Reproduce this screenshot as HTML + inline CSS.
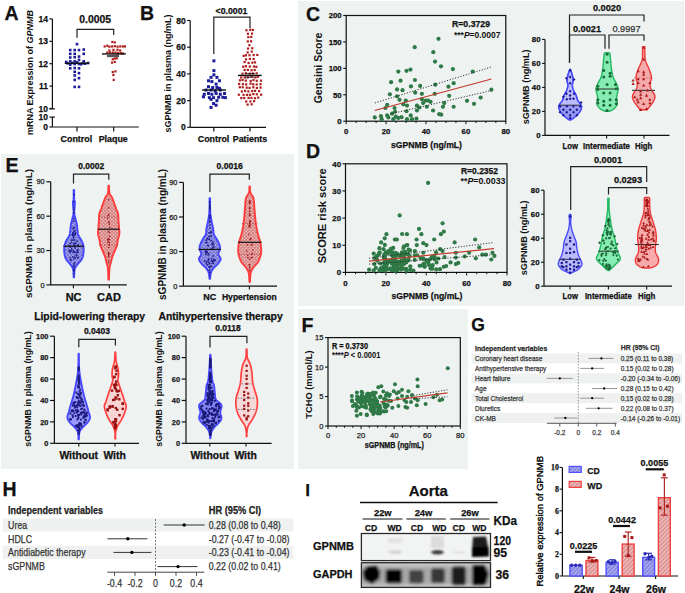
<!DOCTYPE html><html><head><meta charset="utf-8"><style>html,body{margin:0;padding:0;background:#fff;}svg{display:block;}</style></head><body><svg width="685" height="593" viewBox="0 0 685 593" font-family='"Liberation Sans", sans-serif'>
<defs>
<pattern id="hb" patternUnits="userSpaceOnUse" width="2.4" height="2.4" patternTransform="rotate(45)"><rect width="2.4" height="2.4" fill="#a4a4fa"/><rect width="0.7" height="2.4" fill="#6c6cc0"/><rect width="2.4" height="0.7" fill="#6c6cc0"/></pattern>
<pattern id="hr" patternUnits="userSpaceOnUse" width="2.4" height="2.4" patternTransform="rotate(45)"><rect width="2.4" height="2.4" fill="#f6b6b6"/><rect width="0.7" height="2.4" fill="#c87878"/><rect width="2.4" height="0.7" fill="#c87878"/></pattern>
<pattern id="hb2" patternUnits="userSpaceOnUse" width="3" height="3" patternTransform="rotate(45)"><rect width="3" height="3" fill="#b9b9f6"/><rect width="1" height="3" fill="#8a8ae0"/></pattern>
<pattern id="hr2" patternUnits="userSpaceOnUse" width="3" height="3" patternTransform="rotate(45)"><rect width="3" height="3" fill="#f0bcbc"/><rect width="1" height="3" fill="#d88a8a"/></pattern>
</defs>
<rect x="0" y="0" width="685" height="593" fill="#ffffff" stroke="none" stroke-width="0" />
<rect x="298" y="1" width="386" height="305" fill="#eef2f1" stroke="none" stroke-width="0" />
<rect x="1" y="154" width="293" height="315" fill="#eef2f1" stroke="none" stroke-width="0" />
<rect x="298" y="309" width="170" height="160" fill="#eef2f1" stroke="none" stroke-width="0" />
<text x="4.4" y="20.02" font-size="19.5" font-weight="bold" text-anchor="start" fill="#111"  stroke="#111" stroke-width="0.25">A</text>
<text x="0" y="0" font-size="9" font-weight="bold" fill="#111" text-anchor="middle" transform="translate(33.2 72.5) rotate(-90)">mRNA Expression of <tspan font-style="italic">GPNMB</tspan></text>
<line x1="52.4" y1="18.9" x2="52.4" y2="108.5" stroke="#111" stroke-width="1.2" />
<line x1="52.4" y1="117.1" x2="52.4" y2="127" stroke="#111" stroke-width="1.2" />
<line x1="49.4" y1="18.9" x2="52.4" y2="18.9" stroke="#111" stroke-width="1.2" />
<text x="47.9" y="21.96" font-size="8.5" font-weight="bold" text-anchor="end" fill="#111"  stroke="#111" stroke-width="0.25">14</text>
<line x1="49.4" y1="41.3" x2="52.4" y2="41.3" stroke="#111" stroke-width="1.2" />
<text x="47.9" y="44.36" font-size="8.5" font-weight="bold" text-anchor="end" fill="#111"  stroke="#111" stroke-width="0.25">13</text>
<line x1="49.4" y1="63.7" x2="52.4" y2="63.7" stroke="#111" stroke-width="1.2" />
<text x="47.9" y="66.76" font-size="8.5" font-weight="bold" text-anchor="end" fill="#111"  stroke="#111" stroke-width="0.25">12</text>
<line x1="49.4" y1="86.1" x2="52.4" y2="86.1" stroke="#111" stroke-width="1.2" />
<text x="47.9" y="89.16" font-size="8.5" font-weight="bold" text-anchor="end" fill="#111"  stroke="#111" stroke-width="0.25">11</text>
<line x1="49.4" y1="108.5" x2="52.4" y2="108.5" stroke="#111" stroke-width="1.2" />
<text x="47.9" y="111.56" font-size="8.5" font-weight="bold" text-anchor="end" fill="#111"  stroke="#111" stroke-width="0.25">10</text>
<line x1="49.4" y1="108.9" x2="54.9" y2="108.9" stroke="#111" stroke-width="1.2" />
<line x1="49.4" y1="117.1" x2="54.9" y2="117.1" stroke="#111" stroke-width="1.2" />
<line x1="49.4" y1="127" x2="52.4" y2="127" stroke="#111" stroke-width="1.2" />
<text x="47.9" y="120.16" font-size="8.5" font-weight="bold" text-anchor="end" fill="#111"  stroke="#111" stroke-width="0.25">10</text>
<text x="47.9" y="130.06" font-size="8.5" font-weight="bold" text-anchor="end" fill="#111"  stroke="#111" stroke-width="0.25">0</text>
<line x1="52.4" y1="127" x2="138.8" y2="127" stroke="#111" stroke-width="1.2" />
<line x1="77" y1="127" x2="77" y2="131.5" stroke="#111" stroke-width="1.2" />
<line x1="113.7" y1="127" x2="113.7" y2="131.5" stroke="#111" stroke-width="1.2" />
<text x="76.4" y="141.6" font-size="8.9" font-weight="bold" text-anchor="middle" fill="#111"  stroke="#111" stroke-width="0.25">Control</text>
<text x="113.2" y="141.6" font-size="8.9" font-weight="bold" text-anchor="middle" fill="#111"  stroke="#111" stroke-width="0.25">Plaque</text>
<polyline points="77,37.7 77,29.3 113.7,29.3 113.7,35" stroke="#222" stroke-width="1.2" fill="none" />
<text x="95.2" y="23.34" font-size="10.4" font-weight="bold" text-anchor="middle" fill="#111"  stroke="#111" stroke-width="0.25">0.0005</text>
<rect x="75.69" y="42.84" width="2.6" height="2.6" fill="#1d1d9a" stroke="none" stroke-width="0" />
<rect x="68.94" y="48.78" width="2.6" height="2.6" fill="#1d1d9a" stroke="none" stroke-width="0" />
<rect x="73.4" y="48.78" width="2.6" height="2.6" fill="#1d1d9a" stroke="none" stroke-width="0" />
<rect x="77.71" y="48.78" width="2.6" height="2.6" fill="#1d1d9a" stroke="none" stroke-width="0" />
<rect x="82.44" y="48.24" width="2.6" height="2.6" fill="#1d1d9a" stroke="none" stroke-width="0" />
<rect x="68.94" y="52.56" width="2.6" height="2.6" fill="#1d1d9a" stroke="none" stroke-width="0" />
<rect x="73.4" y="52.56" width="2.6" height="2.6" fill="#1d1d9a" stroke="none" stroke-width="0" />
<rect x="82.44" y="52.56" width="2.6" height="2.6" fill="#1d1d9a" stroke="none" stroke-width="0" />
<rect x="68.94" y="56.2" width="2.6" height="2.6" fill="#1d1d9a" stroke="none" stroke-width="0" />
<rect x="73.4" y="55.93" width="2.6" height="2.6" fill="#1d1d9a" stroke="none" stroke-width="0" />
<rect x="77.71" y="55.26" width="2.6" height="2.6" fill="#1d1d9a" stroke="none" stroke-width="0" />
<rect x="64.89" y="60.66" width="2.6" height="2.6" fill="#1d1d9a" stroke="none" stroke-width="0" />
<rect x="68.94" y="59.98" width="2.6" height="2.6" fill="#1d1d9a" stroke="none" stroke-width="0" />
<rect x="73.4" y="59.98" width="2.6" height="2.6" fill="#1d1d9a" stroke="none" stroke-width="0" />
<rect x="77.71" y="58.63" width="2.6" height="2.6" fill="#1d1d9a" stroke="none" stroke-width="0" />
<rect x="81.09" y="62.01" width="2.6" height="2.6" fill="#1d1d9a" stroke="none" stroke-width="0" />
<rect x="86.89" y="61.74" width="2.6" height="2.6" fill="#1d1d9a" stroke="none" stroke-width="0" />
<rect x="68.94" y="63.36" width="2.6" height="2.6" fill="#1d1d9a" stroke="none" stroke-width="0" />
<rect x="73.4" y="62.68" width="2.6" height="2.6" fill="#1d1d9a" stroke="none" stroke-width="0" />
<rect x="77.71" y="62.68" width="2.6" height="2.6" fill="#1d1d9a" stroke="none" stroke-width="0" />
<rect x="68.94" y="67" width="2.6" height="2.6" fill="#1d1d9a" stroke="none" stroke-width="0" />
<rect x="73.4" y="66.73" width="2.6" height="2.6" fill="#1d1d9a" stroke="none" stroke-width="0" />
<rect x="77.71" y="67" width="2.6" height="2.6" fill="#1d1d9a" stroke="none" stroke-width="0" />
<rect x="73.4" y="70.51" width="2.6" height="2.6" fill="#1d1d9a" stroke="none" stroke-width="0" />
<rect x="77.71" y="71.86" width="2.6" height="2.6" fill="#1d1d9a" stroke="none" stroke-width="0" />
<rect x="73.4" y="74.15" width="2.6" height="2.6" fill="#1d1d9a" stroke="none" stroke-width="0" />
<rect x="77.71" y="76.85" width="2.6" height="2.6" fill="#1d1d9a" stroke="none" stroke-width="0" />
<rect x="73.4" y="78.61" width="2.6" height="2.6" fill="#1d1d9a" stroke="none" stroke-width="0" />
<rect x="73.4" y="85.62" width="2.6" height="2.6" fill="#1d1d9a" stroke="none" stroke-width="0" />
<rect x="77.71" y="85.62" width="2.6" height="2.6" fill="#1d1d9a" stroke="none" stroke-width="0" />
<rect x="70.97" y="61.6" width="2.6" height="2.6" fill="#1d1d9a" stroke="none" stroke-width="0" />
<rect x="75.69" y="61.06" width="2.6" height="2.6" fill="#1d1d9a" stroke="none" stroke-width="0" />
<rect x="79.74" y="62.95" width="2.6" height="2.6" fill="#1d1d9a" stroke="none" stroke-width="0" />
<rect x="83.79" y="62.41" width="2.6" height="2.6" fill="#1d1d9a" stroke="none" stroke-width="0" />
<rect x="66.24" y="62.01" width="2.6" height="2.6" fill="#1d1d9a" stroke="none" stroke-width="0" />
<rect x="82.44" y="59.98" width="2.6" height="2.6" fill="#1d1d9a" stroke="none" stroke-width="0" />
<rect x="111.25" y="40.88" width="2.2" height="2.2" fill="#b01c1c" stroke="none" stroke-width="0" />
<rect x="113.68" y="41.29" width="2.2" height="2.2" fill="#b01c1c" stroke="none" stroke-width="0" />
<rect x="103.56" y="45.34" width="2.2" height="2.2" fill="#b01c1c" stroke="none" stroke-width="0" />
<rect x="106.25" y="44.66" width="2.2" height="2.2" fill="#b01c1c" stroke="none" stroke-width="0" />
<rect x="108.28" y="45.61" width="2.2" height="2.2" fill="#b01c1c" stroke="none" stroke-width="0" />
<rect x="110.98" y="45.34" width="2.2" height="2.2" fill="#b01c1c" stroke="none" stroke-width="0" />
<rect x="113.68" y="45.07" width="2.2" height="2.2" fill="#b01c1c" stroke="none" stroke-width="0" />
<rect x="116.38" y="45.61" width="2.2" height="2.2" fill="#b01c1c" stroke="none" stroke-width="0" />
<rect x="119.08" y="45.34" width="2.2" height="2.2" fill="#b01c1c" stroke="none" stroke-width="0" />
<rect x="121.77" y="45.34" width="2.2" height="2.2" fill="#b01c1c" stroke="none" stroke-width="0" />
<rect x="123.8" y="45.34" width="2.2" height="2.2" fill="#b01c1c" stroke="none" stroke-width="0" />
<rect x="106.25" y="51.41" width="2.2" height="2.2" fill="#b01c1c" stroke="none" stroke-width="0" />
<rect x="108.95" y="51.41" width="2.2" height="2.2" fill="#b01c1c" stroke="none" stroke-width="0" />
<rect x="111.65" y="51.41" width="2.2" height="2.2" fill="#b01c1c" stroke="none" stroke-width="0" />
<rect x="114.35" y="51.41" width="2.2" height="2.2" fill="#b01c1c" stroke="none" stroke-width="0" />
<rect x="117.05" y="51.81" width="2.2" height="2.2" fill="#b01c1c" stroke="none" stroke-width="0" />
<rect x="119.75" y="52.08" width="2.2" height="2.2" fill="#b01c1c" stroke="none" stroke-width="0" />
<rect x="121.77" y="52.35" width="2.2" height="2.2" fill="#b01c1c" stroke="none" stroke-width="0" />
<rect x="110.98" y="54.78" width="2.2" height="2.2" fill="#b01c1c" stroke="none" stroke-width="0" />
<rect x="113.68" y="54.78" width="2.2" height="2.2" fill="#b01c1c" stroke="none" stroke-width="0" />
<rect x="116.38" y="54.11" width="2.2" height="2.2" fill="#b01c1c" stroke="none" stroke-width="0" />
<rect x="111.65" y="58.16" width="2.2" height="2.2" fill="#b01c1c" stroke="none" stroke-width="0" />
<rect x="113.68" y="57.48" width="2.2" height="2.2" fill="#b01c1c" stroke="none" stroke-width="0" />
<rect x="115.7" y="57.21" width="2.2" height="2.2" fill="#b01c1c" stroke="none" stroke-width="0" />
<rect x="110.98" y="61.53" width="2.2" height="2.2" fill="#b01c1c" stroke="none" stroke-width="0" />
<rect x="113.68" y="60.86" width="2.2" height="2.2" fill="#b01c1c" stroke="none" stroke-width="0" />
<rect x="111.65" y="70.98" width="2.2" height="2.2" fill="#b01c1c" stroke="none" stroke-width="0" />
<rect x="114.35" y="70.3" width="2.2" height="2.2" fill="#b01c1c" stroke="none" stroke-width="0" />
<rect x="112.33" y="73.95" width="2.2" height="2.2" fill="#b01c1c" stroke="none" stroke-width="0" />
<rect x="112.6" y="78.81" width="2.2" height="2.2" fill="#b01c1c" stroke="none" stroke-width="0" />
<rect x="108.28" y="49.39" width="2.2" height="2.2" fill="#b01c1c" stroke="none" stroke-width="0" />
<rect x="112.33" y="48.71" width="2.2" height="2.2" fill="#b01c1c" stroke="none" stroke-width="0" />
<rect x="116.38" y="48.71" width="2.2" height="2.2" fill="#b01c1c" stroke="none" stroke-width="0" />
<rect x="119.08" y="49.39" width="2.2" height="2.2" fill="#b01c1c" stroke="none" stroke-width="0" />
<line x1="64.8" y1="63.3" x2="89" y2="63.3" stroke="#111" stroke-width="1.4" />
<line x1="102" y1="53.9" x2="125.8" y2="53.9" stroke="#111" stroke-width="1.4" />
<rect x="107" y="55" width="12" height="2.2" fill="#555" stroke="none" stroke-width="0" />
<text x="140.1" y="20.02" font-size="19.5" font-weight="bold" text-anchor="start" fill="#111"  stroke="#111" stroke-width="0.25">B</text>
<text x="0" y="0" font-size="9" font-weight="bold" fill="#111" text-anchor="middle" transform="translate(171 73.5) rotate(-90)">sGPNMB in plasma (ng/mL)</text>
<line x1="190.2" y1="20.5" x2="190.2" y2="127.3" stroke="#111" stroke-width="1.2" />
<line x1="187.2" y1="127.3" x2="190.2" y2="127.3" stroke="#111" stroke-width="1.2" />
<text x="185.7" y="130.36" font-size="8.5" font-weight="bold" text-anchor="end" fill="#111"  stroke="#111" stroke-width="0.25">0</text>
<line x1="187.2" y1="100.6" x2="190.2" y2="100.6" stroke="#111" stroke-width="1.2" />
<text x="185.7" y="103.66" font-size="8.5" font-weight="bold" text-anchor="end" fill="#111"  stroke="#111" stroke-width="0.25">20</text>
<line x1="187.2" y1="73.9" x2="190.2" y2="73.9" stroke="#111" stroke-width="1.2" />
<text x="185.7" y="76.96" font-size="8.5" font-weight="bold" text-anchor="end" fill="#111"  stroke="#111" stroke-width="0.25">40</text>
<line x1="187.2" y1="47.2" x2="190.2" y2="47.2" stroke="#111" stroke-width="1.2" />
<text x="185.7" y="50.26" font-size="8.5" font-weight="bold" text-anchor="end" fill="#111"  stroke="#111" stroke-width="0.25">60</text>
<line x1="187.2" y1="20.5" x2="190.2" y2="20.5" stroke="#111" stroke-width="1.2" />
<text x="185.7" y="23.56" font-size="8.5" font-weight="bold" text-anchor="end" fill="#111"  stroke="#111" stroke-width="0.25">80</text>
<line x1="190.2" y1="127.3" x2="266" y2="127.3" stroke="#111" stroke-width="1.2" />
<line x1="213.8" y1="127.3" x2="213.8" y2="131.5" stroke="#111" stroke-width="1.2" />
<line x1="250" y1="127.3" x2="250" y2="131.5" stroke="#111" stroke-width="1.2" />
<text x="213.5" y="141.7" font-size="8.9" font-weight="bold" text-anchor="middle" fill="#111"  stroke="#111" stroke-width="0.25">Control</text>
<text x="250" y="141.7" font-size="8.9" font-weight="bold" text-anchor="middle" fill="#111"  stroke="#111" stroke-width="0.25">Patients</text>
<polyline points="213.8,54 213.8,17.2 250,17.2 250,28" stroke="#222" stroke-width="1.2" fill="none" />
<text x="231.5" y="13.51" font-size="9.2" font-weight="bold" text-anchor="middle" fill="#111"  textLength="32" lengthAdjust="spacingAndGlyphs" stroke="#111" stroke-width="0.25">&lt;0.0001</text>
<rect x="212.4" y="59.34" width="3" height="3" fill="#1d1d9a" stroke="none" stroke-width="0" />
<rect x="212.4" y="69.13" width="3" height="3" fill="#1d1d9a" stroke="none" stroke-width="0" />
<rect x="212.4" y="73.35" width="3" height="3" fill="#1d1d9a" stroke="none" stroke-width="0" />
<rect x="209.53" y="75.88" width="3" height="3" fill="#1d1d9a" stroke="none" stroke-width="0" />
<rect x="215.44" y="75.88" width="3" height="3" fill="#1d1d9a" stroke="none" stroke-width="0" />
<rect x="207" y="79.26" width="3" height="3" fill="#1d1d9a" stroke="none" stroke-width="0" />
<rect x="217.97" y="79.26" width="3" height="3" fill="#1d1d9a" stroke="none" stroke-width="0" />
<rect x="210.38" y="80.1" width="3" height="3" fill="#1d1d9a" stroke="none" stroke-width="0" />
<rect x="214.6" y="82.64" width="3" height="3" fill="#1d1d9a" stroke="none" stroke-width="0" />
<rect x="207" y="85.17" width="3" height="3" fill="#1d1d9a" stroke="none" stroke-width="0" />
<rect x="211.22" y="86.01" width="3" height="3" fill="#1d1d9a" stroke="none" stroke-width="0" />
<rect x="215.44" y="86.01" width="3" height="3" fill="#1d1d9a" stroke="none" stroke-width="0" />
<rect x="217.97" y="86.85" width="3" height="3" fill="#1d1d9a" stroke="none" stroke-width="0" />
<rect x="204.47" y="88.54" width="3" height="3" fill="#1d1d9a" stroke="none" stroke-width="0" />
<rect x="209.53" y="88.54" width="3" height="3" fill="#1d1d9a" stroke="none" stroke-width="0" />
<rect x="213.75" y="89.39" width="3" height="3" fill="#1d1d9a" stroke="none" stroke-width="0" />
<rect x="218.82" y="88.54" width="3" height="3" fill="#1d1d9a" stroke="none" stroke-width="0" />
<rect x="202.78" y="92.76" width="3" height="3" fill="#1d1d9a" stroke="none" stroke-width="0" />
<rect x="207" y="91.92" width="3" height="3" fill="#1d1d9a" stroke="none" stroke-width="0" />
<rect x="210.38" y="92.76" width="3" height="3" fill="#1d1d9a" stroke="none" stroke-width="0" />
<rect x="214.6" y="91.92" width="3" height="3" fill="#1d1d9a" stroke="none" stroke-width="0" />
<rect x="218.82" y="92.76" width="3" height="3" fill="#1d1d9a" stroke="none" stroke-width="0" />
<rect x="223.04" y="91.92" width="3" height="3" fill="#1d1d9a" stroke="none" stroke-width="0" />
<rect x="201.94" y="95.29" width="3" height="3" fill="#1d1d9a" stroke="none" stroke-width="0" />
<rect x="207.85" y="96.14" width="3" height="3" fill="#1d1d9a" stroke="none" stroke-width="0" />
<rect x="212.07" y="96.14" width="3" height="3" fill="#1d1d9a" stroke="none" stroke-width="0" />
<rect x="217.13" y="95.8" width="3" height="3" fill="#1d1d9a" stroke="none" stroke-width="0" />
<rect x="221.35" y="95.8" width="3" height="3" fill="#1d1d9a" stroke="none" stroke-width="0" />
<rect x="223.88" y="96.14" width="3" height="3" fill="#1d1d9a" stroke="none" stroke-width="0" />
<rect x="209.53" y="97.82" width="3" height="3" fill="#1d1d9a" stroke="none" stroke-width="0" />
<rect x="215.44" y="99.18" width="3" height="3" fill="#1d1d9a" stroke="none" stroke-width="0" />
<rect x="212.07" y="102.04" width="3" height="3" fill="#1d1d9a" stroke="none" stroke-width="0" />
<rect x="214.6" y="103.73" width="3" height="3" fill="#1d1d9a" stroke="none" stroke-width="0" />
<rect x="209.53" y="105.93" width="3" height="3" fill="#1d1d9a" stroke="none" stroke-width="0" />
<rect x="245.36" y="29.16" width="2.2" height="2.2" fill="#b01c1c" stroke="none" stroke-width="0" />
<rect x="249.13" y="28.64" width="2.2" height="2.2" fill="#b01c1c" stroke="none" stroke-width="0" />
<rect x="251.72" y="28.87" width="2.2" height="2.2" fill="#b01c1c" stroke="none" stroke-width="0" />
<rect x="246.83" y="32.71" width="2.2" height="2.2" fill="#b01c1c" stroke="none" stroke-width="0" />
<rect x="250.92" y="32.5" width="2.2" height="2.2" fill="#b01c1c" stroke="none" stroke-width="0" />
<rect x="247.23" y="36.06" width="2.2" height="2.2" fill="#b01c1c" stroke="none" stroke-width="0" />
<rect x="250.15" y="35.84" width="2.2" height="2.2" fill="#b01c1c" stroke="none" stroke-width="0" />
<rect x="246.68" y="40.31" width="2.2" height="2.2" fill="#b01c1c" stroke="none" stroke-width="0" />
<rect x="250.03" y="40.22" width="2.2" height="2.2" fill="#b01c1c" stroke="none" stroke-width="0" />
<rect x="248.3" y="44.09" width="2.2" height="2.2" fill="#b01c1c" stroke="none" stroke-width="0" />
<rect x="246.92" y="47.5" width="2.2" height="2.2" fill="#b01c1c" stroke="none" stroke-width="0" />
<rect x="251.13" y="47.12" width="2.2" height="2.2" fill="#b01c1c" stroke="none" stroke-width="0" />
<rect x="246.54" y="51.32" width="2.2" height="2.2" fill="#b01c1c" stroke="none" stroke-width="0" />
<rect x="250.66" y="50.49" width="2.2" height="2.2" fill="#b01c1c" stroke="none" stroke-width="0" />
<rect x="242.58" y="54.75" width="2.2" height="2.2" fill="#b01c1c" stroke="none" stroke-width="0" />
<rect x="244.86" y="54.22" width="2.2" height="2.2" fill="#b01c1c" stroke="none" stroke-width="0" />
<rect x="248.39" y="54.11" width="2.2" height="2.2" fill="#b01c1c" stroke="none" stroke-width="0" />
<rect x="252.57" y="53.96" width="2.2" height="2.2" fill="#b01c1c" stroke="none" stroke-width="0" />
<rect x="256.18" y="53.85" width="2.2" height="2.2" fill="#b01c1c" stroke="none" stroke-width="0" />
<rect x="244.94" y="58.22" width="2.2" height="2.2" fill="#b01c1c" stroke="none" stroke-width="0" />
<rect x="248.76" y="57.82" width="2.2" height="2.2" fill="#b01c1c" stroke="none" stroke-width="0" />
<rect x="252.53" y="57.88" width="2.2" height="2.2" fill="#b01c1c" stroke="none" stroke-width="0" />
<rect x="243.49" y="60.93" width="2.2" height="2.2" fill="#b01c1c" stroke="none" stroke-width="0" />
<rect x="247.47" y="61.87" width="2.2" height="2.2" fill="#b01c1c" stroke="none" stroke-width="0" />
<rect x="251.32" y="61.56" width="2.2" height="2.2" fill="#b01c1c" stroke="none" stroke-width="0" />
<rect x="253.95" y="61.26" width="2.2" height="2.2" fill="#b01c1c" stroke="none" stroke-width="0" />
<rect x="242.17" y="65.57" width="2.2" height="2.2" fill="#b01c1c" stroke="none" stroke-width="0" />
<rect x="244.86" y="65.13" width="2.2" height="2.2" fill="#b01c1c" stroke="none" stroke-width="0" />
<rect x="248.71" y="65.41" width="2.2" height="2.2" fill="#b01c1c" stroke="none" stroke-width="0" />
<rect x="252.83" y="65.4" width="2.2" height="2.2" fill="#b01c1c" stroke="none" stroke-width="0" />
<rect x="255.24" y="65.72" width="2.2" height="2.2" fill="#b01c1c" stroke="none" stroke-width="0" />
<rect x="243.55" y="68.92" width="2.2" height="2.2" fill="#b01c1c" stroke="none" stroke-width="0" />
<rect x="246.76" y="68.83" width="2.2" height="2.2" fill="#b01c1c" stroke="none" stroke-width="0" />
<rect x="250.49" y="69.17" width="2.2" height="2.2" fill="#b01c1c" stroke="none" stroke-width="0" />
<rect x="253.59" y="68.95" width="2.2" height="2.2" fill="#b01c1c" stroke="none" stroke-width="0" />
<rect x="241.45" y="72.6" width="2.2" height="2.2" fill="#b01c1c" stroke="none" stroke-width="0" />
<rect x="244.75" y="72.18" width="2.2" height="2.2" fill="#b01c1c" stroke="none" stroke-width="0" />
<rect x="248.68" y="72.54" width="2.2" height="2.2" fill="#b01c1c" stroke="none" stroke-width="0" />
<rect x="251.77" y="72.36" width="2.2" height="2.2" fill="#b01c1c" stroke="none" stroke-width="0" />
<rect x="255.49" y="72.18" width="2.2" height="2.2" fill="#b01c1c" stroke="none" stroke-width="0" />
<rect x="240.12" y="76.36" width="2.2" height="2.2" fill="#b01c1c" stroke="none" stroke-width="0" />
<rect x="243.62" y="76.36" width="2.2" height="2.2" fill="#b01c1c" stroke="none" stroke-width="0" />
<rect x="246.68" y="76.32" width="2.2" height="2.2" fill="#b01c1c" stroke="none" stroke-width="0" />
<rect x="250.46" y="75.59" width="2.2" height="2.2" fill="#b01c1c" stroke="none" stroke-width="0" />
<rect x="254.5" y="76.31" width="2.2" height="2.2" fill="#b01c1c" stroke="none" stroke-width="0" />
<rect x="256.96" y="75.67" width="2.2" height="2.2" fill="#b01c1c" stroke="none" stroke-width="0" />
<rect x="238.78" y="79.24" width="2.2" height="2.2" fill="#b01c1c" stroke="none" stroke-width="0" />
<rect x="241.54" y="78.91" width="2.2" height="2.2" fill="#b01c1c" stroke="none" stroke-width="0" />
<rect x="244.76" y="79.52" width="2.2" height="2.2" fill="#b01c1c" stroke="none" stroke-width="0" />
<rect x="249.58" y="79.9" width="2.2" height="2.2" fill="#b01c1c" stroke="none" stroke-width="0" />
<rect x="252.41" y="78.92" width="2.2" height="2.2" fill="#b01c1c" stroke="none" stroke-width="0" />
<rect x="255.65" y="79.69" width="2.2" height="2.2" fill="#b01c1c" stroke="none" stroke-width="0" />
<rect x="259.86" y="79.54" width="2.2" height="2.2" fill="#b01c1c" stroke="none" stroke-width="0" />
<rect x="238.02" y="82.93" width="2.2" height="2.2" fill="#b01c1c" stroke="none" stroke-width="0" />
<rect x="241.87" y="83.03" width="2.2" height="2.2" fill="#b01c1c" stroke="none" stroke-width="0" />
<rect x="245.07" y="83.35" width="2.2" height="2.2" fill="#b01c1c" stroke="none" stroke-width="0" />
<rect x="249.45" y="82.56" width="2.2" height="2.2" fill="#b01c1c" stroke="none" stroke-width="0" />
<rect x="252.11" y="83.27" width="2.2" height="2.2" fill="#b01c1c" stroke="none" stroke-width="0" />
<rect x="255.59" y="83.34" width="2.2" height="2.2" fill="#b01c1c" stroke="none" stroke-width="0" />
<rect x="259.42" y="83.1" width="2.2" height="2.2" fill="#b01c1c" stroke="none" stroke-width="0" />
<rect x="238.69" y="86.11" width="2.2" height="2.2" fill="#b01c1c" stroke="none" stroke-width="0" />
<rect x="241.6" y="86.15" width="2.2" height="2.2" fill="#b01c1c" stroke="none" stroke-width="0" />
<rect x="245.66" y="86.59" width="2.2" height="2.2" fill="#b01c1c" stroke="none" stroke-width="0" />
<rect x="248.38" y="86.79" width="2.2" height="2.2" fill="#b01c1c" stroke="none" stroke-width="0" />
<rect x="252.29" y="86.14" width="2.2" height="2.2" fill="#b01c1c" stroke="none" stroke-width="0" />
<rect x="255.81" y="86.88" width="2.2" height="2.2" fill="#b01c1c" stroke="none" stroke-width="0" />
<rect x="259.48" y="86.52" width="2.2" height="2.2" fill="#b01c1c" stroke="none" stroke-width="0" />
<rect x="240.74" y="90.36" width="2.2" height="2.2" fill="#b01c1c" stroke="none" stroke-width="0" />
<rect x="244.01" y="89.82" width="2.2" height="2.2" fill="#b01c1c" stroke="none" stroke-width="0" />
<rect x="247.27" y="90.3" width="2.2" height="2.2" fill="#b01c1c" stroke="none" stroke-width="0" />
<rect x="251.05" y="89.98" width="2.2" height="2.2" fill="#b01c1c" stroke="none" stroke-width="0" />
<rect x="253.94" y="89.77" width="2.2" height="2.2" fill="#b01c1c" stroke="none" stroke-width="0" />
<rect x="257.98" y="89.96" width="2.2" height="2.2" fill="#b01c1c" stroke="none" stroke-width="0" />
<rect x="237.72" y="93.61" width="2.2" height="2.2" fill="#b01c1c" stroke="none" stroke-width="0" />
<rect x="242.47" y="93.7" width="2.2" height="2.2" fill="#b01c1c" stroke="none" stroke-width="0" />
<rect x="245.96" y="93.81" width="2.2" height="2.2" fill="#b01c1c" stroke="none" stroke-width="0" />
<rect x="248.95" y="93.69" width="2.2" height="2.2" fill="#b01c1c" stroke="none" stroke-width="0" />
<rect x="252.23" y="93" width="2.2" height="2.2" fill="#b01c1c" stroke="none" stroke-width="0" />
<rect x="255.69" y="93.21" width="2.2" height="2.2" fill="#b01c1c" stroke="none" stroke-width="0" />
<rect x="260.01" y="93.59" width="2.2" height="2.2" fill="#b01c1c" stroke="none" stroke-width="0" />
<rect x="240.21" y="97.02" width="2.2" height="2.2" fill="#b01c1c" stroke="none" stroke-width="0" />
<rect x="243.12" y="96.93" width="2.2" height="2.2" fill="#b01c1c" stroke="none" stroke-width="0" />
<rect x="247.43" y="96.79" width="2.2" height="2.2" fill="#b01c1c" stroke="none" stroke-width="0" />
<rect x="250.29" y="96.81" width="2.2" height="2.2" fill="#b01c1c" stroke="none" stroke-width="0" />
<rect x="253.9" y="97.09" width="2.2" height="2.2" fill="#b01c1c" stroke="none" stroke-width="0" />
<rect x="257.15" y="96.49" width="2.2" height="2.2" fill="#b01c1c" stroke="none" stroke-width="0" />
<rect x="245.14" y="100.4" width="2.2" height="2.2" fill="#b01c1c" stroke="none" stroke-width="0" />
<rect x="249.26" y="100.36" width="2.2" height="2.2" fill="#b01c1c" stroke="none" stroke-width="0" />
<rect x="253.01" y="100.07" width="2.2" height="2.2" fill="#b01c1c" stroke="none" stroke-width="0" />
<rect x="246.49" y="103.49" width="2.2" height="2.2" fill="#b01c1c" stroke="none" stroke-width="0" />
<rect x="250.57" y="103.18" width="2.2" height="2.2" fill="#b01c1c" stroke="none" stroke-width="0" />
<line x1="202" y1="90" x2="226" y2="90" stroke="#111" stroke-width="1.4" />
<line x1="238" y1="75.4" x2="261.7" y2="75.4" stroke="#111" stroke-width="1.4" />
<line x1="245" y1="73.6" x2="255" y2="73.6" stroke="#111" stroke-width="0.8" />
<line x1="245" y1="77.2" x2="255" y2="77.2" stroke="#111" stroke-width="0.8" />
<text x="306.1" y="20.92" font-size="19.5" font-weight="bold" text-anchor="start" fill="#111"  stroke="#111" stroke-width="0.25">C</text>
<rect x="346.2" y="15.5" width="159.6" height="105.7" fill="none" stroke="#111" stroke-width="1.2" />
<line x1="343.2" y1="121.2" x2="346.2" y2="121.2" stroke="#111" stroke-width="1.1" />
<text x="341.7" y="124.01" font-size="7.8" font-weight="bold" text-anchor="end" fill="#111"  stroke="#111" stroke-width="0.25">0</text>
<line x1="343.2" y1="94.78" x2="346.2" y2="94.78" stroke="#111" stroke-width="1.1" />
<text x="341.7" y="97.58" font-size="7.8" font-weight="bold" text-anchor="end" fill="#111"  stroke="#111" stroke-width="0.25">50</text>
<line x1="343.2" y1="68.35" x2="346.2" y2="68.35" stroke="#111" stroke-width="1.1" />
<text x="341.7" y="71.16" font-size="7.8" font-weight="bold" text-anchor="end" fill="#111"  stroke="#111" stroke-width="0.25">100</text>
<line x1="343.2" y1="41.92" x2="346.2" y2="41.92" stroke="#111" stroke-width="1.1" />
<text x="341.7" y="44.73" font-size="7.8" font-weight="bold" text-anchor="end" fill="#111"  stroke="#111" stroke-width="0.25">150</text>
<line x1="343.2" y1="15.5" x2="346.2" y2="15.5" stroke="#111" stroke-width="1.1" />
<text x="341.7" y="18.31" font-size="7.8" font-weight="bold" text-anchor="end" fill="#111"  stroke="#111" stroke-width="0.25">200</text>
<line x1="346.2" y1="121.2" x2="346.2" y2="124.2" stroke="#111" stroke-width="1" />
<line x1="356.18" y1="121.2" x2="356.18" y2="123" stroke="#111" stroke-width="1" />
<line x1="366.15" y1="121.2" x2="366.15" y2="123" stroke="#111" stroke-width="1" />
<line x1="376.12" y1="121.2" x2="376.12" y2="123" stroke="#111" stroke-width="1" />
<line x1="386.1" y1="121.2" x2="386.1" y2="124.2" stroke="#111" stroke-width="1" />
<line x1="396.07" y1="121.2" x2="396.07" y2="123" stroke="#111" stroke-width="1" />
<line x1="406.05" y1="121.2" x2="406.05" y2="123" stroke="#111" stroke-width="1" />
<line x1="416.02" y1="121.2" x2="416.02" y2="123" stroke="#111" stroke-width="1" />
<line x1="426" y1="121.2" x2="426" y2="124.2" stroke="#111" stroke-width="1" />
<line x1="435.98" y1="121.2" x2="435.98" y2="123" stroke="#111" stroke-width="1" />
<line x1="445.95" y1="121.2" x2="445.95" y2="123" stroke="#111" stroke-width="1" />
<line x1="455.93" y1="121.2" x2="455.93" y2="123" stroke="#111" stroke-width="1" />
<line x1="465.9" y1="121.2" x2="465.9" y2="124.2" stroke="#111" stroke-width="1" />
<line x1="475.88" y1="121.2" x2="475.88" y2="123" stroke="#111" stroke-width="1" />
<line x1="485.85" y1="121.2" x2="485.85" y2="123" stroke="#111" stroke-width="1" />
<line x1="495.83" y1="121.2" x2="495.83" y2="123" stroke="#111" stroke-width="1" />
<line x1="505.8" y1="121.2" x2="505.8" y2="124.2" stroke="#111" stroke-width="1" />
<text x="346.2" y="134.01" font-size="7.8" font-weight="bold" text-anchor="middle" fill="#111"  stroke="#111" stroke-width="0.25">0</text>
<text x="386.1" y="134.01" font-size="7.8" font-weight="bold" text-anchor="middle" fill="#111"  stroke="#111" stroke-width="0.25">20</text>
<text x="426" y="134.01" font-size="7.8" font-weight="bold" text-anchor="middle" fill="#111"  stroke="#111" stroke-width="0.25">40</text>
<text x="465.9" y="134.01" font-size="7.8" font-weight="bold" text-anchor="middle" fill="#111"  stroke="#111" stroke-width="0.25">60</text>
<text x="505.8" y="134.01" font-size="7.8" font-weight="bold" text-anchor="middle" fill="#111"  stroke="#111" stroke-width="0.25">80</text>
<text x="426.5" y="147.91" font-size="9.2" font-weight="bold" text-anchor="middle" fill="#111"  textLength="71" lengthAdjust="spacingAndGlyphs" stroke="#111" stroke-width="0.25">sGPNMB (ng/mL)</text>
<text x="0" y="0" font-size="10.5" font-weight="bold" fill="#111" text-anchor="middle" transform="translate(321.8 68) rotate(-90)">Gensini Score</text>
<text x="452" y="27.24" font-size="9" font-weight="bold" text-anchor="start" fill="#111"  textLength="38" lengthAdjust="spacingAndGlyphs" stroke="#111" stroke-width="0.25">R=0.3729</text>
<text x="454" y="37.64" font-size="9.0" font-weight="bold" fill="#111" textLength="46.5" lengthAdjust="spacingAndGlyphs">***<tspan font-style="italic">P</tspan>=0.0007</text>
<circle cx="438.51" cy="38.78" r="2.1" fill="#2f7a47"/>
<circle cx="414.69" cy="47.22" r="2.1" fill="#2f7a47"/>
<circle cx="433.3" cy="52.18" r="2.1" fill="#2f7a47"/>
<circle cx="435.04" cy="61.61" r="2.1" fill="#2f7a47"/>
<circle cx="440.99" cy="66.33" r="2.1" fill="#2f7a47"/>
<circle cx="452.9" cy="69.06" r="2.1" fill="#2f7a47"/>
<circle cx="472.75" cy="71.54" r="2.1" fill="#2f7a47"/>
<circle cx="398.31" cy="71.54" r="2.1" fill="#2f7a47"/>
<circle cx="406.5" cy="70.79" r="2.1" fill="#2f7a47"/>
<circle cx="410.47" cy="69.55" r="2.1" fill="#2f7a47"/>
<circle cx="400.55" cy="80.72" r="2.1" fill="#2f7a47"/>
<circle cx="414.94" cy="79.98" r="2.1" fill="#2f7a47"/>
<circle cx="391.12" cy="82.21" r="2.1" fill="#2f7a47"/>
<circle cx="453.65" cy="83.2" r="2.1" fill="#2f7a47"/>
<circle cx="435.29" cy="84.69" r="2.1" fill="#2f7a47"/>
<circle cx="410.97" cy="86.43" r="2.1" fill="#2f7a47"/>
<circle cx="420.15" cy="85.93" r="2.1" fill="#2f7a47"/>
<circle cx="448.44" cy="86.67" r="2.1" fill="#2f7a47"/>
<circle cx="402.53" cy="90.15" r="2.1" fill="#2f7a47"/>
<circle cx="415.19" cy="92.63" r="2.1" fill="#2f7a47"/>
<circle cx="421.89" cy="93.87" r="2.1" fill="#2f7a47"/>
<circle cx="434.79" cy="93.87" r="2.1" fill="#2f7a47"/>
<circle cx="389.88" cy="94.37" r="2.1" fill="#2f7a47"/>
<circle cx="449.18" cy="95.86" r="2.1" fill="#2f7a47"/>
<circle cx="491.36" cy="89.65" r="2.1" fill="#2f7a47"/>
<circle cx="397.07" cy="96.35" r="2.1" fill="#2f7a47"/>
<circle cx="399.55" cy="99.83" r="2.1" fill="#2f7a47"/>
<circle cx="405.76" cy="100.57" r="2.1" fill="#2f7a47"/>
<circle cx="421.89" cy="99.33" r="2.1" fill="#2f7a47"/>
<circle cx="425.61" cy="100.57" r="2.1" fill="#2f7a47"/>
<circle cx="430.57" cy="101.81" r="2.1" fill="#2f7a47"/>
<circle cx="467.05" cy="100.82" r="2.1" fill="#2f7a47"/>
<circle cx="480.69" cy="97.59" r="2.1" fill="#2f7a47"/>
<circle cx="474" cy="103.8" r="2.1" fill="#2f7a47"/>
<circle cx="387.15" cy="104.79" r="2.1" fill="#2f7a47"/>
<circle cx="385.41" cy="108.01" r="2.1" fill="#2f7a47"/>
<circle cx="394.59" cy="108.01" r="2.1" fill="#2f7a47"/>
<circle cx="403.28" cy="104.29" r="2.1" fill="#2f7a47"/>
<circle cx="407" cy="105.53" r="2.1" fill="#2f7a47"/>
<circle cx="416.92" cy="105.53" r="2.1" fill="#2f7a47"/>
<circle cx="419.4" cy="107.52" r="2.1" fill="#2f7a47"/>
<circle cx="426.85" cy="106.77" r="2.1" fill="#2f7a47"/>
<circle cx="416.92" cy="110.5" r="2.1" fill="#2f7a47"/>
<circle cx="442.98" cy="106.77" r="2.1" fill="#2f7a47"/>
<circle cx="444.22" cy="103.05" r="2.1" fill="#2f7a47"/>
<circle cx="453.65" cy="106.77" r="2.1" fill="#2f7a47"/>
<circle cx="433.05" cy="110.5" r="2.1" fill="#2f7a47"/>
<circle cx="406.5" cy="111.24" r="2.1" fill="#2f7a47"/>
<circle cx="439.26" cy="114.22" r="2.1" fill="#2f7a47"/>
<circle cx="441.24" cy="114.71" r="2.1" fill="#2f7a47"/>
<circle cx="374.74" cy="117.44" r="2.1" fill="#2f7a47"/>
<circle cx="380.94" cy="116.2" r="2.1" fill="#2f7a47"/>
<circle cx="381.69" cy="119.18" r="2.1" fill="#2f7a47"/>
<circle cx="387.15" cy="115.46" r="2.1" fill="#2f7a47"/>
<circle cx="388.39" cy="117.44" r="2.1" fill="#2f7a47"/>
<circle cx="392.11" cy="113.72" r="2.1" fill="#2f7a47"/>
<circle cx="395.09" cy="111.74" r="2.1" fill="#2f7a47"/>
<circle cx="395.83" cy="116.7" r="2.1" fill="#2f7a47"/>
<circle cx="398.31" cy="117.94" r="2.1" fill="#2f7a47"/>
<circle cx="401.54" cy="117.2" r="2.1" fill="#2f7a47"/>
<circle cx="393.35" cy="119.18" r="2.1" fill="#2f7a47"/>
<circle cx="407" cy="119.18" r="2.1" fill="#2f7a47"/>
<circle cx="410.72" cy="115.46" r="2.1" fill="#2f7a47"/>
<circle cx="411.96" cy="119.18" r="2.1" fill="#2f7a47"/>
<circle cx="416.43" cy="118.68" r="2.1" fill="#2f7a47"/>
<circle cx="397.07" cy="89.4" r="2.1" fill="#2f7a47"/>
<circle cx="423.13" cy="103.05" r="2.1" fill="#2f7a47"/>
<circle cx="428.09" cy="100.57" r="2.1" fill="#2f7a47"/>
<line x1="374.7" y1="110.5" x2="491.4" y2="79" stroke="#c0392b" stroke-width="1.2" />
<line x1="374.7" y1="103" x2="491.4" y2="67" stroke="#222" stroke-width="0.9" stroke-dasharray="1.2,1.6" />
<line x1="390" y1="114" x2="491.4" y2="90.6" stroke="#222" stroke-width="0.9" stroke-dasharray="1.2,1.6" />
<line x1="545" y1="39.4" x2="545" y2="135.4" stroke="#111" stroke-width="1.2" />
<line x1="542" y1="135.4" x2="545" y2="135.4" stroke="#111" stroke-width="1.1" />
<text x="540.5" y="138.21" font-size="7.8" font-weight="bold" text-anchor="end" fill="#111"  stroke="#111" stroke-width="0.25">0</text>
<line x1="542" y1="111.4" x2="545" y2="111.4" stroke="#111" stroke-width="1.1" />
<text x="540.5" y="114.21" font-size="7.8" font-weight="bold" text-anchor="end" fill="#111"  stroke="#111" stroke-width="0.25">20</text>
<line x1="542" y1="87.4" x2="545" y2="87.4" stroke="#111" stroke-width="1.1" />
<text x="540.5" y="90.21" font-size="7.8" font-weight="bold" text-anchor="end" fill="#111"  stroke="#111" stroke-width="0.25">40</text>
<line x1="542" y1="63.4" x2="545" y2="63.4" stroke="#111" stroke-width="1.1" />
<text x="540.5" y="66.21" font-size="7.8" font-weight="bold" text-anchor="end" fill="#111"  stroke="#111" stroke-width="0.25">60</text>
<line x1="542" y1="39.4" x2="545" y2="39.4" stroke="#111" stroke-width="1.1" />
<text x="540.5" y="42.21" font-size="7.8" font-weight="bold" text-anchor="end" fill="#111"  stroke="#111" stroke-width="0.25">80</text>
<line x1="545" y1="135.4" x2="669.5" y2="135.4" stroke="#111" stroke-width="1.2" />
<line x1="570" y1="135.4" x2="570" y2="138.5" stroke="#111" stroke-width="1.1" />
<line x1="606.6" y1="135.4" x2="606.6" y2="138.5" stroke="#111" stroke-width="1.1" />
<line x1="644" y1="135.4" x2="644" y2="138.5" stroke="#111" stroke-width="1.1" />
<text x="570.2" y="148.52" font-size="8.4" font-weight="bold" text-anchor="middle" fill="#111"  textLength="15.3" lengthAdjust="spacingAndGlyphs" stroke="#111" stroke-width="0.25">Low</text>
<text x="606.5" y="148.52" font-size="8.4" font-weight="bold" text-anchor="middle" fill="#111"  textLength="47" lengthAdjust="spacingAndGlyphs" stroke="#111" stroke-width="0.25">Intermediate</text>
<text x="643.7" y="148.52" font-size="8.4" font-weight="bold" text-anchor="middle" fill="#111"  textLength="17.4" lengthAdjust="spacingAndGlyphs" stroke="#111" stroke-width="0.25">High</text>
<text x="0" y="0" font-size="9.1" font-weight="bold" fill="#111" text-anchor="middle" transform="translate(529.3 86.9) rotate(-90)">sGPNMB (ng/mL)</text>
<polyline points="569.5,63 569.5,15 644,15 644,21.6" stroke="#222" stroke-width="1.2" fill="none" />
<text x="607" y="11.21" font-size="9.2" font-weight="bold" text-anchor="middle" fill="#111"  stroke="#111" stroke-width="0.25">0.0020</text>
<polyline points="569.5,63 569.5,35 605,35 605,48.7" stroke="#222" stroke-width="1.2" fill="none" />
<text x="587" y="31.71" font-size="9.2" font-weight="bold" text-anchor="middle" fill="#111"  stroke="#111" stroke-width="0.25">0.0021</text>
<polyline points="609,48.7 609,35 644,35 644,40.8" stroke="#222" stroke-width="1.2" fill="none" />
<text x="626.5" y="31.71" font-size="9.2" font-weight="normal" text-anchor="middle" fill="#333"  stroke="#333" stroke-width="0.25">0.9997</text>
<path d="M570.41,69.41 L570.56,69.87 L570.78,70.49 L571.04,71.22 L571.32,72.04 L571.61,72.89 L571.89,73.74 L572.14,74.55 L572.34,75.29 L572.51,75.96 L572.66,76.61 L572.81,77.24 L572.93,77.86 L573.03,78.47 L573.11,79.09 L573.16,79.7 L573.18,80.32 L573.14,80.95 L573.04,81.58 L572.89,82.21 L572.73,82.84 L572.57,83.47 L572.44,84.1 L572.35,84.73 L572.34,85.36 L572.39,85.99 L572.48,86.62 L572.6,87.25 L572.76,87.88 L572.94,88.51 L573.14,89.14 L573.36,89.77 L573.6,90.4 L573.86,91.03 L574.16,91.66 L574.49,92.29 L574.83,92.92 L575.18,93.54 L575.51,94.17 L575.83,94.8 L576.11,95.43 L576.36,96.07 L576.57,96.73 L576.77,97.4 L576.95,98.06 L577.14,98.7 L577.33,99.33 L577.55,99.92 L577.79,100.47 L578.08,100.97 L578.39,101.43 L578.73,101.85 L579.08,102.25 L579.42,102.64 L579.75,103.03 L580.05,103.42 L580.31,103.83 L580.55,104.23 L580.79,104.63 L581.02,105.01 L581.23,105.4 L581.4,105.8 L581.52,106.23 L581.58,106.68 L581.57,107.18 L581.49,107.73 L581.35,108.32 L581.16,108.95 L580.91,109.6 L580.62,110.26 L580.28,110.92 L579.9,111.58 L579.47,112.22 L578.97,112.87 L578.38,113.54 L577.73,114.22 L577.03,114.9 L576.33,115.55 L575.65,116.17 L575.01,116.75 L574.44,117.26 L573.91,117.71 L573.4,118.12 L572.91,118.5 L572.44,118.83 L572.02,119.13 L571.64,119.38 L571.33,119.6 L571.08,119.77 L569.12,119.77 L568.87,119.6 L568.56,119.38 L568.18,119.13 L567.76,118.83 L567.29,118.5 L566.8,118.12 L566.29,117.71 L565.76,117.26 L565.19,116.75 L564.55,116.17 L563.87,115.55 L563.17,114.9 L562.47,114.22 L561.82,113.54 L561.23,112.87 L560.73,112.22 L560.3,111.58 L559.92,110.92 L559.58,110.26 L559.29,109.6 L559.04,108.95 L558.85,108.32 L558.71,107.73 L558.63,107.18 L558.62,106.68 L558.68,106.23 L558.8,105.8 L558.97,105.4 L559.18,105.01 L559.41,104.63 L559.65,104.23 L559.89,103.83 L560.15,103.42 L560.45,103.03 L560.78,102.64 L561.12,102.25 L561.47,101.85 L561.81,101.43 L562.12,100.97 L562.41,100.47 L562.65,99.92 L562.87,99.33 L563.06,98.7 L563.25,98.06 L563.43,97.4 L563.63,96.73 L563.84,96.07 L564.09,95.43 L564.37,94.8 L564.69,94.17 L565.02,93.54 L565.37,92.92 L565.71,92.29 L566.04,91.66 L566.34,91.03 L566.6,90.4 L566.84,89.77 L567.06,89.14 L567.26,88.51 L567.44,87.88 L567.6,87.25 L567.72,86.62 L567.81,85.99 L567.86,85.36 L567.85,84.73 L567.76,84.1 L567.63,83.47 L567.47,82.84 L567.31,82.21 L567.16,81.58 L567.06,80.95 L567.02,80.32 L567.04,79.7 L567.09,79.09 L567.17,78.47 L567.27,77.86 L567.39,77.24 L567.54,76.61 L567.69,75.96 L567.86,75.29 L568.06,74.55 L568.31,73.74 L568.59,72.89 L568.88,72.04 L569.16,71.22 L569.42,70.49 L569.64,69.87 L569.79,69.41 Z" fill="#bcbcfc" stroke="#4a4aff" stroke-width="1.4" stroke-linejoin="round" />
<clipPath id="cpl"><rect x="550" y="105" width="40" height="20"/></clipPath>
<path d="M570.41,69.41 L570.56,69.87 L570.78,70.49 L571.04,71.22 L571.32,72.04 L571.61,72.89 L571.89,73.74 L572.14,74.55 L572.34,75.29 L572.51,75.96 L572.66,76.61 L572.81,77.24 L572.93,77.86 L573.03,78.47 L573.11,79.09 L573.16,79.7 L573.18,80.32 L573.14,80.95 L573.04,81.58 L572.89,82.21 L572.73,82.84 L572.57,83.47 L572.44,84.1 L572.35,84.73 L572.34,85.36 L572.39,85.99 L572.48,86.62 L572.6,87.25 L572.76,87.88 L572.94,88.51 L573.14,89.14 L573.36,89.77 L573.6,90.4 L573.86,91.03 L574.16,91.66 L574.49,92.29 L574.83,92.92 L575.18,93.54 L575.51,94.17 L575.83,94.8 L576.11,95.43 L576.36,96.07 L576.57,96.73 L576.77,97.4 L576.95,98.06 L577.14,98.7 L577.33,99.33 L577.55,99.92 L577.79,100.47 L578.08,100.97 L578.39,101.43 L578.73,101.85 L579.08,102.25 L579.42,102.64 L579.75,103.03 L580.05,103.42 L580.31,103.83 L580.55,104.23 L580.79,104.63 L581.02,105.01 L581.23,105.4 L581.4,105.8 L581.52,106.23 L581.58,106.68 L581.57,107.18 L581.49,107.73 L581.35,108.32 L581.16,108.95 L580.91,109.6 L580.62,110.26 L580.28,110.92 L579.9,111.58 L579.47,112.22 L578.97,112.87 L578.38,113.54 L577.73,114.22 L577.03,114.9 L576.33,115.55 L575.65,116.17 L575.01,116.75 L574.44,117.26 L573.91,117.71 L573.4,118.12 L572.91,118.5 L572.44,118.83 L572.02,119.13 L571.64,119.38 L571.33,119.6 L571.08,119.77 L569.12,119.77 L568.87,119.6 L568.56,119.38 L568.18,119.13 L567.76,118.83 L567.29,118.5 L566.8,118.12 L566.29,117.71 L565.76,117.26 L565.19,116.75 L564.55,116.17 L563.87,115.55 L563.17,114.9 L562.47,114.22 L561.82,113.54 L561.23,112.87 L560.73,112.22 L560.3,111.58 L559.92,110.92 L559.58,110.26 L559.29,109.6 L559.04,108.95 L558.85,108.32 L558.71,107.73 L558.63,107.18 L558.62,106.68 L558.68,106.23 L558.8,105.8 L558.97,105.4 L559.18,105.01 L559.41,104.63 L559.65,104.23 L559.89,103.83 L560.15,103.42 L560.45,103.03 L560.78,102.64 L561.12,102.25 L561.47,101.85 L561.81,101.43 L562.12,100.97 L562.41,100.47 L562.65,99.92 L562.87,99.33 L563.06,98.7 L563.25,98.06 L563.43,97.4 L563.63,96.73 L563.84,96.07 L564.09,95.43 L564.37,94.8 L564.69,94.17 L565.02,93.54 L565.37,92.92 L565.71,92.29 L566.04,91.66 L566.34,91.03 L566.6,90.4 L566.84,89.77 L567.06,89.14 L567.26,88.51 L567.44,87.88 L567.6,87.25 L567.72,86.62 L567.81,85.99 L567.86,85.36 L567.85,84.73 L567.76,84.1 L567.63,83.47 L567.47,82.84 L567.31,82.21 L567.16,81.58 L567.06,80.95 L567.02,80.32 L567.04,79.7 L567.09,79.09 L567.17,78.47 L567.27,77.86 L567.39,77.24 L567.54,76.61 L567.69,75.96 L567.86,75.29 L568.06,74.55 L568.31,73.74 L568.59,72.89 L568.88,72.04 L569.16,71.22 L569.42,70.49 L569.64,69.87 L569.79,69.41 Z" fill="#9a9af6" stroke="none" stroke-width="0" stroke-linejoin="round" clip-path="url(#cpl)"/>
<path d="M570.41,69.41 L570.56,69.87 L570.78,70.49 L571.04,71.22 L571.32,72.04 L571.61,72.89 L571.89,73.74 L572.14,74.55 L572.34,75.29 L572.51,75.96 L572.66,76.61 L572.81,77.24 L572.93,77.86 L573.03,78.47 L573.11,79.09 L573.16,79.7 L573.18,80.32 L573.14,80.95 L573.04,81.58 L572.89,82.21 L572.73,82.84 L572.57,83.47 L572.44,84.1 L572.35,84.73 L572.34,85.36 L572.39,85.99 L572.48,86.62 L572.6,87.25 L572.76,87.88 L572.94,88.51 L573.14,89.14 L573.36,89.77 L573.6,90.4 L573.86,91.03 L574.16,91.66 L574.49,92.29 L574.83,92.92 L575.18,93.54 L575.51,94.17 L575.83,94.8 L576.11,95.43 L576.36,96.07 L576.57,96.73 L576.77,97.4 L576.95,98.06 L577.14,98.7 L577.33,99.33 L577.55,99.92 L577.79,100.47 L578.08,100.97 L578.39,101.43 L578.73,101.85 L579.08,102.25 L579.42,102.64 L579.75,103.03 L580.05,103.42 L580.31,103.83 L580.55,104.23 L580.79,104.63 L581.02,105.01 L581.23,105.4 L581.4,105.8 L581.52,106.23 L581.58,106.68 L581.57,107.18 L581.49,107.73 L581.35,108.32 L581.16,108.95 L580.91,109.6 L580.62,110.26 L580.28,110.92 L579.9,111.58 L579.47,112.22 L578.97,112.87 L578.38,113.54 L577.73,114.22 L577.03,114.9 L576.33,115.55 L575.65,116.17 L575.01,116.75 L574.44,117.26 L573.91,117.71 L573.4,118.12 L572.91,118.5 L572.44,118.83 L572.02,119.13 L571.64,119.38 L571.33,119.6 L571.08,119.77 L569.12,119.77 L568.87,119.6 L568.56,119.38 L568.18,119.13 L567.76,118.83 L567.29,118.5 L566.8,118.12 L566.29,117.71 L565.76,117.26 L565.19,116.75 L564.55,116.17 L563.87,115.55 L563.17,114.9 L562.47,114.22 L561.82,113.54 L561.23,112.87 L560.73,112.22 L560.3,111.58 L559.92,110.92 L559.58,110.26 L559.29,109.6 L559.04,108.95 L558.85,108.32 L558.71,107.73 L558.63,107.18 L558.62,106.68 L558.68,106.23 L558.8,105.8 L558.97,105.4 L559.18,105.01 L559.41,104.63 L559.65,104.23 L559.89,103.83 L560.15,103.42 L560.45,103.03 L560.78,102.64 L561.12,102.25 L561.47,101.85 L561.81,101.43 L562.12,100.97 L562.41,100.47 L562.65,99.92 L562.87,99.33 L563.06,98.7 L563.25,98.06 L563.43,97.4 L563.63,96.73 L563.84,96.07 L564.09,95.43 L564.37,94.8 L564.69,94.17 L565.02,93.54 L565.37,92.92 L565.71,92.29 L566.04,91.66 L566.34,91.03 L566.6,90.4 L566.84,89.77 L567.06,89.14 L567.26,88.51 L567.44,87.88 L567.6,87.25 L567.72,86.62 L567.81,85.99 L567.86,85.36 L567.85,84.73 L567.76,84.1 L567.63,83.47 L567.47,82.84 L567.31,82.21 L567.16,81.58 L567.06,80.95 L567.02,80.32 L567.04,79.7 L567.09,79.09 L567.17,78.47 L567.27,77.86 L567.39,77.24 L567.54,76.61 L567.69,75.96 L567.86,75.29 L568.06,74.55 L568.31,73.74 L568.59,72.89 L568.88,72.04 L569.16,71.22 L569.42,70.49 L569.64,69.87 L569.79,69.41 Z" fill="none" stroke="#4a4aff" stroke-width="1.4" stroke-linejoin="round" />
<line x1="559" y1="105.2" x2="581" y2="105.2" stroke="#333" stroke-width="1" />
<path d="M570.14,68.75 l1.5,1.5 l-1.5,1.5 l-1.5,-1.5 Z" fill="#1a1a90"/>
<path d="M566.45,76.81 l1.5,1.5 l-1.5,1.5 l-1.5,-1.5 Z" fill="#1a1a90"/>
<path d="M570.14,75.47 l1.5,1.5 l-1.5,1.5 l-1.5,-1.5 Z" fill="#1a1a90"/>
<path d="M574.01,77.99 l1.5,1.5 l-1.5,1.5 l-1.5,-1.5 Z" fill="#1a1a90"/>
<path d="M570.14,81.85 l1.5,1.5 l-1.5,1.5 l-1.5,-1.5 Z" fill="#1a1a90"/>
<path d="M570.14,89.74 l1.5,1.5 l-1.5,1.5 l-1.5,-1.5 Z" fill="#1a1a90"/>
<path d="M566.45,92.25 l1.5,1.5 l-1.5,1.5 l-1.5,-1.5 Z" fill="#1a1a90"/>
<path d="M574.01,92.25 l1.5,1.5 l-1.5,1.5 l-1.5,-1.5 Z" fill="#1a1a90"/>
<path d="M563.43,95.28 l1.5,1.5 l-1.5,1.5 l-1.5,-1.5 Z" fill="#1a1a90"/>
<path d="M570.14,93.93 l1.5,1.5 l-1.5,1.5 l-1.5,-1.5 Z" fill="#1a1a90"/>
<path d="M566.79,97.63 l1.5,1.5 l-1.5,1.5 l-1.5,-1.5 Z" fill="#1a1a90"/>
<path d="M573.5,97.29 l1.5,1.5 l-1.5,1.5 l-1.5,-1.5 Z" fill="#1a1a90"/>
<path d="M570.14,97.29 l1.5,1.5 l-1.5,1.5 l-1.5,-1.5 Z" fill="#1a1a90"/>
<path d="M581.06,100.98 l1.5,1.5 l-1.5,1.5 l-1.5,-1.5 Z" fill="#1a1a90"/>
<path d="M560.07,104.84 l1.5,1.5 l-1.5,1.5 l-1.5,-1.5 Z" fill="#1a1a90"/>
<path d="M566.79,104.84 l1.5,1.5 l-1.5,1.5 l-1.5,-1.5 Z" fill="#1a1a90"/>
<path d="M573.5,104.84 l1.5,1.5 l-1.5,1.5 l-1.5,-1.5 Z" fill="#1a1a90"/>
<path d="M580.22,104.84 l1.5,1.5 l-1.5,1.5 l-1.5,-1.5 Z" fill="#1a1a90"/>
<path d="M563.43,108.2 l1.5,1.5 l-1.5,1.5 l-1.5,-1.5 Z" fill="#1a1a90"/>
<path d="M570.14,108.2 l1.5,1.5 l-1.5,1.5 l-1.5,-1.5 Z" fill="#1a1a90"/>
<path d="M576.86,108.2 l1.5,1.5 l-1.5,1.5 l-1.5,-1.5 Z" fill="#1a1a90"/>
<path d="M560.07,110.72 l1.5,1.5 l-1.5,1.5 l-1.5,-1.5 Z" fill="#1a1a90"/>
<path d="M566.79,110.72 l1.5,1.5 l-1.5,1.5 l-1.5,-1.5 Z" fill="#1a1a90"/>
<path d="M573.5,110.72 l1.5,1.5 l-1.5,1.5 l-1.5,-1.5 Z" fill="#1a1a90"/>
<path d="M563.43,113.74 l1.5,1.5 l-1.5,1.5 l-1.5,-1.5 Z" fill="#1a1a90"/>
<path d="M570.14,113.74 l1.5,1.5 l-1.5,1.5 l-1.5,-1.5 Z" fill="#1a1a90"/>
<path d="M576.86,113.74 l1.5,1.5 l-1.5,1.5 l-1.5,-1.5 Z" fill="#1a1a90"/>
<path d="M570.14,116.6 l1.5,1.5 l-1.5,1.5 l-1.5,-1.5 Z" fill="#1a1a90"/>
<path d="M607.4,52.63 L607.59,52.65 L607.86,52.64 L608.18,52.62 L608.53,52.63 L608.88,52.68 L609.22,52.82 L609.52,53.07 L609.76,53.47 L609.93,54.01 L610.07,54.69 L610.18,55.48 L610.27,56.35 L610.35,57.28 L610.42,58.25 L610.5,59.22 L610.6,60.18 L610.7,61.15 L610.79,62.16 L610.87,63.21 L610.96,64.27 L611.06,65.35 L611.17,66.44 L611.29,67.51 L611.44,68.57 L611.59,69.63 L611.76,70.71 L611.93,71.8 L612.12,72.88 L612.33,73.94 L612.56,74.99 L612.82,76 L613.11,76.97 L613.47,77.9 L613.88,78.8 L614.32,79.68 L614.79,80.53 L615.26,81.36 L615.71,82.16 L616.12,82.93 L616.47,83.68 L616.78,84.39 L617.07,85.06 L617.34,85.69 L617.57,86.31 L617.78,86.9 L617.95,87.5 L618.07,88.1 L618.15,88.72 L618.17,89.35 L618.12,89.98 L618.02,90.61 L617.89,91.24 L617.74,91.87 L617.58,92.5 L617.43,93.12 L617.31,93.75 L617.2,94.38 L617.06,95.01 L616.92,95.64 L616.79,96.27 L616.66,96.9 L616.56,97.53 L616.5,98.16 L616.47,98.79 L616.53,99.42 L616.66,100.05 L616.85,100.68 L617.05,101.31 L617.23,101.94 L617.36,102.57 L617.4,103.2 L617.31,103.83 L617.1,104.47 L616.81,105.14 L616.43,105.83 L616,106.5 L615.52,107.16 L615.01,107.78 L614.48,108.35 L613.95,108.86 L613.37,109.32 L612.7,109.73 L611.97,110.1 L611.23,110.44 L610.51,110.73 L609.86,110.99 L609.32,111.2 L608.92,111.38 L605.28,111.38 L604.88,111.2 L604.34,110.99 L603.69,110.73 L602.97,110.44 L602.23,110.1 L601.5,109.73 L600.83,109.32 L600.25,108.86 L599.72,108.35 L599.19,107.78 L598.68,107.16 L598.2,106.5 L597.77,105.83 L597.39,105.14 L597.1,104.47 L596.89,103.83 L596.8,103.2 L596.84,102.57 L596.97,101.94 L597.15,101.31 L597.35,100.68 L597.54,100.05 L597.67,99.42 L597.73,98.79 L597.7,98.16 L597.64,97.53 L597.54,96.9 L597.41,96.27 L597.28,95.64 L597.14,95.01 L597,94.38 L596.89,93.75 L596.77,93.12 L596.62,92.5 L596.46,91.87 L596.31,91.24 L596.18,90.61 L596.08,89.98 L596.03,89.35 L596.05,88.72 L596.13,88.1 L596.25,87.5 L596.42,86.9 L596.63,86.31 L596.86,85.69 L597.13,85.06 L597.42,84.39 L597.73,83.68 L598.08,82.93 L598.49,82.16 L598.94,81.36 L599.41,80.53 L599.88,79.68 L600.32,78.8 L600.73,77.9 L601.09,76.97 L601.38,76 L601.64,74.99 L601.87,73.94 L602.08,72.88 L602.27,71.8 L602.44,70.71 L602.61,69.63 L602.76,68.57 L602.91,67.51 L603.03,66.44 L603.14,65.35 L603.24,64.27 L603.33,63.21 L603.41,62.16 L603.5,61.15 L603.6,60.18 L603.7,59.22 L603.78,58.25 L603.85,57.28 L603.93,56.35 L604.02,55.48 L604.13,54.69 L604.27,54.01 L604.44,53.47 L604.68,53.07 L604.98,52.82 L605.32,52.68 L605.67,52.63 L606.02,52.62 L606.34,52.64 L606.61,52.65 L606.8,52.63 Z" fill="#86ecb2" stroke="#22b860" stroke-width="1.4" stroke-linejoin="round" />
<line x1="595.5" y1="89" x2="618.5" y2="89" stroke="#333" stroke-width="1" />
<circle cx="607.08" cy="54.31" r="1.5" fill="#1b6a3a"/>
<circle cx="607.08" cy="62.19" r="1.5" fill="#1b6a3a"/>
<circle cx="603.72" cy="70.59" r="1.5" fill="#1b6a3a"/>
<circle cx="610.1" cy="73.27" r="1.5" fill="#1b6a3a"/>
<circle cx="610.1" cy="76.13" r="1.5" fill="#1b6a3a"/>
<circle cx="603.72" cy="76.97" r="1.5" fill="#1b6a3a"/>
<circle cx="607.08" cy="84.52" r="1.5" fill="#1b6a3a"/>
<circle cx="597.84" cy="86.2" r="1.5" fill="#1b6a3a"/>
<circle cx="615.47" cy="84.52" r="1.5" fill="#1b6a3a"/>
<circle cx="597.84" cy="89.56" r="1.5" fill="#1b6a3a"/>
<circle cx="616.31" cy="88.72" r="1.5" fill="#1b6a3a"/>
<circle cx="603.72" cy="92.92" r="1.5" fill="#1b6a3a"/>
<circle cx="610.1" cy="92.92" r="1.5" fill="#1b6a3a"/>
<circle cx="597.84" cy="99.63" r="1.5" fill="#1b6a3a"/>
<circle cx="616.31" cy="99.63" r="1.5" fill="#1b6a3a"/>
<circle cx="603.72" cy="101.31" r="1.5" fill="#1b6a3a"/>
<circle cx="610.1" cy="99.63" r="1.5" fill="#1b6a3a"/>
<circle cx="597.84" cy="102.99" r="1.5" fill="#1b6a3a"/>
<circle cx="603.72" cy="105.17" r="1.5" fill="#1b6a3a"/>
<circle cx="610.1" cy="105.17" r="1.5" fill="#1b6a3a"/>
<circle cx="616.31" cy="103.83" r="1.5" fill="#1b6a3a"/>
<circle cx="607.08" cy="110.54" r="1.5" fill="#1b6a3a"/>
<path d="M644.85,46.75 L644.84,47.12 L644.83,47.58 L644.82,48.12 L644.82,48.74 L644.81,49.43 L644.81,50.17 L644.82,50.96 L644.85,51.79 L644.86,52.68 L644.87,53.65 L644.87,54.69 L644.88,55.77 L644.92,56.89 L645,58 L645.14,59.11 L645.35,60.18 L645.65,61.23 L646.04,62.28 L646.5,63.33 L646.99,64.38 L647.49,65.43 L647.99,66.48 L648.46,67.52 L648.88,68.57 L649.26,69.63 L649.66,70.71 L650.06,71.8 L650.43,72.88 L650.77,73.94 L651.05,74.99 L651.27,76 L651.39,76.97 L651.4,77.9 L651.3,78.8 L651.11,79.68 L650.87,80.53 L650.62,81.36 L650.39,82.16 L650.22,82.93 L650.13,83.68 L650.12,84.38 L650.13,85.02 L650.17,85.62 L650.24,86.2 L650.35,86.78 L650.51,87.38 L650.71,88.02 L650.97,88.72 L651.34,89.49 L651.82,90.32 L652.38,91.19 L652.97,92.08 L653.54,92.96 L654.06,93.83 L654.48,94.66 L654.75,95.43 L654.88,96.14 L654.92,96.81 L654.88,97.44 L654.78,98.06 L654.61,98.65 L654.41,99.25 L654.17,99.85 L653.91,100.47 L653.61,101.1 L653.25,101.75 L652.84,102.39 L652.39,103.04 L651.92,103.68 L651.45,104.31 L650.99,104.92 L650.55,105.51 L650.11,106.1 L649.64,106.71 L649.15,107.32 L648.67,107.92 L648.21,108.47 L647.8,108.97 L647.46,109.38 L647.2,109.7 L640.2,109.7 L639.94,109.38 L639.6,108.97 L639.19,108.47 L638.73,107.92 L638.25,107.32 L637.76,106.71 L637.29,106.1 L636.85,105.51 L636.41,104.92 L635.95,104.31 L635.48,103.68 L635.01,103.04 L634.56,102.39 L634.15,101.75 L633.79,101.1 L633.49,100.47 L633.23,99.85 L632.99,99.25 L632.79,98.65 L632.62,98.06 L632.52,97.44 L632.48,96.81 L632.52,96.14 L632.65,95.43 L632.92,94.66 L633.34,93.83 L633.86,92.96 L634.43,92.08 L635.02,91.19 L635.58,90.32 L636.06,89.49 L636.43,88.72 L636.69,88.02 L636.89,87.38 L637.05,86.78 L637.16,86.2 L637.23,85.62 L637.27,85.02 L637.28,84.38 L637.27,83.68 L637.18,82.93 L637.01,82.16 L636.78,81.36 L636.53,80.53 L636.29,79.68 L636.1,78.8 L636,77.9 L636.01,76.97 L636.13,76 L636.35,74.99 L636.63,73.94 L636.97,72.88 L637.34,71.8 L637.74,70.71 L638.14,69.63 L638.52,68.57 L638.94,67.52 L639.41,66.48 L639.91,65.43 L640.41,64.38 L640.9,63.33 L641.36,62.28 L641.75,61.23 L642.05,60.18 L642.26,59.11 L642.4,58 L642.48,56.89 L642.52,55.77 L642.53,54.69 L642.53,53.65 L642.54,52.68 L642.55,51.79 L642.58,50.96 L642.59,50.17 L642.59,49.43 L642.58,48.74 L642.58,48.12 L642.57,47.58 L642.56,47.12 L642.55,46.75 Z" fill="#f6aaaa" stroke="#ee3838" stroke-width="1.4" stroke-linejoin="round" />
<line x1="632" y1="90.4" x2="655" y2="90.4" stroke="#444" stroke-width="1.2" />
<line x1="634" y1="78" x2="654" y2="78" stroke="#a03030" stroke-width="0.7" stroke-dasharray="1,1.5" />
<path d="M643.67,45.99 l1.6,2.8 l-3.2,0 Z" fill="#a81818"/>
<path d="M643.67,57.74 l1.6,2.8 l-3.2,0 Z" fill="#a81818"/>
<path d="M638.13,69.49 l1.6,2.8 l-3.2,0 Z" fill="#a81818"/>
<path d="M643.67,70.33 l1.6,2.8 l-3.2,0 Z" fill="#a81818"/>
<path d="M643.67,72.85 l1.6,2.8 l-3.2,0 Z" fill="#a81818"/>
<path d="M633.1,78.72 l1.6,2.8 l-3.2,0 Z" fill="#a81818"/>
<path d="M638.13,77.38 l1.6,2.8 l-3.2,0 Z" fill="#a81818"/>
<path d="M643.67,77.38 l1.6,2.8 l-3.2,0 Z" fill="#a81818"/>
<path d="M633.1,82.08 l1.6,2.8 l-3.2,0 Z" fill="#a81818"/>
<path d="M638.13,81.24 l1.6,2.8 l-3.2,0 Z" fill="#a81818"/>
<path d="M649.88,81.24 l1.6,2.8 l-3.2,0 Z" fill="#a81818"/>
<path d="M643.67,83.76 l1.6,2.8 l-3.2,0 Z" fill="#a81818"/>
<path d="M640.65,89.64 l1.6,2.8 l-3.2,0 Z" fill="#a81818"/>
<path d="M647.36,88.8 l1.6,2.8 l-3.2,0 Z" fill="#a81818"/>
<path d="M634.77,95.51 l1.6,2.8 l-3.2,0 Z" fill="#a81818"/>
<path d="M640.65,92.99 l1.6,2.8 l-3.2,0 Z" fill="#a81818"/>
<path d="M646.53,93.83 l1.6,2.8 l-3.2,0 Z" fill="#a81818"/>
<path d="M640.65,96.35 l1.6,2.8 l-3.2,0 Z" fill="#a81818"/>
<path d="M649.88,98.03 l1.6,2.8 l-3.2,0 Z" fill="#a81818"/>
<path d="M638.13,100.55 l1.6,2.8 l-3.2,0 Z" fill="#a81818"/>
<path d="M643.67,102.23 l1.6,2.8 l-3.2,0 Z" fill="#a81818"/>
<path d="M649.88,101.39 l1.6,2.8 l-3.2,0 Z" fill="#a81818"/>
<path d="M640.65,108.1 l1.6,2.8 l-3.2,0 Z" fill="#a81818"/>
<path d="M646.53,107.26 l1.6,2.8 l-3.2,0 Z" fill="#a81818"/>
<path d="M637.29,98.03 l1.6,2.8 l-3.2,0 Z" fill="#a81818"/>
<text x="306.1" y="158.02" font-size="19.5" font-weight="bold" text-anchor="start" fill="#111"  stroke="#111" stroke-width="0.25">D</text>
<rect x="345.5" y="163.8" width="161.5" height="108.6" fill="none" stroke="#111" stroke-width="1.2" />
<line x1="342.5" y1="272.4" x2="345.5" y2="272.4" stroke="#111" stroke-width="1.1" />
<text x="341" y="275.21" font-size="7.8" font-weight="bold" text-anchor="end" fill="#111"  stroke="#111" stroke-width="0.25">0</text>
<line x1="342.5" y1="245.25" x2="345.5" y2="245.25" stroke="#111" stroke-width="1.1" />
<text x="341" y="248.06" font-size="7.8" font-weight="bold" text-anchor="end" fill="#111"  stroke="#111" stroke-width="0.25">10</text>
<line x1="342.5" y1="218.1" x2="345.5" y2="218.1" stroke="#111" stroke-width="1.1" />
<text x="341" y="220.91" font-size="7.8" font-weight="bold" text-anchor="end" fill="#111"  stroke="#111" stroke-width="0.25">20</text>
<line x1="342.5" y1="190.95" x2="345.5" y2="190.95" stroke="#111" stroke-width="1.1" />
<text x="341" y="193.76" font-size="7.8" font-weight="bold" text-anchor="end" fill="#111"  stroke="#111" stroke-width="0.25">30</text>
<line x1="342.5" y1="163.8" x2="345.5" y2="163.8" stroke="#111" stroke-width="1.1" />
<text x="341" y="166.61" font-size="7.8" font-weight="bold" text-anchor="end" fill="#111"  stroke="#111" stroke-width="0.25">40</text>
<line x1="345.5" y1="272.4" x2="345.5" y2="275.4" stroke="#111" stroke-width="1" />
<line x1="355.59" y1="272.4" x2="355.59" y2="274.2" stroke="#111" stroke-width="1" />
<line x1="365.69" y1="272.4" x2="365.69" y2="274.2" stroke="#111" stroke-width="1" />
<line x1="375.78" y1="272.4" x2="375.78" y2="274.2" stroke="#111" stroke-width="1" />
<line x1="385.88" y1="272.4" x2="385.88" y2="275.4" stroke="#111" stroke-width="1" />
<line x1="395.97" y1="272.4" x2="395.97" y2="274.2" stroke="#111" stroke-width="1" />
<line x1="406.06" y1="272.4" x2="406.06" y2="274.2" stroke="#111" stroke-width="1" />
<line x1="416.16" y1="272.4" x2="416.16" y2="274.2" stroke="#111" stroke-width="1" />
<line x1="426.25" y1="272.4" x2="426.25" y2="275.4" stroke="#111" stroke-width="1" />
<line x1="436.34" y1="272.4" x2="436.34" y2="274.2" stroke="#111" stroke-width="1" />
<line x1="446.44" y1="272.4" x2="446.44" y2="274.2" stroke="#111" stroke-width="1" />
<line x1="456.53" y1="272.4" x2="456.53" y2="274.2" stroke="#111" stroke-width="1" />
<line x1="466.62" y1="272.4" x2="466.62" y2="275.4" stroke="#111" stroke-width="1" />
<line x1="476.72" y1="272.4" x2="476.72" y2="274.2" stroke="#111" stroke-width="1" />
<line x1="486.81" y1="272.4" x2="486.81" y2="274.2" stroke="#111" stroke-width="1" />
<line x1="496.91" y1="272.4" x2="496.91" y2="274.2" stroke="#111" stroke-width="1" />
<line x1="507" y1="272.4" x2="507" y2="275.4" stroke="#111" stroke-width="1" />
<text x="345.5" y="285.81" font-size="7.8" font-weight="bold" text-anchor="middle" fill="#111"  stroke="#111" stroke-width="0.25">0</text>
<text x="385.88" y="285.81" font-size="7.8" font-weight="bold" text-anchor="middle" fill="#111"  stroke="#111" stroke-width="0.25">20</text>
<text x="426.25" y="285.81" font-size="7.8" font-weight="bold" text-anchor="middle" fill="#111"  stroke="#111" stroke-width="0.25">40</text>
<text x="466.62" y="285.81" font-size="7.8" font-weight="bold" text-anchor="middle" fill="#111"  stroke="#111" stroke-width="0.25">60</text>
<text x="507" y="285.81" font-size="7.8" font-weight="bold" text-anchor="middle" fill="#111"  stroke="#111" stroke-width="0.25">80</text>
<text x="427" y="299.11" font-size="9.2" font-weight="bold" text-anchor="middle" fill="#111"  textLength="71" lengthAdjust="spacingAndGlyphs" stroke="#111" stroke-width="0.25">sGPNMB (ng/mL)</text>
<text x="0" y="0" font-size="11.1" font-weight="bold" fill="#111" text-anchor="middle" transform="translate(325.6 215.8) rotate(-90)">SCORE risk score</text>
<text x="461" y="174.24" font-size="9" font-weight="bold" text-anchor="start" fill="#111"  textLength="37" lengthAdjust="spacingAndGlyphs" stroke="#111" stroke-width="0.25">R=0.2352</text>
<text x="460.5" y="184.44" font-size="9.0" font-weight="bold" fill="#111" textLength="45" lengthAdjust="spacingAndGlyphs">**<tspan font-style="italic">P</tspan>=0.0033</text>
<circle cx="428.13" cy="182.89" r="2.1" fill="#2f7a47"/>
<circle cx="399.7" cy="215.42" r="2.1" fill="#2f7a47"/>
<circle cx="442.59" cy="223.37" r="2.1" fill="#2f7a47"/>
<circle cx="418.98" cy="228.92" r="2.1" fill="#2f7a47"/>
<circle cx="443.8" cy="231.57" r="2.1" fill="#2f7a47"/>
<circle cx="440.9" cy="234.22" r="2.1" fill="#2f7a47"/>
<circle cx="386.45" cy="234.22" r="2.1" fill="#2f7a47"/>
<circle cx="402.11" cy="233.98" r="2.1" fill="#2f7a47"/>
<circle cx="406.93" cy="234.22" r="2.1" fill="#2f7a47"/>
<circle cx="421.39" cy="234.22" r="2.1" fill="#2f7a47"/>
<circle cx="384.76" cy="238.31" r="2.1" fill="#2f7a47"/>
<circle cx="394.88" cy="239.52" r="2.1" fill="#2f7a47"/>
<circle cx="396.81" cy="239.52" r="2.1" fill="#2f7a47"/>
<circle cx="416.57" cy="239.52" r="2.1" fill="#2f7a47"/>
<circle cx="434.16" cy="239.52" r="2.1" fill="#2f7a47"/>
<circle cx="475.12" cy="239.52" r="2.1" fill="#2f7a47"/>
<circle cx="381.14" cy="242.41" r="2.1" fill="#2f7a47"/>
<circle cx="423.31" cy="243.13" r="2.1" fill="#2f7a47"/>
<circle cx="454.64" cy="242.41" r="2.1" fill="#2f7a47"/>
<circle cx="407.17" cy="245.06" r="2.1" fill="#2f7a47"/>
<circle cx="416.81" cy="245.06" r="2.1" fill="#2f7a47"/>
<circle cx="426.45" cy="245.06" r="2.1" fill="#2f7a47"/>
<circle cx="479.22" cy="247.47" r="2.1" fill="#2f7a47"/>
<circle cx="383.55" cy="249.16" r="2.1" fill="#2f7a47"/>
<circle cx="393.19" cy="247.95" r="2.1" fill="#2f7a47"/>
<circle cx="388.37" cy="251.08" r="2.1" fill="#2f7a47"/>
<circle cx="410.06" cy="250.36" r="2.1" fill="#2f7a47"/>
<circle cx="414.88" cy="251.08" r="2.1" fill="#2f7a47"/>
<circle cx="440.18" cy="249.16" r="2.1" fill="#2f7a47"/>
<circle cx="442.59" cy="251.08" r="2.1" fill="#2f7a47"/>
<circle cx="423.31" cy="252.77" r="2.1" fill="#2f7a47"/>
<circle cx="436.08" cy="252.29" r="2.1" fill="#2f7a47"/>
<circle cx="455.84" cy="252.77" r="2.1" fill="#2f7a47"/>
<circle cx="469.1" cy="252.77" r="2.1" fill="#2f7a47"/>
<circle cx="482.35" cy="254.7" r="2.1" fill="#2f7a47"/>
<circle cx="485.96" cy="254.7" r="2.1" fill="#2f7a47"/>
<circle cx="492.47" cy="252.77" r="2.1" fill="#2f7a47"/>
<circle cx="494.4" cy="255.9" r="2.1" fill="#2f7a47"/>
<circle cx="378.73" cy="254.7" r="2.1" fill="#2f7a47"/>
<circle cx="401.14" cy="254.7" r="2.1" fill="#2f7a47"/>
<circle cx="464.76" cy="256.39" r="2.1" fill="#2f7a47"/>
<circle cx="455.84" cy="257.59" r="2.1" fill="#2f7a47"/>
<circle cx="475.84" cy="258.31" r="2.1" fill="#2f7a47"/>
<circle cx="491.27" cy="259.52" r="2.1" fill="#2f7a47"/>
<circle cx="431.75" cy="257.59" r="2.1" fill="#2f7a47"/>
<circle cx="444.52" cy="257.11" r="2.1" fill="#2f7a47"/>
<circle cx="450.54" cy="262.41" r="2.1" fill="#2f7a47"/>
<circle cx="458.25" cy="262.89" r="2.1" fill="#2f7a47"/>
<circle cx="455.84" cy="264.1" r="2.1" fill="#2f7a47"/>
<circle cx="446.2" cy="266.02" r="2.1" fill="#2f7a47"/>
<circle cx="443.8" cy="266.75" r="2.1" fill="#2f7a47"/>
<circle cx="436.57" cy="262.41" r="2.1" fill="#2f7a47"/>
<circle cx="429.34" cy="265.3" r="2.1" fill="#2f7a47"/>
<circle cx="422.11" cy="265.3" r="2.1" fill="#2f7a47"/>
<circle cx="369.1" cy="269.64" r="2.1" fill="#2f7a47"/>
<circle cx="374.4" cy="264.1" r="2.1" fill="#2f7a47"/>
<circle cx="380.31" cy="269.56" r="2.1" fill="#2f7a47"/>
<circle cx="399.53" cy="261.65" r="2.1" fill="#2f7a47"/>
<circle cx="400.74" cy="263.97" r="2.1" fill="#2f7a47"/>
<circle cx="408.18" cy="253.79" r="2.1" fill="#2f7a47"/>
<circle cx="413.41" cy="270.52" r="2.1" fill="#2f7a47"/>
<circle cx="406.79" cy="270.33" r="2.1" fill="#2f7a47"/>
<circle cx="389.75" cy="252.29" r="2.1" fill="#2f7a47"/>
<circle cx="390.34" cy="250.53" r="2.1" fill="#2f7a47"/>
<circle cx="408.16" cy="260.37" r="2.1" fill="#2f7a47"/>
<circle cx="397.52" cy="261.86" r="2.1" fill="#2f7a47"/>
<circle cx="377.31" cy="260.69" r="2.1" fill="#2f7a47"/>
<circle cx="395.03" cy="270.96" r="2.1" fill="#2f7a47"/>
<circle cx="405.11" cy="251.8" r="2.1" fill="#2f7a47"/>
<circle cx="379.12" cy="253.33" r="2.1" fill="#2f7a47"/>
<circle cx="376.17" cy="259.34" r="2.1" fill="#2f7a47"/>
<circle cx="408.61" cy="249.66" r="2.1" fill="#2f7a47"/>
<circle cx="406.43" cy="270.63" r="2.1" fill="#2f7a47"/>
<circle cx="387.77" cy="253.39" r="2.1" fill="#2f7a47"/>
<circle cx="396.7" cy="253.66" r="2.1" fill="#2f7a47"/>
<circle cx="385.64" cy="270.32" r="2.1" fill="#2f7a47"/>
<circle cx="401.66" cy="265.52" r="2.1" fill="#2f7a47"/>
<circle cx="401.1" cy="255.38" r="2.1" fill="#2f7a47"/>
<circle cx="387.62" cy="261.38" r="2.1" fill="#2f7a47"/>
<circle cx="397.53" cy="254.21" r="2.1" fill="#2f7a47"/>
<circle cx="397.2" cy="270.45" r="2.1" fill="#2f7a47"/>
<circle cx="404.26" cy="257.78" r="2.1" fill="#2f7a47"/>
<circle cx="397.94" cy="268.23" r="2.1" fill="#2f7a47"/>
<circle cx="406.65" cy="253.91" r="2.1" fill="#2f7a47"/>
<circle cx="397.12" cy="266.68" r="2.1" fill="#2f7a47"/>
<circle cx="404.03" cy="246.43" r="2.1" fill="#2f7a47"/>
<circle cx="387.23" cy="263.42" r="2.1" fill="#2f7a47"/>
<circle cx="390.55" cy="260.61" r="2.1" fill="#2f7a47"/>
<circle cx="379.39" cy="248.16" r="2.1" fill="#2f7a47"/>
<circle cx="396.6" cy="269.26" r="2.1" fill="#2f7a47"/>
<circle cx="395.02" cy="266.05" r="2.1" fill="#2f7a47"/>
<circle cx="402.79" cy="255.74" r="2.1" fill="#2f7a47"/>
<circle cx="407.05" cy="245.04" r="2.1" fill="#2f7a47"/>
<circle cx="383.99" cy="263.02" r="2.1" fill="#2f7a47"/>
<circle cx="394.02" cy="263.33" r="2.1" fill="#2f7a47"/>
<circle cx="417.34" cy="255.33" r="2.1" fill="#2f7a47"/>
<circle cx="402.85" cy="262.63" r="2.1" fill="#2f7a47"/>
<circle cx="398.62" cy="263.67" r="2.1" fill="#2f7a47"/>
<circle cx="402.04" cy="252.31" r="2.1" fill="#2f7a47"/>
<circle cx="390.98" cy="248.76" r="2.1" fill="#2f7a47"/>
<circle cx="384.38" cy="254.5" r="2.1" fill="#2f7a47"/>
<circle cx="406.48" cy="268.93" r="2.1" fill="#2f7a47"/>
<circle cx="384.84" cy="244.95" r="2.1" fill="#2f7a47"/>
<circle cx="379.66" cy="252.34" r="2.1" fill="#2f7a47"/>
<circle cx="385.67" cy="252.4" r="2.1" fill="#2f7a47"/>
<circle cx="393.71" cy="258.74" r="2.1" fill="#2f7a47"/>
<circle cx="384.56" cy="266" r="2.1" fill="#2f7a47"/>
<circle cx="393.48" cy="267.07" r="2.1" fill="#2f7a47"/>
<circle cx="376.35" cy="258.68" r="2.1" fill="#2f7a47"/>
<circle cx="414.73" cy="259.93" r="2.1" fill="#2f7a47"/>
<circle cx="380.83" cy="268.41" r="2.1" fill="#2f7a47"/>
<circle cx="386.67" cy="263.07" r="2.1" fill="#2f7a47"/>
<circle cx="386.67" cy="253.52" r="2.1" fill="#2f7a47"/>
<circle cx="419.68" cy="265.84" r="2.1" fill="#2f7a47"/>
<circle cx="393.96" cy="265.97" r="2.1" fill="#2f7a47"/>
<circle cx="373.67" cy="253.59" r="2.1" fill="#2f7a47"/>
<circle cx="403.36" cy="252.57" r="2.1" fill="#2f7a47"/>
<circle cx="386.38" cy="265.27" r="2.1" fill="#2f7a47"/>
<circle cx="396.04" cy="263.68" r="2.1" fill="#2f7a47"/>
<circle cx="394.93" cy="257.72" r="2.1" fill="#2f7a47"/>
<circle cx="396.81" cy="268.45" r="2.1" fill="#2f7a47"/>
<circle cx="388.05" cy="268.94" r="2.1" fill="#2f7a47"/>
<circle cx="384.06" cy="255.63" r="2.1" fill="#2f7a47"/>
<circle cx="404.16" cy="268.73" r="2.1" fill="#2f7a47"/>
<circle cx="392.37" cy="261.43" r="2.1" fill="#2f7a47"/>
<circle cx="400.93" cy="268.13" r="2.1" fill="#2f7a47"/>
<circle cx="404.19" cy="255.21" r="2.1" fill="#2f7a47"/>
<circle cx="392.01" cy="255.18" r="2.1" fill="#2f7a47"/>
<circle cx="385.14" cy="257.99" r="2.1" fill="#2f7a47"/>
<circle cx="385.05" cy="270.66" r="2.1" fill="#2f7a47"/>
<circle cx="397.71" cy="263.13" r="2.1" fill="#2f7a47"/>
<circle cx="396.37" cy="262.84" r="2.1" fill="#2f7a47"/>
<circle cx="395.61" cy="254.58" r="2.1" fill="#2f7a47"/>
<circle cx="392.72" cy="252.47" r="2.1" fill="#2f7a47"/>
<circle cx="395.52" cy="252.89" r="2.1" fill="#2f7a47"/>
<circle cx="401.59" cy="260.48" r="2.1" fill="#2f7a47"/>
<circle cx="382.76" cy="270.21" r="2.1" fill="#2f7a47"/>
<circle cx="376.98" cy="255.79" r="2.1" fill="#2f7a47"/>
<circle cx="395.76" cy="260.97" r="2.1" fill="#2f7a47"/>
<circle cx="396.59" cy="255.4" r="2.1" fill="#2f7a47"/>
<circle cx="384.5" cy="261.89" r="2.1" fill="#2f7a47"/>
<circle cx="410.3" cy="266.37" r="2.1" fill="#2f7a47"/>
<circle cx="401.8" cy="253.66" r="2.1" fill="#2f7a47"/>
<circle cx="404.04" cy="263.89" r="2.1" fill="#2f7a47"/>
<circle cx="404.61" cy="259.16" r="2.1" fill="#2f7a47"/>
<circle cx="410.55" cy="269.94" r="2.1" fill="#2f7a47"/>
<circle cx="380.27" cy="263.49" r="2.1" fill="#2f7a47"/>
<circle cx="402.16" cy="268.3" r="2.1" fill="#2f7a47"/>
<circle cx="379.37" cy="270.63" r="2.1" fill="#2f7a47"/>
<circle cx="374.34" cy="258.09" r="2.1" fill="#2f7a47"/>
<circle cx="390.12" cy="268.26" r="2.1" fill="#2f7a47"/>
<circle cx="406.23" cy="262.46" r="2.1" fill="#2f7a47"/>
<circle cx="401.43" cy="265.85" r="2.1" fill="#2f7a47"/>
<circle cx="414.8" cy="255.29" r="2.1" fill="#2f7a47"/>
<circle cx="403.43" cy="248.01" r="2.1" fill="#2f7a47"/>
<circle cx="375.86" cy="267.96" r="2.1" fill="#2f7a47"/>
<circle cx="393.01" cy="269.97" r="2.1" fill="#2f7a47"/>
<circle cx="399.83" cy="256.21" r="2.1" fill="#2f7a47"/>
<circle cx="393.4" cy="257.51" r="2.1" fill="#2f7a47"/>
<circle cx="385.62" cy="268.03" r="2.1" fill="#2f7a47"/>
<circle cx="383.82" cy="257.92" r="2.1" fill="#2f7a47"/>
<circle cx="409.53" cy="255.96" r="2.1" fill="#2f7a47"/>
<circle cx="373.7" cy="270.4" r="2.1" fill="#2f7a47"/>
<circle cx="387.79" cy="262.18" r="2.1" fill="#2f7a47"/>
<circle cx="391.44" cy="270.17" r="2.1" fill="#2f7a47"/>
<circle cx="382.92" cy="267.22" r="2.1" fill="#2f7a47"/>
<circle cx="393.78" cy="261.33" r="2.1" fill="#2f7a47"/>
<circle cx="408.67" cy="259.86" r="2.1" fill="#2f7a47"/>
<circle cx="401.01" cy="269.54" r="2.1" fill="#2f7a47"/>
<circle cx="388.84" cy="260.24" r="2.1" fill="#2f7a47"/>
<circle cx="396.05" cy="269.11" r="2.1" fill="#2f7a47"/>
<circle cx="391.79" cy="263.74" r="2.1" fill="#2f7a47"/>
<circle cx="402.14" cy="254.46" r="2.1" fill="#2f7a47"/>
<circle cx="420.46" cy="258.11" r="2.1" fill="#2f7a47"/>
<circle cx="424.55" cy="265.99" r="2.1" fill="#2f7a47"/>
<circle cx="426.44" cy="260.69" r="2.1" fill="#2f7a47"/>
<circle cx="432.4" cy="256.68" r="2.1" fill="#2f7a47"/>
<circle cx="434.62" cy="256.96" r="2.1" fill="#2f7a47"/>
<circle cx="430.21" cy="259.01" r="2.1" fill="#2f7a47"/>
<circle cx="423.95" cy="263.49" r="2.1" fill="#2f7a47"/>
<circle cx="428.74" cy="261.01" r="2.1" fill="#2f7a47"/>
<circle cx="428.27" cy="263.47" r="2.1" fill="#2f7a47"/>
<circle cx="423.19" cy="258.27" r="2.1" fill="#2f7a47"/>
<circle cx="432.63" cy="265.22" r="2.1" fill="#2f7a47"/>
<circle cx="430.59" cy="268.62" r="2.1" fill="#2f7a47"/>
<circle cx="432.23" cy="268.71" r="2.1" fill="#2f7a47"/>
<circle cx="424.65" cy="266.85" r="2.1" fill="#2f7a47"/>
<circle cx="436.21" cy="269.44" r="2.1" fill="#2f7a47"/>
<circle cx="426.32" cy="260.04" r="2.1" fill="#2f7a47"/>
<circle cx="438.46" cy="258.49" r="2.1" fill="#2f7a47"/>
<circle cx="439.97" cy="269.2" r="2.1" fill="#2f7a47"/>
<circle cx="422.68" cy="258.83" r="2.1" fill="#2f7a47"/>
<circle cx="434.53" cy="259.15" r="2.1" fill="#2f7a47"/>
<line x1="369.1" y1="261.2" x2="494" y2="248.7" stroke="#c0392b" stroke-width="1.2" />
<line x1="369.1" y1="258.3" x2="492.5" y2="242.7" stroke="#222" stroke-width="0.9" stroke-dasharray="1.2,1.6" />
<line x1="369.1" y1="264.1" x2="492.5" y2="254.7" stroke="#222" stroke-width="0.9" stroke-dasharray="1.2,1.6" />
<line x1="544" y1="190.2" x2="544" y2="286.2" stroke="#111" stroke-width="1.2" />
<line x1="541" y1="286.2" x2="544" y2="286.2" stroke="#111" stroke-width="1.1" />
<text x="539.5" y="289.01" font-size="7.8" font-weight="bold" text-anchor="end" fill="#111"  stroke="#111" stroke-width="0.25">0</text>
<line x1="541" y1="262.2" x2="544" y2="262.2" stroke="#111" stroke-width="1.1" />
<text x="539.5" y="265.01" font-size="7.8" font-weight="bold" text-anchor="end" fill="#111"  stroke="#111" stroke-width="0.25">20</text>
<line x1="541" y1="238.2" x2="544" y2="238.2" stroke="#111" stroke-width="1.1" />
<text x="539.5" y="241.01" font-size="7.8" font-weight="bold" text-anchor="end" fill="#111"  stroke="#111" stroke-width="0.25">40</text>
<line x1="541" y1="214.2" x2="544" y2="214.2" stroke="#111" stroke-width="1.1" />
<text x="539.5" y="217.01" font-size="7.8" font-weight="bold" text-anchor="end" fill="#111"  stroke="#111" stroke-width="0.25">60</text>
<line x1="541" y1="190.2" x2="544" y2="190.2" stroke="#111" stroke-width="1.1" />
<text x="539.5" y="193.01" font-size="7.8" font-weight="bold" text-anchor="end" fill="#111"  stroke="#111" stroke-width="0.25">80</text>
<line x1="544" y1="286.2" x2="672" y2="286.2" stroke="#111" stroke-width="1.2" />
<line x1="570" y1="286.2" x2="570" y2="289.5" stroke="#111" stroke-width="1.1" />
<line x1="608.4" y1="286.2" x2="608.4" y2="289.5" stroke="#111" stroke-width="1.1" />
<line x1="646.7" y1="286.2" x2="646.7" y2="289.5" stroke="#111" stroke-width="1.1" />
<text x="570.2" y="298.72" font-size="8.4" font-weight="bold" text-anchor="middle" fill="#111"  textLength="15.3" lengthAdjust="spacingAndGlyphs" stroke="#111" stroke-width="0.25">Low</text>
<text x="608.4" y="298.72" font-size="8.4" font-weight="bold" text-anchor="middle" fill="#111"  textLength="47" lengthAdjust="spacingAndGlyphs" stroke="#111" stroke-width="0.25">Intermediate</text>
<text x="646.7" y="298.72" font-size="8.4" font-weight="bold" text-anchor="middle" fill="#111"  textLength="17.4" lengthAdjust="spacingAndGlyphs" stroke="#111" stroke-width="0.25">High</text>
<text x="0" y="0" font-size="9.1" font-weight="bold" fill="#111" text-anchor="middle" transform="translate(527 237.8) rotate(-90)">sGPNMB (ng/mL)</text>
<polyline points="570.7,210 570.7,166.6 646.7,166.6 646.7,181.9" stroke="#222" stroke-width="1.2" fill="none" />
<text x="608" y="162.71" font-size="9.2" font-weight="bold" text-anchor="middle" fill="#111"  stroke="#111" stroke-width="0.25">0.0001</text>
<polyline points="608.5,194.5 608.5,187.6 646.7,187.6 646.7,194" stroke="#222" stroke-width="1.2" fill="none" />
<text x="628" y="183.21" font-size="9.2" font-weight="bold" text-anchor="middle" fill="#111"  stroke="#111" stroke-width="0.25">0.0293</text>
<path d="M570.4,214.31 L570.46,214.41 L570.55,214.51 L570.65,214.63 L570.77,214.78 L570.87,214.97 L570.97,215.23 L571.04,215.56 L571.08,215.98 L571.07,216.51 L571.02,217.14 L570.95,217.84 L570.86,218.61 L570.77,219.41 L570.7,220.23 L570.66,221.06 L570.66,221.86 L570.7,222.66 L570.75,223.48 L570.83,224.32 L570.92,225.16 L571.04,226.02 L571.17,226.88 L571.32,227.73 L571.5,228.57 L571.7,229.41 L571.92,230.25 L572.17,231.09 L572.44,231.93 L572.72,232.77 L573.01,233.61 L573.31,234.45 L573.6,235.29 L573.9,236.13 L574.24,236.97 L574.58,237.81 L574.93,238.65 L575.28,239.49 L575.59,240.32 L575.88,241.16 L576.11,242 L576.29,242.84 L576.42,243.68 L576.52,244.52 L576.59,245.36 L576.65,246.2 L576.72,247.04 L576.82,247.88 L576.95,248.72 L577.12,249.56 L577.29,250.4 L577.47,251.24 L577.66,252.08 L577.87,252.92 L578.1,253.75 L578.36,254.59 L578.63,255.43 L578.96,256.3 L579.35,257.19 L579.77,258.1 L580.21,259 L580.63,259.88 L581.01,260.71 L581.34,261.47 L581.57,262.15 L581.74,262.72 L581.87,263.2 L581.95,263.62 L581.99,263.98 L581.98,264.33 L581.9,264.69 L581.77,265.07 L581.57,265.51 L581.29,266 L580.94,266.53 L580.52,267.08 L580.05,267.64 L579.53,268.19 L578.97,268.73 L578.39,269.24 L577.79,269.7 L577.13,270.14 L576.37,270.55 L575.55,270.95 L574.71,271.33 L573.89,271.68 L573.13,272 L572.46,272.3 L571.92,272.56 L571.51,272.78 L571.2,272.96 L570.96,273.11 L570.79,273.24 L570.67,273.34 L570.57,273.43 L570.49,273.5 L570.4,273.56 L569.8,273.56 L569.71,273.5 L569.63,273.43 L569.53,273.34 L569.41,273.24 L569.24,273.11 L569,272.96 L568.69,272.78 L568.28,272.56 L567.74,272.3 L567.07,272 L566.31,271.68 L565.49,271.33 L564.65,270.95 L563.83,270.55 L563.07,270.14 L562.41,269.7 L561.81,269.24 L561.23,268.73 L560.67,268.19 L560.15,267.64 L559.68,267.08 L559.26,266.53 L558.91,266 L558.63,265.51 L558.43,265.07 L558.3,264.69 L558.22,264.33 L558.21,263.98 L558.25,263.62 L558.33,263.2 L558.46,262.72 L558.63,262.15 L558.86,261.47 L559.19,260.71 L559.57,259.88 L559.99,259 L560.43,258.1 L560.85,257.19 L561.24,256.3 L561.57,255.43 L561.84,254.59 L562.1,253.75 L562.33,252.92 L562.54,252.08 L562.73,251.24 L562.91,250.4 L563.08,249.56 L563.25,248.72 L563.38,247.88 L563.48,247.04 L563.55,246.2 L563.61,245.36 L563.68,244.52 L563.78,243.68 L563.91,242.84 L564.09,242 L564.32,241.16 L564.61,240.32 L564.92,239.49 L565.27,238.65 L565.62,237.81 L565.96,236.97 L566.3,236.13 L566.6,235.29 L566.89,234.45 L567.19,233.61 L567.48,232.77 L567.76,231.93 L568.03,231.09 L568.28,230.25 L568.5,229.41 L568.7,228.57 L568.88,227.73 L569.03,226.88 L569.16,226.02 L569.28,225.16 L569.37,224.32 L569.45,223.48 L569.5,222.66 L569.54,221.86 L569.54,221.06 L569.5,220.23 L569.43,219.41 L569.34,218.61 L569.25,217.84 L569.18,217.14 L569.13,216.51 L569.12,215.98 L569.16,215.56 L569.23,215.23 L569.33,214.97 L569.43,214.78 L569.55,214.63 L569.65,214.51 L569.74,214.41 L569.8,214.31 Z" fill="#bcbcfc" stroke="#4a4aff" stroke-width="1.4" stroke-linejoin="round" />
<line x1="559" y1="259.3" x2="581" y2="259.3" stroke="#333" stroke-width="1" />
<rect x="569.04" y="215.39" width="2.2" height="2.2" fill="#1a1a90" stroke="none" stroke-width="0" />
<rect x="569.04" y="236.71" width="2.2" height="2.2" fill="#1a1a90" stroke="none" stroke-width="0" />
<rect x="565.35" y="243.42" width="2.2" height="2.2" fill="#1a1a90" stroke="none" stroke-width="0" />
<rect x="572.91" y="243.42" width="2.2" height="2.2" fill="#1a1a90" stroke="none" stroke-width="0" />
<rect x="569.04" y="240.06" width="2.2" height="2.2" fill="#1a1a90" stroke="none" stroke-width="0" />
<rect x="569.04" y="247.62" width="2.2" height="2.2" fill="#1a1a90" stroke="none" stroke-width="0" />
<rect x="569.04" y="251.82" width="2.2" height="2.2" fill="#1a1a90" stroke="none" stroke-width="0" />
<rect x="565.35" y="251.82" width="2.2" height="2.2" fill="#1a1a90" stroke="none" stroke-width="0" />
<rect x="572.91" y="250.98" width="2.2" height="2.2" fill="#1a1a90" stroke="none" stroke-width="0" />
<rect x="562.33" y="258.53" width="2.2" height="2.2" fill="#1a1a90" stroke="none" stroke-width="0" />
<rect x="569.04" y="257.69" width="2.2" height="2.2" fill="#1a1a90" stroke="none" stroke-width="0" />
<rect x="575.76" y="258.53" width="2.2" height="2.2" fill="#1a1a90" stroke="none" stroke-width="0" />
<rect x="560.65" y="261.89" width="2.2" height="2.2" fill="#1a1a90" stroke="none" stroke-width="0" />
<rect x="565.35" y="261.05" width="2.2" height="2.2" fill="#1a1a90" stroke="none" stroke-width="0" />
<rect x="572.91" y="261.05" width="2.2" height="2.2" fill="#1a1a90" stroke="none" stroke-width="0" />
<rect x="577.44" y="261.89" width="2.2" height="2.2" fill="#1a1a90" stroke="none" stroke-width="0" />
<rect x="560.65" y="265.24" width="2.2" height="2.2" fill="#1a1a90" stroke="none" stroke-width="0" />
<rect x="565.35" y="265.24" width="2.2" height="2.2" fill="#1a1a90" stroke="none" stroke-width="0" />
<rect x="569.04" y="263.57" width="2.2" height="2.2" fill="#1a1a90" stroke="none" stroke-width="0" />
<rect x="572.91" y="265.24" width="2.2" height="2.2" fill="#1a1a90" stroke="none" stroke-width="0" />
<rect x="577.44" y="265.24" width="2.2" height="2.2" fill="#1a1a90" stroke="none" stroke-width="0" />
<rect x="565.35" y="268.6" width="2.2" height="2.2" fill="#1a1a90" stroke="none" stroke-width="0" />
<rect x="569.04" y="267.76" width="2.2" height="2.2" fill="#1a1a90" stroke="none" stroke-width="0" />
<rect x="572.91" y="268.6" width="2.2" height="2.2" fill="#1a1a90" stroke="none" stroke-width="0" />
<rect x="569.04" y="271.46" width="2.2" height="2.2" fill="#1a1a90" stroke="none" stroke-width="0" />
<rect x="562.33" y="266.08" width="2.2" height="2.2" fill="#1a1a90" stroke="none" stroke-width="0" />
<rect x="575.76" y="266.08" width="2.2" height="2.2" fill="#1a1a90" stroke="none" stroke-width="0" />
<path d="M608.7,198.36 L608.73,198.36 L608.77,198.31 L608.82,198.24 L608.87,198.2 L608.92,198.23 L608.97,198.38 L609.01,198.68 L609.04,199.2 L609.05,199.94 L609.04,200.9 L609.02,202.01 L608.99,203.24 L608.97,204.54 L608.97,205.87 L608.99,207.18 L609.04,208.43 L609.13,209.65 L609.24,210.89 L609.38,212.15 L609.53,213.41 L609.69,214.69 L609.86,215.96 L610.04,217.24 L610.22,218.5 L610.4,219.77 L610.58,221.06 L610.77,222.35 L610.97,223.64 L611.18,224.92 L611.41,226.17 L611.64,227.4 L611.9,228.57 L612.18,229.7 L612.49,230.79 L612.82,231.84 L613.16,232.88 L613.5,233.89 L613.82,234.91 L614.13,235.93 L614.41,236.97 L614.66,238.03 L614.89,239.11 L615.11,240.19 L615.31,241.27 L615.5,242.34 L615.69,243.38 L615.89,244.39 L616.09,245.36 L616.3,246.28 L616.49,247.16 L616.69,248 L616.88,248.82 L617.08,249.63 L617.29,250.44 L617.52,251.25 L617.77,252.08 L618.09,252.93 L618.5,253.79 L618.95,254.67 L619.4,255.54 L619.8,256.4 L620.11,257.23 L620.29,258.03 L620.29,258.79 L620.09,259.5 L619.73,260.17 L619.25,260.8 L618.66,261.41 L618.02,262.01 L617.36,262.61 L616.7,263.21 L616.09,263.83 L615.48,264.48 L614.82,265.16 L614.14,265.86 L613.44,266.55 L612.77,267.22 L612.13,267.84 L611.55,268.39 L611.06,268.86 L610.64,269.24 L610.28,269.56 L609.96,269.81 L609.69,270.02 L609.46,270.18 L609.27,270.32 L609.1,270.43 L608.96,270.54 L607.84,270.54 L607.7,270.43 L607.53,270.32 L607.34,270.18 L607.11,270.02 L606.84,269.81 L606.52,269.56 L606.16,269.24 L605.74,268.86 L605.25,268.39 L604.67,267.84 L604.03,267.22 L603.36,266.55 L602.66,265.86 L601.98,265.16 L601.32,264.48 L600.71,263.83 L600.1,263.21 L599.44,262.61 L598.78,262.01 L598.14,261.41 L597.55,260.8 L597.07,260.17 L596.71,259.5 L596.51,258.79 L596.51,258.03 L596.69,257.23 L597,256.4 L597.4,255.54 L597.85,254.67 L598.3,253.79 L598.71,252.93 L599.03,252.08 L599.28,251.25 L599.51,250.44 L599.72,249.63 L599.92,248.82 L600.11,248 L600.31,247.16 L600.5,246.28 L600.71,245.36 L600.91,244.39 L601.11,243.38 L601.3,242.34 L601.49,241.27 L601.69,240.19 L601.91,239.11 L602.14,238.03 L602.39,236.97 L602.67,235.93 L602.98,234.91 L603.3,233.89 L603.64,232.88 L603.98,231.84 L604.31,230.79 L604.62,229.7 L604.9,228.57 L605.16,227.4 L605.39,226.17 L605.62,224.92 L605.83,223.64 L606.03,222.35 L606.22,221.06 L606.4,219.77 L606.58,218.5 L606.76,217.24 L606.94,215.96 L607.11,214.69 L607.27,213.41 L607.42,212.15 L607.56,210.89 L607.67,209.65 L607.76,208.43 L607.81,207.18 L607.83,205.87 L607.83,204.54 L607.81,203.24 L607.78,202.01 L607.76,200.9 L607.75,199.94 L607.76,199.2 L607.79,198.68 L607.83,198.38 L607.88,198.23 L607.93,198.2 L607.98,198.24 L608.03,198.31 L608.07,198.36 L608.1,198.36 Z" fill="#86ecb2" stroke="#22b860" stroke-width="1.4" stroke-linejoin="round" />
<line x1="598" y1="251.2" x2="619" y2="251.2" stroke="#333" stroke-width="1" />
<path d="M611.17,242.25 l1.35,1.35 l-1.35,1.35 l-1.35,-1.35 Z" fill="#1b6a3a"/>
<path d="M616.77,254.31 l1.35,1.35 l-1.35,1.35 l-1.35,-1.35 Z" fill="#1b6a3a"/>
<path d="M614.89,250.44 l1.35,1.35 l-1.35,1.35 l-1.35,-1.35 Z" fill="#1b6a3a"/>
<path d="M611.12,231.24 l1.35,1.35 l-1.35,1.35 l-1.35,-1.35 Z" fill="#1b6a3a"/>
<path d="M613.3,244.08 l1.35,1.35 l-1.35,1.35 l-1.35,-1.35 Z" fill="#1b6a3a"/>
<path d="M606.81,231.48 l1.35,1.35 l-1.35,1.35 l-1.35,-1.35 Z" fill="#1b6a3a"/>
<path d="M609.09,236.71 l1.35,1.35 l-1.35,1.35 l-1.35,-1.35 Z" fill="#1b6a3a"/>
<path d="M608.71,218.21 l1.35,1.35 l-1.35,1.35 l-1.35,-1.35 Z" fill="#1b6a3a"/>
<path d="M602.67,252.25 l1.35,1.35 l-1.35,1.35 l-1.35,-1.35 Z" fill="#1b6a3a"/>
<path d="M601.52,254.45 l1.35,1.35 l-1.35,1.35 l-1.35,-1.35 Z" fill="#1b6a3a"/>
<path d="M604.17,241.87 l1.35,1.35 l-1.35,1.35 l-1.35,-1.35 Z" fill="#1b6a3a"/>
<path d="M603.14,259.65 l1.35,1.35 l-1.35,1.35 l-1.35,-1.35 Z" fill="#1b6a3a"/>
<path d="M609.26,267.42 l1.35,1.35 l-1.35,1.35 l-1.35,-1.35 Z" fill="#1b6a3a"/>
<path d="M608.83,218.9 l1.35,1.35 l-1.35,1.35 l-1.35,-1.35 Z" fill="#1b6a3a"/>
<path d="M610.04,236.4 l1.35,1.35 l-1.35,1.35 l-1.35,-1.35 Z" fill="#1b6a3a"/>
<path d="M609.98,264.52 l1.35,1.35 l-1.35,1.35 l-1.35,-1.35 Z" fill="#1b6a3a"/>
<path d="M610.22,266.31 l1.35,1.35 l-1.35,1.35 l-1.35,-1.35 Z" fill="#1b6a3a"/>
<path d="M608.24,219.57 l1.35,1.35 l-1.35,1.35 l-1.35,-1.35 Z" fill="#1b6a3a"/>
<path d="M608.52,219.75 l1.35,1.35 l-1.35,1.35 l-1.35,-1.35 Z" fill="#1b6a3a"/>
<path d="M606.27,246.11 l1.35,1.35 l-1.35,1.35 l-1.35,-1.35 Z" fill="#1b6a3a"/>
<path d="M608.83,220.35 l1.35,1.35 l-1.35,1.35 l-1.35,-1.35 Z" fill="#1b6a3a"/>
<path d="M607.14,232.3 l1.35,1.35 l-1.35,1.35 l-1.35,-1.35 Z" fill="#1b6a3a"/>
<path d="M609.8,232.34 l1.35,1.35 l-1.35,1.35 l-1.35,-1.35 Z" fill="#1b6a3a"/>
<path d="M606.78,266.91 l1.35,1.35 l-1.35,1.35 l-1.35,-1.35 Z" fill="#1b6a3a"/>
<path d="M613.87,251.14 l1.35,1.35 l-1.35,1.35 l-1.35,-1.35 Z" fill="#1b6a3a"/>
<path d="M605.94,253.79 l1.35,1.35 l-1.35,1.35 l-1.35,-1.35 Z" fill="#1b6a3a"/>
<path d="M603.33,239.15 l1.35,1.35 l-1.35,1.35 l-1.35,-1.35 Z" fill="#1b6a3a"/>
<path d="M606.5,265.51 l1.35,1.35 l-1.35,1.35 l-1.35,-1.35 Z" fill="#1b6a3a"/>
<path d="M615.35,251.55 l1.35,1.35 l-1.35,1.35 l-1.35,-1.35 Z" fill="#1b6a3a"/>
<path d="M607.14,264.59 l1.35,1.35 l-1.35,1.35 l-1.35,-1.35 Z" fill="#1b6a3a"/>
<path d="M608.46,223.49 l1.35,1.35 l-1.35,1.35 l-1.35,-1.35 Z" fill="#1b6a3a"/>
<path d="M601.54,252.94 l1.35,1.35 l-1.35,1.35 l-1.35,-1.35 Z" fill="#1b6a3a"/>
<path d="M613.09,251.04 l1.35,1.35 l-1.35,1.35 l-1.35,-1.35 Z" fill="#1b6a3a"/>
<path d="M599.39,258.83 l1.35,1.35 l-1.35,1.35 l-1.35,-1.35 Z" fill="#1b6a3a"/>
<path d="M605.3,264.86 l1.35,1.35 l-1.35,1.35 l-1.35,-1.35 Z" fill="#1b6a3a"/>
<path d="M608.62,222.5 l1.35,1.35 l-1.35,1.35 l-1.35,-1.35 Z" fill="#1b6a3a"/>
<path d="M606.58,262.92 l1.35,1.35 l-1.35,1.35 l-1.35,-1.35 Z" fill="#1b6a3a"/>
<path d="M608.88,263.34 l1.35,1.35 l-1.35,1.35 l-1.35,-1.35 Z" fill="#1b6a3a"/>
<path d="M608.14,220.52 l1.35,1.35 l-1.35,1.35 l-1.35,-1.35 Z" fill="#1b6a3a"/>
<path d="M615.1,246.89 l1.35,1.35 l-1.35,1.35 l-1.35,-1.35 Z" fill="#1b6a3a"/>
<path d="M608.46,267.72 l1.35,1.35 l-1.35,1.35 l-1.35,-1.35 Z" fill="#1b6a3a"/>
<path d="M607.42,227.06 l1.35,1.35 l-1.35,1.35 l-1.35,-1.35 Z" fill="#1b6a3a"/>
<path d="M611.9,240.23 l1.35,1.35 l-1.35,1.35 l-1.35,-1.35 Z" fill="#1b6a3a"/>
<path d="M607.96,230.55 l1.35,1.35 l-1.35,1.35 l-1.35,-1.35 Z" fill="#1b6a3a"/>
<path d="M602.97,262.77 l1.35,1.35 l-1.35,1.35 l-1.35,-1.35 Z" fill="#1b6a3a"/>
<path d="M610.91,233.2 l1.35,1.35 l-1.35,1.35 l-1.35,-1.35 Z" fill="#1b6a3a"/>
<path d="M615.16,249.87 l1.35,1.35 l-1.35,1.35 l-1.35,-1.35 Z" fill="#1b6a3a"/>
<path d="M611.76,242.78 l1.35,1.35 l-1.35,1.35 l-1.35,-1.35 Z" fill="#1b6a3a"/>
<path d="M606.73,229.07 l1.35,1.35 l-1.35,1.35 l-1.35,-1.35 Z" fill="#1b6a3a"/>
<path d="M604.22,257.78 l1.35,1.35 l-1.35,1.35 l-1.35,-1.35 Z" fill="#1b6a3a"/>
<path d="M611.17,230.37 l1.35,1.35 l-1.35,1.35 l-1.35,-1.35 Z" fill="#1b6a3a"/>
<path d="M617.93,258.31 l1.35,1.35 l-1.35,1.35 l-1.35,-1.35 Z" fill="#1b6a3a"/>
<path d="M608.33,230.4 l1.35,1.35 l-1.35,1.35 l-1.35,-1.35 Z" fill="#1b6a3a"/>
<path d="M608.09,249.72 l1.35,1.35 l-1.35,1.35 l-1.35,-1.35 Z" fill="#1b6a3a"/>
<path d="M608.31,219.02 l1.35,1.35 l-1.35,1.35 l-1.35,-1.35 Z" fill="#1b6a3a"/>
<path d="M609.81,225.04 l1.35,1.35 l-1.35,1.35 l-1.35,-1.35 Z" fill="#1b6a3a"/>
<path d="M609.11,265.84 l1.35,1.35 l-1.35,1.35 l-1.35,-1.35 Z" fill="#1b6a3a"/>
<path d="M607.16,233.6 l1.35,1.35 l-1.35,1.35 l-1.35,-1.35 Z" fill="#1b6a3a"/>
<path d="M608.57,217.71 l1.35,1.35 l-1.35,1.35 l-1.35,-1.35 Z" fill="#1b6a3a"/>
<path d="M605.82,259.37 l1.35,1.35 l-1.35,1.35 l-1.35,-1.35 Z" fill="#1b6a3a"/>
<path d="M613.42,253.67 l1.35,1.35 l-1.35,1.35 l-1.35,-1.35 Z" fill="#1b6a3a"/>
<path d="M610.64,247.27 l1.35,1.35 l-1.35,1.35 l-1.35,-1.35 Z" fill="#1b6a3a"/>
<path d="M606.16,251.82 l1.35,1.35 l-1.35,1.35 l-1.35,-1.35 Z" fill="#1b6a3a"/>
<path d="M605.33,247.96 l1.35,1.35 l-1.35,1.35 l-1.35,-1.35 Z" fill="#1b6a3a"/>
<path d="M610.3,232.65 l1.35,1.35 l-1.35,1.35 l-1.35,-1.35 Z" fill="#1b6a3a"/>
<path d="M605.61,247.01 l1.35,1.35 l-1.35,1.35 l-1.35,-1.35 Z" fill="#1b6a3a"/>
<path d="M609.54,264.84 l1.35,1.35 l-1.35,1.35 l-1.35,-1.35 Z" fill="#1b6a3a"/>
<path d="M603.33,239.3 l1.35,1.35 l-1.35,1.35 l-1.35,-1.35 Z" fill="#1b6a3a"/>
<path d="M606.05,236.94 l1.35,1.35 l-1.35,1.35 l-1.35,-1.35 Z" fill="#1b6a3a"/>
<path d="M607.92,245.67 l1.35,1.35 l-1.35,1.35 l-1.35,-1.35 Z" fill="#1b6a3a"/>
<path d="M602.88,233.79 l1.5,1.5 l-1.5,1.5 l-1.5,-1.5 Z" fill="#1b6a3a"/>
<path d="M614.63,234.63 l1.5,1.5 l-1.5,1.5 l-1.5,-1.5 Z" fill="#1b6a3a"/>
<path d="M599.52,241.34 l1.5,1.5 l-1.5,1.5 l-1.5,-1.5 Z" fill="#1b6a3a"/>
<path d="M617.15,242.52 l1.5,1.5 l-1.5,1.5 l-1.5,-1.5 Z" fill="#1b6a3a"/>
<path d="M605.4,224.56 l1.5,1.5 l-1.5,1.5 l-1.5,-1.5 Z" fill="#1b6a3a"/>
<path d="M647.98,197.52 L648.12,197.54 L648.32,197.53 L648.56,197.51 L648.82,197.52 L649.08,197.58 L649.32,197.71 L649.52,197.97 L649.66,198.36 L649.73,198.9 L649.76,199.58 L649.74,200.37 L649.71,201.24 L649.67,202.17 L649.64,203.14 L649.63,204.11 L649.66,205.07 L649.71,206.04 L649.77,207.05 L649.84,208.1 L649.92,209.16 L650.02,210.24 L650.15,211.33 L650.31,212.41 L650.5,213.47 L650.73,214.51 L651.01,215.56 L651.32,216.61 L651.65,217.66 L652,218.71 L652.35,219.76 L652.69,220.81 L653.01,221.86 L653.34,222.91 L653.68,223.96 L654.03,225.01 L654.38,226.06 L654.71,227.11 L655.02,228.15 L655.3,229.2 L655.53,230.25 L655.73,231.31 L655.9,232.39 L656.04,233.47 L656.16,234.55 L656.25,235.62 L656.32,236.67 L656.36,237.68 L656.37,238.65 L656.34,239.57 L656.26,240.44 L656.14,241.29 L656,242.11 L655.86,242.92 L655.72,243.72 L655.61,244.53 L655.53,245.36 L655.47,246.2 L655.4,247.04 L655.34,247.88 L655.3,248.72 L655.28,249.56 L655.31,250.4 L655.39,251.24 L655.53,252.08 L655.79,252.93 L656.15,253.79 L656.59,254.67 L657.05,255.54 L657.52,256.4 L657.93,257.23 L658.26,258.03 L658.47,258.79 L658.57,259.51 L658.61,260.21 L658.6,260.88 L658.52,261.52 L658.39,262.13 L658.2,262.72 L657.94,263.29 L657.63,263.83 L657.23,264.34 L656.73,264.84 L656.16,265.32 L655.53,265.77 L654.88,266.18 L654.23,266.56 L653.6,266.9 L653.01,267.18 L652.44,267.42 L651.84,267.59 L651.23,267.72 L650.63,267.81 L650.07,267.88 L649.56,267.93 L649.14,267.98 L648.82,268.02 L645.18,268.02 L644.86,267.98 L644.44,267.93 L643.93,267.88 L643.37,267.81 L642.77,267.72 L642.16,267.59 L641.56,267.42 L640.99,267.18 L640.4,266.9 L639.77,266.56 L639.12,266.18 L638.47,265.77 L637.84,265.32 L637.27,264.84 L636.77,264.34 L636.37,263.83 L636.06,263.29 L635.8,262.72 L635.61,262.13 L635.48,261.52 L635.4,260.88 L635.39,260.21 L635.43,259.51 L635.53,258.79 L635.74,258.03 L636.07,257.23 L636.48,256.4 L636.95,255.54 L637.41,254.67 L637.85,253.79 L638.21,252.93 L638.47,252.08 L638.61,251.24 L638.69,250.4 L638.72,249.56 L638.7,248.72 L638.66,247.88 L638.6,247.04 L638.53,246.2 L638.47,245.36 L638.39,244.53 L638.28,243.72 L638.14,242.92 L638,242.11 L637.86,241.29 L637.74,240.44 L637.66,239.57 L637.63,238.65 L637.64,237.68 L637.68,236.67 L637.75,235.62 L637.84,234.55 L637.96,233.47 L638.1,232.39 L638.27,231.31 L638.47,230.25 L638.7,229.2 L638.98,228.15 L639.29,227.11 L639.62,226.06 L639.97,225.01 L640.32,223.96 L640.66,222.91 L640.99,221.86 L641.31,220.81 L641.65,219.76 L642,218.71 L642.35,217.66 L642.68,216.61 L642.99,215.56 L643.27,214.51 L643.5,213.47 L643.69,212.41 L643.85,211.33 L643.98,210.24 L644.08,209.16 L644.16,208.1 L644.23,207.05 L644.29,206.04 L644.34,205.07 L644.37,204.11 L644.36,203.14 L644.33,202.17 L644.29,201.24 L644.26,200.37 L644.24,199.58 L644.27,198.9 L644.34,198.36 L644.48,197.97 L644.68,197.71 L644.92,197.58 L645.18,197.52 L645.44,197.51 L645.68,197.53 L645.88,197.54 L646.02,197.52 Z" fill="#f6aaaa" stroke="#ee3838" stroke-width="1.4" stroke-linejoin="round" />
<line x1="635" y1="244.5" x2="659" y2="244.5" stroke="#333" stroke-width="1" />
<path d="M645.28,229.08 l1.4,2.45 l-2.8,0 Z" fill="#a81818"/>
<path d="M647.78,207.02 l1.4,2.45 l-2.8,0 Z" fill="#a81818"/>
<path d="M647.01,198.04 l1.4,2.45 l-2.8,0 Z" fill="#a81818"/>
<path d="M638.78,258.68 l1.4,2.45 l-2.8,0 Z" fill="#a81818"/>
<path d="M648.75,235.29 l1.4,2.45 l-2.8,0 Z" fill="#a81818"/>
<path d="M646.79,200.38 l1.4,2.45 l-2.8,0 Z" fill="#a81818"/>
<path d="M646.36,245.44 l1.4,2.45 l-2.8,0 Z" fill="#a81818"/>
<path d="M642.53,246.9 l1.4,2.45 l-2.8,0 Z" fill="#a81818"/>
<path d="M645.36,213.78 l1.4,2.45 l-2.8,0 Z" fill="#a81818"/>
<path d="M653.14,232.03 l1.4,2.45 l-2.8,0 Z" fill="#a81818"/>
<path d="M651.14,237.75 l1.4,2.45 l-2.8,0 Z" fill="#a81818"/>
<path d="M649.59,223.69 l1.4,2.45 l-2.8,0 Z" fill="#a81818"/>
<path d="M646.62,204.51 l1.4,2.45 l-2.8,0 Z" fill="#a81818"/>
<path d="M650.06,243.45 l1.4,2.45 l-2.8,0 Z" fill="#a81818"/>
<path d="M641.99,226.28 l1.4,2.45 l-2.8,0 Z" fill="#a81818"/>
<path d="M645.44,215.74 l1.4,2.45 l-2.8,0 Z" fill="#a81818"/>
<path d="M648.86,216.72 l1.4,2.45 l-2.8,0 Z" fill="#a81818"/>
<path d="M648.19,211.16 l1.4,2.45 l-2.8,0 Z" fill="#a81818"/>
<path d="M638.39,257.4 l1.4,2.45 l-2.8,0 Z" fill="#a81818"/>
<path d="M646.91,223.36 l1.4,2.45 l-2.8,0 Z" fill="#a81818"/>
<path d="M646.86,199.2 l1.4,2.45 l-2.8,0 Z" fill="#a81818"/>
<path d="M639.39,259.24 l1.4,2.45 l-2.8,0 Z" fill="#a81818"/>
<path d="M641.29,238.19 l1.4,2.45 l-2.8,0 Z" fill="#a81818"/>
<path d="M652.98,236.95 l1.4,2.45 l-2.8,0 Z" fill="#a81818"/>
<path d="M645.45,211.41 l1.4,2.45 l-2.8,0 Z" fill="#a81818"/>
<path d="M647.07,203.28 l1.4,2.45 l-2.8,0 Z" fill="#a81818"/>
<path d="M646.21,198.79 l1.4,2.45 l-2.8,0 Z" fill="#a81818"/>
<path d="M653.02,231.38 l1.4,2.45 l-2.8,0 Z" fill="#a81818"/>
<path d="M645.77,226.17 l1.4,2.45 l-2.8,0 Z" fill="#a81818"/>
<path d="M641.19,241.03 l1.4,2.45 l-2.8,0 Z" fill="#a81818"/>
<path d="M642.04,237.03 l1.4,2.45 l-2.8,0 Z" fill="#a81818"/>
<path d="M653.84,239 l1.4,2.45 l-2.8,0 Z" fill="#a81818"/>
<path d="M647.09,201.28 l1.4,2.45 l-2.8,0 Z" fill="#a81818"/>
<path d="M641.75,238.83 l1.4,2.45 l-2.8,0 Z" fill="#a81818"/>
<path d="M649.69,215.85 l1.4,2.45 l-2.8,0 Z" fill="#a81818"/>
<path d="M643.32,265.46 l1.4,2.45 l-2.8,0 Z" fill="#a81818"/>
<path d="M652.96,245.57 l1.4,2.45 l-2.8,0 Z" fill="#a81818"/>
<path d="M647.46,213.7 l1.4,2.45 l-2.8,0 Z" fill="#a81818"/>
<path d="M646.76,200.53 l1.4,2.45 l-2.8,0 Z" fill="#a81818"/>
<path d="M648.22,243.44 l1.4,2.45 l-2.8,0 Z" fill="#a81818"/>
<path d="M641.49,250.27 l1.4,2.45 l-2.8,0 Z" fill="#a81818"/>
<path d="M650.24,221.21 l1.4,2.45 l-2.8,0 Z" fill="#a81818"/>
<path d="M646.26,237.32 l1.4,2.45 l-2.8,0 Z" fill="#a81818"/>
<path d="M652.51,224.95 l1.4,2.45 l-2.8,0 Z" fill="#a81818"/>
<path d="M639.71,236.66 l1.4,2.45 l-2.8,0 Z" fill="#a81818"/>
<path d="M644.55,251.96 l1.4,2.45 l-2.8,0 Z" fill="#a81818"/>
<path d="M643.38,227.08 l1.4,2.45 l-2.8,0 Z" fill="#a81818"/>
<path d="M644.72,227.79 l1.4,2.45 l-2.8,0 Z" fill="#a81818"/>
<path d="M647.22,203.64 l1.4,2.45 l-2.8,0 Z" fill="#a81818"/>
<path d="M647.52,204.61 l1.4,2.45 l-2.8,0 Z" fill="#a81818"/>
<path d="M647.52,199.33 l1.4,2.45 l-2.8,0 Z" fill="#a81818"/>
<path d="M646.96,252.51 l1.4,2.45 l-2.8,0 Z" fill="#a81818"/>
<path d="M643.68,245.84 l1.4,2.45 l-2.8,0 Z" fill="#a81818"/>
<path d="M646.03,247.76 l1.4,2.45 l-2.8,0 Z" fill="#a81818"/>
<path d="M648.84,213.3 l1.4,2.45 l-2.8,0 Z" fill="#a81818"/>
<path d="M645.57,224.86 l1.4,2.45 l-2.8,0 Z" fill="#a81818"/>
<path d="M644.59,256.07 l1.4,2.45 l-2.8,0 Z" fill="#a81818"/>
<path d="M642.51,242.99 l1.4,2.45 l-2.8,0 Z" fill="#a81818"/>
<path d="M642.81,254.94 l1.4,2.45 l-2.8,0 Z" fill="#a81818"/>
<path d="M647.82,201.03 l1.4,2.45 l-2.8,0 Z" fill="#a81818"/>
<path d="M648.14,209.35 l1.4,2.45 l-2.8,0 Z" fill="#a81818"/>
<path d="M648.34,264.66 l1.4,2.45 l-2.8,0 Z" fill="#a81818"/>
<path d="M646.16,198.41 l1.4,2.45 l-2.8,0 Z" fill="#a81818"/>
<path d="M646.63,211.78 l1.4,2.45 l-2.8,0 Z" fill="#a81818"/>
<path d="M653.94,239.19 l1.4,2.45 l-2.8,0 Z" fill="#a81818"/>
<path d="M643.69,221.71 l1.4,2.45 l-2.8,0 Z" fill="#a81818"/>
<path d="M641.53,235.81 l1.4,2.45 l-2.8,0 Z" fill="#a81818"/>
<path d="M647.1,203.49 l1.4,2.45 l-2.8,0 Z" fill="#a81818"/>
<path d="M641.21,244.93 l1.4,2.45 l-2.8,0 Z" fill="#a81818"/>
<path d="M649.69,228.3 l1.4,2.45 l-2.8,0 Z" fill="#a81818"/>
<path d="M645.46,249.56 l1.4,2.45 l-2.8,0 Z" fill="#a81818"/>
<path d="M640.55,257.93 l1.4,2.45 l-2.8,0 Z" fill="#a81818"/>
<path d="M650.56,246.25 l1.4,2.45 l-2.8,0 Z" fill="#a81818"/>
<path d="M646.89,257.46 l1.4,2.45 l-2.8,0 Z" fill="#a81818"/>
<path d="M646.19,204.35 l1.4,2.45 l-2.8,0 Z" fill="#a81818"/>
<path d="M642.17,233.56 l1.4,2.45 l-2.8,0 Z" fill="#a81818"/>
<path d="M640.97,240.42 l1.4,2.45 l-2.8,0 Z" fill="#a81818"/>
<path d="M643.26,250.65 l1.4,2.45 l-2.8,0 Z" fill="#a81818"/>
<path d="M646.38,198.48 l1.4,2.45 l-2.8,0 Z" fill="#a81818"/>
<path d="M647.79,228.66 l1.4,2.45 l-2.8,0 Z" fill="#a81818"/>
<path d="M643.49,224 l1.4,2.45 l-2.8,0 Z" fill="#a81818"/>
<path d="M653.25,230.38 l1.4,2.45 l-2.8,0 Z" fill="#a81818"/>
<path d="M653.56,234.01 l1.4,2.45 l-2.8,0 Z" fill="#a81818"/>
<path d="M647.91,199.56 l1.4,2.45 l-2.8,0 Z" fill="#a81818"/>
<path d="M647.87,258.05 l1.4,2.45 l-2.8,0 Z" fill="#a81818"/>
<path d="M647.55,233.2 l1.4,2.45 l-2.8,0 Z" fill="#a81818"/>
<path d="M638.49,259.45 l1.4,2.45 l-2.8,0 Z" fill="#a81818"/>
<path d="M647.6,241.31 l1.4,2.45 l-2.8,0 Z" fill="#a81818"/>
<path d="M648.54,218.02 l1.4,2.45 l-2.8,0 Z" fill="#a81818"/>
<path d="M641.81,246.61 l1.4,2.45 l-2.8,0 Z" fill="#a81818"/>
<path d="M646.38,245.17 l1.4,2.45 l-2.8,0 Z" fill="#a81818"/>
<path d="M648.94,230.93 l1.4,2.45 l-2.8,0 Z" fill="#a81818"/>
<path d="M647.18,201.2 l1.4,2.45 l-2.8,0 Z" fill="#a81818"/>
<path d="M650.8,222.97 l1.4,2.45 l-2.8,0 Z" fill="#a81818"/>
<path d="M648.28,213.32 l1.4,2.45 l-2.8,0 Z" fill="#a81818"/>
<path d="M648.63,247.21 l1.4,2.45 l-2.8,0 Z" fill="#a81818"/>
<path d="M638.08,257.16 l1.4,2.45 l-2.8,0 Z" fill="#a81818"/>
<path d="M648.71,238.19 l1.4,2.45 l-2.8,0 Z" fill="#a81818"/>
<path d="M645.74,243.71 l1.4,2.45 l-2.8,0 Z" fill="#a81818"/>
<path d="M646.48,202.29 l1.4,2.45 l-2.8,0 Z" fill="#a81818"/>
<path d="M642.24,238.95 l1.4,2.45 l-2.8,0 Z" fill="#a81818"/>
<path d="M646.76,202.01 l1.4,2.45 l-2.8,0 Z" fill="#a81818"/>
<path d="M647.49,229.58 l1.4,2.45 l-2.8,0 Z" fill="#a81818"/>
<path d="M647.51,199.37 l1.4,2.45 l-2.8,0 Z" fill="#a81818"/>
<path d="M649.36,220.3 l1.4,2.45 l-2.8,0 Z" fill="#a81818"/>
<text x="5.5" y="171.52" font-size="19.5" font-weight="bold" text-anchor="start" fill="#111"  stroke="#111" stroke-width="0.25">E</text>
<line x1="50.7" y1="181.8" x2="50.7" y2="284.9" stroke="#111" stroke-width="1.2" />
<line x1="46.4" y1="284.9" x2="50.7" y2="284.9" stroke="#111" stroke-width="1.2" />
<text x="44.7" y="287.56" font-size="7.4" font-weight="normal" text-anchor="end" fill="#1a1a1a"  stroke="#1a1a1a" stroke-width="0.25">0</text>
<line x1="46.4" y1="250.53" x2="50.7" y2="250.53" stroke="#111" stroke-width="1.2" />
<text x="44.7" y="253.2" font-size="7.4" font-weight="normal" text-anchor="end" fill="#1a1a1a"  stroke="#1a1a1a" stroke-width="0.25">30</text>
<line x1="46.4" y1="216.17" x2="50.7" y2="216.17" stroke="#111" stroke-width="1.2" />
<text x="44.7" y="218.83" font-size="7.4" font-weight="normal" text-anchor="end" fill="#1a1a1a"  stroke="#1a1a1a" stroke-width="0.25">60</text>
<line x1="46.4" y1="181.8" x2="50.7" y2="181.8" stroke="#111" stroke-width="1.2" />
<text x="44.7" y="184.46" font-size="7.4" font-weight="normal" text-anchor="end" fill="#1a1a1a"  stroke="#1a1a1a" stroke-width="0.25">90</text>
<line x1="50.7" y1="284.9" x2="126.8" y2="284.9" stroke="#111" stroke-width="1.2" />
<line x1="73.4" y1="284.9" x2="73.4" y2="288.2" stroke="#111" stroke-width="1.1" />
<line x1="109.3" y1="284.9" x2="109.3" y2="288.2" stroke="#111" stroke-width="1.1" />
<text x="73.6" y="300.96" font-size="11" font-weight="bold" text-anchor="middle" fill="#111"  stroke="#111" stroke-width="0.25">NC</text>
<text x="109" y="300.96" font-size="11" font-weight="bold" text-anchor="middle" fill="#111"  stroke="#111" stroke-width="0.25">CAD</text>
<polyline points="73.5,183.4 73.5,174.2 108.8,174.2 108.8,179.7" stroke="#222" stroke-width="1.2" fill="none" />
<text x="91.2" y="169.2" font-size="8.6" font-weight="bold" text-anchor="middle" fill="#111"  textLength="26" lengthAdjust="spacingAndGlyphs" stroke="#111" stroke-width="0.25">0.0002</text>
<text x="0" y="0" font-size="9.85" font-weight="bold" fill="#111" text-anchor="middle" transform="translate(31.85 233.4) rotate(-90)">sGPNMB in plasma (ng/mL)</text>
<path d="M74.15,189.86 L74.15,190.5 L74.13,191.39 L74.12,192.44 L74.1,193.6 L74.1,194.8 L74.1,195.97 L74.12,197.04 L74.15,197.95 L74.21,198.71 L74.31,199.39 L74.42,200.01 L74.54,200.58 L74.65,201.13 L74.76,201.67 L74.83,202.22 L74.88,202.81 L74.89,203.42 L74.87,204.02 L74.84,204.63 L74.78,205.24 L74.72,205.84 L74.66,206.45 L74.6,207.06 L74.56,207.66 L74.51,208.26 L74.44,208.84 L74.36,209.41 L74.29,209.99 L74.24,210.58 L74.2,211.19 L74.2,211.84 L74.23,212.52 L74.32,213.26 L74.45,214.06 L74.6,214.9 L74.78,215.76 L74.98,216.62 L75.17,217.45 L75.36,218.25 L75.53,219 L75.69,219.67 L75.85,220.29 L76.01,220.87 L76.17,221.43 L76.32,221.99 L76.47,222.56 L76.61,223.18 L76.74,223.85 L76.86,224.6 L76.97,225.4 L77.08,226.23 L77.17,227.09 L77.27,227.95 L77.36,228.79 L77.45,229.59 L77.55,230.33 L77.64,231.01 L77.71,231.66 L77.77,232.27 L77.83,232.86 L77.91,233.44 L78.02,234.01 L78.16,234.59 L78.36,235.19 L78.62,235.79 L78.95,236.4 L79.31,237.01 L79.7,237.61 L80.1,238.22 L80.5,238.83 L80.87,239.44 L81.19,240.04 L81.5,240.65 L81.8,241.26 L82.08,241.86 L82.36,242.47 L82.61,243.08 L82.85,243.69 L83.05,244.29 L83.22,244.9 L83.35,245.51 L83.45,246.11 L83.52,246.72 L83.57,247.33 L83.6,247.94 L83.62,248.54 L83.62,249.15 L83.62,249.76 L83.62,250.36 L83.61,250.97 L83.58,251.58 L83.55,252.18 L83.49,252.79 L83.42,253.4 L83.33,254.01 L83.22,254.61 L83.09,255.22 L82.96,255.83 L82.81,256.43 L82.64,257.04 L82.44,257.65 L82.2,258.26 L81.93,258.86 L81.6,259.47 L81.2,260.08 L80.73,260.68 L80.21,261.29 L79.65,261.9 L79.09,262.51 L78.54,263.11 L78.02,263.72 L77.55,264.33 L77.12,264.91 L76.71,265.46 L76.3,266.01 L75.92,266.55 L75.56,267.12 L75.24,267.74 L74.96,268.42 L74.72,269.18 L74.54,270.1 L74.4,271.17 L74.31,272.34 L74.26,273.53 L74.22,274.69 L74.2,275.75 L74.18,276.63 L74.15,277.28 L73.65,277.28 L73.62,276.63 L73.6,275.75 L73.58,274.69 L73.54,273.53 L73.49,272.34 L73.4,271.17 L73.26,270.1 L73.08,269.18 L72.84,268.42 L72.56,267.74 L72.24,267.12 L71.88,266.55 L71.5,266.01 L71.09,265.46 L70.68,264.91 L70.25,264.33 L69.78,263.72 L69.26,263.11 L68.71,262.51 L68.15,261.9 L67.59,261.29 L67.07,260.68 L66.6,260.08 L66.2,259.47 L65.87,258.86 L65.6,258.26 L65.36,257.65 L65.16,257.04 L64.99,256.43 L64.84,255.83 L64.71,255.22 L64.58,254.61 L64.47,254.01 L64.38,253.4 L64.31,252.79 L64.25,252.18 L64.22,251.58 L64.19,250.97 L64.18,250.36 L64.18,249.76 L64.18,249.15 L64.18,248.54 L64.2,247.94 L64.23,247.33 L64.28,246.72 L64.35,246.11 L64.45,245.51 L64.58,244.9 L64.75,244.29 L64.95,243.69 L65.19,243.08 L65.44,242.47 L65.72,241.86 L66,241.26 L66.3,240.65 L66.61,240.04 L66.93,239.44 L67.3,238.83 L67.7,238.22 L68.1,237.61 L68.49,237.01 L68.85,236.4 L69.18,235.79 L69.44,235.19 L69.64,234.59 L69.78,234.01 L69.89,233.44 L69.97,232.86 L70.03,232.27 L70.09,231.66 L70.16,231.01 L70.25,230.33 L70.35,229.59 L70.44,228.79 L70.53,227.95 L70.63,227.09 L70.72,226.23 L70.83,225.4 L70.94,224.6 L71.06,223.85 L71.19,223.18 L71.33,222.56 L71.48,221.99 L71.63,221.43 L71.79,220.87 L71.95,220.29 L72.11,219.67 L72.27,219 L72.44,218.25 L72.63,217.45 L72.82,216.62 L73.02,215.76 L73.2,214.9 L73.35,214.06 L73.48,213.26 L73.57,212.52 L73.6,211.84 L73.6,211.19 L73.56,210.58 L73.51,209.99 L73.44,209.41 L73.36,208.84 L73.29,208.26 L73.24,207.66 L73.2,207.06 L73.14,206.45 L73.08,205.84 L73.02,205.24 L72.96,204.63 L72.93,204.02 L72.91,203.42 L72.92,202.81 L72.97,202.22 L73.04,201.67 L73.15,201.13 L73.26,200.58 L73.38,200.01 L73.49,199.39 L73.59,198.71 L73.65,197.95 L73.68,197.04 L73.7,195.97 L73.7,194.8 L73.7,193.6 L73.68,192.44 L73.67,191.39 L73.65,190.5 L73.65,189.86 Z" fill="url(#hb)" stroke="#4646ff" stroke-width="1.9" stroke-linejoin="round" />
<circle cx="73.9" cy="269.77" r="0.85" fill="#1e1e90"/>
<circle cx="75.3" cy="258.02" r="0.85" fill="#1e1e90"/>
<circle cx="74.19" cy="231.17" r="0.85" fill="#1e1e90"/>
<circle cx="71.52" cy="240.08" r="0.85" fill="#1e1e90"/>
<circle cx="75.35" cy="232.92" r="0.85" fill="#1e1e90"/>
<circle cx="73.64" cy="237.08" r="0.85" fill="#1e1e90"/>
<circle cx="70.61" cy="259.92" r="0.85" fill="#1e1e90"/>
<circle cx="73.27" cy="237.75" r="0.85" fill="#1e1e90"/>
<circle cx="74.13" cy="235.59" r="0.85" fill="#1e1e90"/>
<circle cx="69.2" cy="250.3" r="0.85" fill="#1e1e90"/>
<circle cx="78.17" cy="257.37" r="0.85" fill="#1e1e90"/>
<circle cx="73.9" cy="207.73" r="0.85" fill="#1e1e90"/>
<circle cx="77.86" cy="252.49" r="0.85" fill="#1e1e90"/>
<circle cx="72.63" cy="256.97" r="0.85" fill="#1e1e90"/>
<circle cx="73.9" cy="270.91" r="0.85" fill="#1e1e90"/>
<circle cx="73.52" cy="250.93" r="0.85" fill="#1e1e90"/>
<circle cx="73.82" cy="258.86" r="0.85" fill="#1e1e90"/>
<circle cx="74.91" cy="233.57" r="0.85" fill="#1e1e90"/>
<circle cx="73.89" cy="267.07" r="0.85" fill="#1e1e90"/>
<circle cx="75.01" cy="230.72" r="0.85" fill="#1e1e90"/>
<circle cx="73.1" cy="232.42" r="0.85" fill="#1e1e90"/>
<circle cx="77.81" cy="245.75" r="0.85" fill="#1e1e90"/>
<circle cx="77.03" cy="241.13" r="0.85" fill="#1e1e90"/>
<circle cx="73.9" cy="266.11" r="0.85" fill="#1e1e90"/>
<circle cx="75.21" cy="243.03" r="0.85" fill="#1e1e90"/>
<circle cx="74.01" cy="244.9" r="0.85" fill="#1e1e90"/>
<circle cx="70.15" cy="243.48" r="0.85" fill="#1e1e90"/>
<circle cx="77.9" cy="251.8" r="0.85" fill="#1e1e90"/>
<circle cx="76.14" cy="255.58" r="0.85" fill="#1e1e90"/>
<circle cx="71.61" cy="242.51" r="0.85" fill="#1e1e90"/>
<circle cx="73.9" cy="201.61" r="0.85" fill="#1e1e90"/>
<circle cx="73.9" cy="212.83" r="0.85" fill="#1e1e90"/>
<circle cx="74.37" cy="227.26" r="0.85" fill="#1e1e90"/>
<circle cx="72.93" cy="240.14" r="0.85" fill="#1e1e90"/>
<circle cx="78.25" cy="245.67" r="0.85" fill="#1e1e90"/>
<circle cx="75.94" cy="243.58" r="0.85" fill="#1e1e90"/>
<circle cx="70.54" cy="247.21" r="0.85" fill="#1e1e90"/>
<circle cx="73.9" cy="269.97" r="0.85" fill="#1e1e90"/>
<circle cx="70.01" cy="257.76" r="0.85" fill="#1e1e90"/>
<circle cx="72.75" cy="233.19" r="0.85" fill="#1e1e90"/>
<circle cx="72.28" cy="234.91" r="0.85" fill="#1e1e90"/>
<circle cx="77.87" cy="249.97" r="0.85" fill="#1e1e90"/>
<circle cx="74.73" cy="262.86" r="0.85" fill="#1e1e90"/>
<circle cx="73.27" cy="228.4" r="0.85" fill="#1e1e90"/>
<circle cx="73.88" cy="218.62" r="0.85" fill="#1e1e90"/>
<circle cx="74.73" cy="252.43" r="0.85" fill="#1e1e90"/>
<circle cx="74.03" cy="243.56" r="0.85" fill="#1e1e90"/>
<circle cx="74.82" cy="257" r="0.85" fill="#1e1e90"/>
<circle cx="69.29" cy="245.67" r="0.85" fill="#1e1e90"/>
<circle cx="69.3" cy="250.6" r="0.85" fill="#1e1e90"/>
<circle cx="69.92" cy="251.17" r="0.85" fill="#1e1e90"/>
<circle cx="75.44" cy="234.17" r="0.85" fill="#1e1e90"/>
<circle cx="73.9" cy="273.56" r="0.85" fill="#1e1e90"/>
<circle cx="75.12" cy="247.92" r="0.85" fill="#1e1e90"/>
<circle cx="71.5" cy="250.47" r="0.85" fill="#1e1e90"/>
<circle cx="73.97" cy="264.05" r="0.85" fill="#1e1e90"/>
<circle cx="71.17" cy="260" r="0.85" fill="#1e1e90"/>
<circle cx="73.9" cy="212.51" r="0.85" fill="#1e1e90"/>
<circle cx="71.25" cy="250.72" r="0.85" fill="#1e1e90"/>
<circle cx="73.26" cy="234.7" r="0.85" fill="#1e1e90"/>
<circle cx="73.9" cy="210.21" r="0.85" fill="#1e1e90"/>
<circle cx="73.25" cy="252.04" r="0.85" fill="#1e1e90"/>
<circle cx="74.69" cy="246.26" r="0.85" fill="#1e1e90"/>
<circle cx="72.76" cy="235.26" r="0.85" fill="#1e1e90"/>
<circle cx="76.69" cy="255.21" r="0.85" fill="#1e1e90"/>
<circle cx="73.99" cy="221.13" r="0.85" fill="#1e1e90"/>
<circle cx="78.41" cy="244.74" r="0.85" fill="#1e1e90"/>
<circle cx="73.51" cy="266.12" r="0.85" fill="#1e1e90"/>
<circle cx="77.26" cy="250.18" r="0.85" fill="#1e1e90"/>
<circle cx="73.9" cy="194.27" r="0.85" fill="#1e1e90"/>
<circle cx="74.5" cy="239.83" r="0.85" fill="#1e1e90"/>
<circle cx="71.77" cy="248.73" r="0.85" fill="#1e1e90"/>
<circle cx="76.39" cy="252.4" r="0.85" fill="#1e1e90"/>
<circle cx="74.59" cy="246.11" r="0.85" fill="#1e1e90"/>
<circle cx="73.66" cy="228.45" r="0.85" fill="#1e1e90"/>
<circle cx="70.22" cy="252.6" r="0.85" fill="#1e1e90"/>
<circle cx="77.69" cy="258.1" r="0.85" fill="#1e1e90"/>
<circle cx="73.9" cy="195" r="0.85" fill="#1e1e90"/>
<circle cx="73.88" cy="251.6" r="0.85" fill="#1e1e90"/>
<line x1="63.5" y1="246.2" x2="84" y2="246.2" stroke="#111" stroke-width="1.2" />
<path d="M109,185.6 L109.03,186.21 L109.05,187.05 L109.07,188.05 L109.1,189.15 L109.15,190.28 L109.23,191.37 L109.34,192.37 L109.5,193.2 L109.71,193.86 L109.98,194.43 L110.28,194.92 L110.61,195.36 L110.95,195.78 L111.28,196.21 L111.61,196.67 L111.9,197.2 L112.17,197.78 L112.43,198.37 L112.67,198.99 L112.92,199.62 L113.16,200.27 L113.4,200.93 L113.65,201.61 L113.9,202.3 L114.16,203.02 L114.42,203.78 L114.68,204.56 L114.95,205.36 L115.22,206.15 L115.48,206.93 L115.74,207.68 L116,208.4 L116.27,209.06 L116.54,209.68 L116.82,210.26 L117.1,210.84 L117.36,211.42 L117.61,212.03 L117.82,212.68 L118,213.4 L118.13,214.19 L118.23,215.03 L118.3,215.91 L118.34,216.82 L118.38,217.75 L118.41,218.68 L118.45,219.6 L118.5,220.5 L118.56,221.39 L118.63,222.3 L118.69,223.21 L118.76,224.11 L118.82,225.01 L118.88,225.9 L118.94,226.76 L119,227.6 L119.07,228.41 L119.15,229.19 L119.25,229.95 L119.33,230.7 L119.4,231.44 L119.44,232.18 L119.45,232.93 L119.4,233.7 L119.29,234.49 L119.12,235.29 L118.91,236.1 L118.68,236.91 L118.43,237.71 L118.19,238.5 L117.98,239.26 L117.8,240 L117.67,240.7 L117.57,241.38 L117.49,242.03 L117.42,242.67 L117.35,243.31 L117.27,243.93 L117.15,244.56 L117,245.2 L116.81,245.84 L116.6,246.46 L116.36,247.08 L116.11,247.7 L115.84,248.33 L115.56,248.96 L115.28,249.62 L115,250.3 L114.71,251.01 L114.39,251.73 L114.06,252.48 L113.73,253.24 L113.39,254 L113.07,254.77 L112.77,255.54 L112.5,256.3 L112.26,257.06 L112.03,257.82 L111.83,258.58 L111.63,259.34 L111.45,260.11 L111.26,260.87 L111.08,261.64 L110.9,262.4 L110.71,263.13 L110.51,263.81 L110.32,264.47 L110.13,265.14 L109.95,265.85 L109.78,266.62 L109.63,267.5 L109.5,268.5 L109.39,269.72 L109.3,271.18 L109.22,272.78 L109.16,274.43 L109.11,276.03 L109.07,277.49 L109.03,278.71 L109,279.6 L108.4,279.6 L108.37,278.71 L108.33,277.49 L108.29,276.03 L108.24,274.43 L108.18,272.78 L108.1,271.18 L108.01,269.72 L107.9,268.5 L107.77,267.5 L107.62,266.62 L107.45,265.85 L107.27,265.14 L107.08,264.47 L106.89,263.81 L106.69,263.13 L106.5,262.4 L106.32,261.64 L106.14,260.87 L105.95,260.11 L105.77,259.34 L105.57,258.58 L105.37,257.82 L105.14,257.06 L104.9,256.3 L104.63,255.54 L104.33,254.77 L104.01,254 L103.67,253.24 L103.34,252.48 L103.01,251.73 L102.69,251.01 L102.4,250.3 L102.12,249.62 L101.84,248.96 L101.56,248.33 L101.29,247.7 L101.04,247.08 L100.8,246.46 L100.59,245.84 L100.4,245.2 L100.25,244.56 L100.13,243.93 L100.05,243.31 L99.98,242.67 L99.91,242.03 L99.83,241.38 L99.73,240.7 L99.6,240 L99.42,239.26 L99.21,238.5 L98.97,237.71 L98.72,236.91 L98.49,236.1 L98.28,235.29 L98.11,234.49 L98,233.7 L97.95,232.93 L97.96,232.18 L98,231.44 L98.07,230.7 L98.15,229.95 L98.25,229.19 L98.33,228.41 L98.4,227.6 L98.46,226.76 L98.52,225.9 L98.58,225.01 L98.64,224.11 L98.71,223.21 L98.77,222.3 L98.84,221.39 L98.9,220.5 L98.95,219.6 L98.99,218.68 L99.02,217.75 L99.06,216.82 L99.1,215.91 L99.17,215.03 L99.27,214.19 L99.4,213.4 L99.58,212.68 L99.79,212.03 L100.04,211.42 L100.3,210.84 L100.58,210.26 L100.86,209.68 L101.13,209.06 L101.4,208.4 L101.66,207.68 L101.92,206.93 L102.18,206.15 L102.45,205.36 L102.72,204.56 L102.98,203.78 L103.24,203.02 L103.5,202.3 L103.75,201.61 L104,200.93 L104.24,200.27 L104.48,199.62 L104.73,198.99 L104.97,198.37 L105.23,197.78 L105.5,197.2 L105.79,196.67 L106.12,196.21 L106.45,195.78 L106.79,195.36 L107.12,194.92 L107.42,194.43 L107.69,193.86 L107.9,193.2 L108.06,192.37 L108.17,191.37 L108.25,190.28 L108.3,189.15 L108.33,188.05 L108.35,187.05 L108.37,186.21 L108.4,185.6 Z" fill="url(#hr)" stroke="#ff3c3c" stroke-width="1.9" stroke-linejoin="round" />
<circle cx="108.79" cy="214.23" r="0.8" fill="#a01818"/>
<circle cx="108.95" cy="222.68" r="0.8" fill="#a01818"/>
<circle cx="107.83" cy="239.05" r="0.8" fill="#a01818"/>
<circle cx="108.7" cy="199.84" r="0.8" fill="#a01818"/>
<circle cx="108.13" cy="215.6" r="0.8" fill="#a01818"/>
<circle cx="108.7" cy="262.72" r="0.8" fill="#a01818"/>
<circle cx="108.7" cy="252.53" r="0.8" fill="#a01818"/>
<circle cx="108.05" cy="239.9" r="0.8" fill="#a01818"/>
<circle cx="109.4" cy="239.63" r="0.8" fill="#a01818"/>
<circle cx="109.39" cy="232.48" r="0.8" fill="#a01818"/>
<circle cx="107.97" cy="241.97" r="0.8" fill="#a01818"/>
<circle cx="108.78" cy="247.53" r="0.8" fill="#a01818"/>
<circle cx="107.66" cy="218.28" r="0.8" fill="#a01818"/>
<circle cx="108.7" cy="254.39" r="0.8" fill="#a01818"/>
<circle cx="109.23" cy="245" r="0.8" fill="#a01818"/>
<circle cx="109.31" cy="244.7" r="0.8" fill="#a01818"/>
<circle cx="109.43" cy="224.28" r="0.8" fill="#a01818"/>
<circle cx="109.82" cy="227.46" r="0.8" fill="#a01818"/>
<circle cx="108.7" cy="255.25" r="0.8" fill="#a01818"/>
<circle cx="108.52" cy="207.7" r="0.8" fill="#a01818"/>
<circle cx="108.7" cy="260.79" r="0.8" fill="#a01818"/>
<circle cx="108.3" cy="239.11" r="0.8" fill="#a01818"/>
<circle cx="108.38" cy="231.46" r="0.8" fill="#a01818"/>
<circle cx="108.9" cy="221.46" r="0.8" fill="#a01818"/>
<circle cx="109.7" cy="236.39" r="0.8" fill="#a01818"/>
<circle cx="109.4" cy="242.65" r="0.8" fill="#a01818"/>
<circle cx="108.7" cy="253.81" r="0.8" fill="#a01818"/>
<circle cx="108.13" cy="241.96" r="0.8" fill="#a01818"/>
<circle cx="108.7" cy="254.08" r="0.8" fill="#a01818"/>
<circle cx="108.7" cy="256.9" r="0.8" fill="#a01818"/>
<line x1="98" y1="229.2" x2="119.5" y2="229.2" stroke="#111" stroke-width="1.2" />
<line x1="99" y1="217" x2="118" y2="217" stroke="#a03030" stroke-width="0.8" stroke-dasharray="1,1.5" />
<line x1="99" y1="245" x2="118" y2="245" stroke="#a03030" stroke-width="0.8" stroke-dasharray="1,1.5" />
<line x1="183.4" y1="182.4" x2="183.4" y2="286.2" stroke="#111" stroke-width="1.2" />
<line x1="179.1" y1="286.2" x2="183.4" y2="286.2" stroke="#111" stroke-width="1.2" />
<text x="177.4" y="288.86" font-size="7.4" font-weight="normal" text-anchor="end" fill="#1a1a1a"  stroke="#1a1a1a" stroke-width="0.25">0</text>
<line x1="179.1" y1="251.6" x2="183.4" y2="251.6" stroke="#111" stroke-width="1.2" />
<text x="177.4" y="254.26" font-size="7.4" font-weight="normal" text-anchor="end" fill="#1a1a1a"  stroke="#1a1a1a" stroke-width="0.25">30</text>
<line x1="179.1" y1="217" x2="183.4" y2="217" stroke="#111" stroke-width="1.2" />
<text x="177.4" y="219.66" font-size="7.4" font-weight="normal" text-anchor="end" fill="#1a1a1a"  stroke="#1a1a1a" stroke-width="0.25">60</text>
<line x1="179.1" y1="182.4" x2="183.4" y2="182.4" stroke="#111" stroke-width="1.2" />
<text x="177.4" y="185.06" font-size="7.4" font-weight="normal" text-anchor="end" fill="#1a1a1a"  stroke="#1a1a1a" stroke-width="0.25">90</text>
<line x1="183.4" y1="286.2" x2="277" y2="286.2" stroke="#111" stroke-width="1.2" />
<line x1="209.7" y1="286.2" x2="209.7" y2="289.5" stroke="#111" stroke-width="1.1" />
<line x1="249.4" y1="286.2" x2="249.4" y2="289.5" stroke="#111" stroke-width="1.1" />
<text x="209.7" y="300.24" font-size="9" font-weight="bold" text-anchor="middle" fill="#111"  stroke="#111" stroke-width="0.25">NC</text>
<text x="249.3" y="300.17" font-size="8.8" font-weight="bold" text-anchor="middle" fill="#111"  textLength="54.7" lengthAdjust="spacingAndGlyphs" stroke="#111" stroke-width="0.25">Hypertension</text>
<polyline points="209.9,192.1 209.9,174.2 249.3,174.2 249.3,179.7" stroke="#222" stroke-width="1.2" fill="none" />
<text x="229.7" y="169.2" font-size="8.6" font-weight="bold" text-anchor="middle" fill="#111"  textLength="26.3" lengthAdjust="spacingAndGlyphs" stroke="#111" stroke-width="0.25">0.0016</text>
<text x="0" y="0" font-size="10" font-weight="bold" fill="#111" text-anchor="middle" transform="translate(165.6 234.4) rotate(-90)">sGPNMB in plasma (ng/mL)</text>
<path d="M210.05,198.21 L210.05,198.93 L210.05,199.91 L210.04,201.08 L210.04,202.37 L210.04,203.73 L210.05,205.08 L210.06,206.36 L210.09,207.51 L210.12,208.56 L210.15,209.56 L210.19,210.54 L210.23,211.49 L210.29,212.43 L210.36,213.37 L210.45,214.31 L210.55,215.27 L210.68,216.25 L210.84,217.25 L211.01,218.25 L211.2,219.25 L211.39,220.23 L211.58,221.2 L211.77,222.13 L211.95,223.03 L212.12,223.89 L212.3,224.72 L212.49,225.54 L212.67,226.32 L212.84,227.09 L213,227.83 L213.15,228.54 L213.27,229.23 L213.34,229.89 L213.37,230.5 L213.38,231.09 L213.37,231.66 L213.38,232.21 L213.42,232.76 L213.5,233.32 L213.65,233.89 L213.88,234.46 L214.16,235.01 L214.48,235.56 L214.84,236.12 L215.22,236.68 L215.61,237.27 L216,237.88 L216.37,238.54 L216.76,239.25 L217.18,240.02 L217.62,240.82 L218.07,241.64 L218.49,242.46 L218.88,243.27 L219.21,244.03 L219.47,244.75 L219.66,245.4 L219.8,246.02 L219.9,246.6 L219.96,247.17 L219.98,247.72 L219.96,248.27 L219.92,248.83 L219.86,249.4 L219.73,249.98 L219.52,250.56 L219.25,251.15 L218.96,251.73 L218.69,252.31 L218.47,252.89 L218.33,253.47 L218.31,254.05 L218.45,254.64 L218.73,255.22 L219.1,255.8 L219.52,256.38 L219.93,256.96 L220.29,257.54 L220.54,258.13 L220.64,258.71 L220.58,259.29 L220.44,259.87 L220.21,260.45 L219.91,261.04 L219.56,261.62 L219.16,262.2 L218.74,262.78 L218.31,263.36 L217.82,263.94 L217.26,264.53 L216.65,265.11 L216.01,265.69 L215.36,266.27 L214.74,266.85 L214.16,267.43 L213.65,268.02 L213.21,268.59 L212.8,269.14 L212.41,269.69 L212.06,270.25 L211.74,270.81 L211.44,271.4 L211.18,272.01 L210.94,272.67 L210.73,273.41 L210.57,274.26 L210.43,275.16 L210.32,276.06 L210.24,276.93 L210.17,277.72 L210.11,278.39 L210.05,278.88 L209.55,278.88 L209.49,278.39 L209.43,277.72 L209.36,276.93 L209.28,276.06 L209.17,275.16 L209.03,274.26 L208.87,273.41 L208.66,272.67 L208.42,272.01 L208.16,271.4 L207.86,270.81 L207.54,270.25 L207.19,269.69 L206.8,269.14 L206.39,268.59 L205.95,268.02 L205.44,267.43 L204.86,266.85 L204.24,266.27 L203.59,265.69 L202.95,265.11 L202.34,264.53 L201.78,263.94 L201.29,263.36 L200.86,262.78 L200.44,262.2 L200.04,261.62 L199.69,261.04 L199.39,260.45 L199.16,259.87 L199.02,259.29 L198.96,258.71 L199.06,258.13 L199.31,257.54 L199.67,256.96 L200.08,256.38 L200.5,255.8 L200.87,255.22 L201.15,254.64 L201.29,254.05 L201.27,253.47 L201.13,252.89 L200.91,252.31 L200.64,251.73 L200.35,251.15 L200.08,250.56 L199.87,249.98 L199.74,249.4 L199.68,248.83 L199.64,248.27 L199.62,247.72 L199.64,247.17 L199.7,246.6 L199.8,246.02 L199.94,245.4 L200.13,244.75 L200.39,244.03 L200.72,243.27 L201.11,242.46 L201.53,241.64 L201.98,240.82 L202.42,240.02 L202.84,239.25 L203.23,238.54 L203.6,237.88 L203.99,237.27 L204.38,236.68 L204.76,236.12 L205.12,235.56 L205.44,235.01 L205.72,234.46 L205.95,233.89 L206.1,233.32 L206.18,232.76 L206.22,232.21 L206.23,231.66 L206.22,231.09 L206.23,230.5 L206.26,229.89 L206.33,229.23 L206.45,228.54 L206.6,227.83 L206.76,227.09 L206.93,226.32 L207.11,225.54 L207.3,224.72 L207.48,223.89 L207.65,223.03 L207.83,222.13 L208.02,221.2 L208.21,220.23 L208.4,219.25 L208.59,218.25 L208.76,217.25 L208.92,216.25 L209.05,215.27 L209.15,214.31 L209.24,213.37 L209.31,212.43 L209.37,211.49 L209.41,210.54 L209.45,209.56 L209.48,208.56 L209.51,207.51 L209.54,206.36 L209.55,205.08 L209.56,203.73 L209.56,202.37 L209.56,201.08 L209.55,199.91 L209.55,198.93 L209.55,198.21 Z" fill="url(#hb)" stroke="#4646ff" stroke-width="1.9" stroke-linejoin="round" />
<circle cx="206.38" cy="261.61" r="0.85" fill="#1e1e90"/>
<circle cx="208.7" cy="259.28" r="0.85" fill="#1e1e90"/>
<circle cx="212.54" cy="261.03" r="0.85" fill="#1e1e90"/>
<circle cx="206.95" cy="242.6" r="0.85" fill="#1e1e90"/>
<circle cx="206.9" cy="249.79" r="0.85" fill="#1e1e90"/>
<circle cx="212.43" cy="263.17" r="0.85" fill="#1e1e90"/>
<circle cx="209.8" cy="215.51" r="0.85" fill="#1e1e90"/>
<circle cx="213.15" cy="255.89" r="0.85" fill="#1e1e90"/>
<circle cx="209.8" cy="207.5" r="0.85" fill="#1e1e90"/>
<circle cx="207.75" cy="238.95" r="0.85" fill="#1e1e90"/>
<circle cx="209.8" cy="275.72" r="0.85" fill="#1e1e90"/>
<circle cx="208.99" cy="266.92" r="0.85" fill="#1e1e90"/>
<circle cx="213.41" cy="243.93" r="0.85" fill="#1e1e90"/>
<circle cx="209.24" cy="239.13" r="0.85" fill="#1e1e90"/>
<circle cx="207.84" cy="245.54" r="0.85" fill="#1e1e90"/>
<circle cx="209.8" cy="204.24" r="0.85" fill="#1e1e90"/>
<circle cx="209.82" cy="222.03" r="0.85" fill="#1e1e90"/>
<circle cx="208.42" cy="254.99" r="0.85" fill="#1e1e90"/>
<circle cx="209.8" cy="215.67" r="0.85" fill="#1e1e90"/>
<circle cx="208.35" cy="245.51" r="0.85" fill="#1e1e90"/>
<circle cx="209.88" cy="225.05" r="0.85" fill="#1e1e90"/>
<circle cx="209.8" cy="208.57" r="0.85" fill="#1e1e90"/>
<circle cx="212.41" cy="244.86" r="0.85" fill="#1e1e90"/>
<circle cx="209.8" cy="218.81" r="0.85" fill="#1e1e90"/>
<circle cx="211.85" cy="248.57" r="0.85" fill="#1e1e90"/>
<circle cx="209.8" cy="272.61" r="0.85" fill="#1e1e90"/>
<circle cx="209.8" cy="202.36" r="0.85" fill="#1e1e90"/>
<circle cx="208.8" cy="259.14" r="0.85" fill="#1e1e90"/>
<circle cx="213.11" cy="247.54" r="0.85" fill="#1e1e90"/>
<circle cx="207.15" cy="252.9" r="0.85" fill="#1e1e90"/>
<circle cx="214.89" cy="259.7" r="0.85" fill="#1e1e90"/>
<circle cx="204.69" cy="260.9" r="0.85" fill="#1e1e90"/>
<circle cx="208.5" cy="262.17" r="0.85" fill="#1e1e90"/>
<circle cx="209.47" cy="270.38" r="0.85" fill="#1e1e90"/>
<circle cx="209.06" cy="232.8" r="0.85" fill="#1e1e90"/>
<circle cx="211.78" cy="258.86" r="0.85" fill="#1e1e90"/>
<circle cx="205.88" cy="254.48" r="0.85" fill="#1e1e90"/>
<circle cx="206.44" cy="252.25" r="0.85" fill="#1e1e90"/>
<circle cx="211.01" cy="231.7" r="0.85" fill="#1e1e90"/>
<circle cx="205.76" cy="252.63" r="0.85" fill="#1e1e90"/>
<circle cx="207.94" cy="264.32" r="0.85" fill="#1e1e90"/>
<circle cx="209.79" cy="263.33" r="0.85" fill="#1e1e90"/>
<circle cx="207.12" cy="251.75" r="0.85" fill="#1e1e90"/>
<circle cx="213.64" cy="260.94" r="0.85" fill="#1e1e90"/>
<circle cx="214.96" cy="260.72" r="0.85" fill="#1e1e90"/>
<circle cx="211.24" cy="266.2" r="0.85" fill="#1e1e90"/>
<circle cx="207.45" cy="238.07" r="0.85" fill="#1e1e90"/>
<circle cx="212.87" cy="241.81" r="0.85" fill="#1e1e90"/>
<circle cx="209.66" cy="270.34" r="0.85" fill="#1e1e90"/>
<circle cx="211.28" cy="260.96" r="0.85" fill="#1e1e90"/>
<circle cx="210.95" cy="240.6" r="0.85" fill="#1e1e90"/>
<circle cx="209.94" cy="221.12" r="0.85" fill="#1e1e90"/>
<circle cx="209.8" cy="206.58" r="0.85" fill="#1e1e90"/>
<circle cx="205.45" cy="251.13" r="0.85" fill="#1e1e90"/>
<circle cx="209.8" cy="210.57" r="0.85" fill="#1e1e90"/>
<circle cx="209.8" cy="205.54" r="0.85" fill="#1e1e90"/>
<circle cx="212.1" cy="243.69" r="0.85" fill="#1e1e90"/>
<circle cx="209.8" cy="217.39" r="0.85" fill="#1e1e90"/>
<circle cx="209.8" cy="201.98" r="0.85" fill="#1e1e90"/>
<circle cx="213.96" cy="259.71" r="0.85" fill="#1e1e90"/>
<circle cx="210.75" cy="232.49" r="0.85" fill="#1e1e90"/>
<circle cx="213.86" cy="246.91" r="0.85" fill="#1e1e90"/>
<circle cx="209.92" cy="236.36" r="0.85" fill="#1e1e90"/>
<circle cx="205.76" cy="242.53" r="0.85" fill="#1e1e90"/>
<circle cx="210.03" cy="228.06" r="0.85" fill="#1e1e90"/>
<circle cx="208.64" cy="253.68" r="0.85" fill="#1e1e90"/>
<circle cx="206.28" cy="240.22" r="0.85" fill="#1e1e90"/>
<circle cx="206.2" cy="263.07" r="0.85" fill="#1e1e90"/>
<circle cx="208.94" cy="236.5" r="0.85" fill="#1e1e90"/>
<circle cx="209.74" cy="266.34" r="0.85" fill="#1e1e90"/>
<circle cx="209.8" cy="208.13" r="0.85" fill="#1e1e90"/>
<circle cx="209.84" cy="267.4" r="0.85" fill="#1e1e90"/>
<circle cx="206.98" cy="265.02" r="0.85" fill="#1e1e90"/>
<circle cx="209.8" cy="215.69" r="0.85" fill="#1e1e90"/>
<circle cx="210.56" cy="232.68" r="0.85" fill="#1e1e90"/>
<circle cx="211.3" cy="235.81" r="0.85" fill="#1e1e90"/>
<circle cx="208.06" cy="260.29" r="0.85" fill="#1e1e90"/>
<circle cx="213.22" cy="263.3" r="0.85" fill="#1e1e90"/>
<line x1="198.5" y1="249.4" x2="221" y2="249.4" stroke="#111" stroke-width="1.2" />
<path d="M249.95,186.38 L249.98,186.87 L250,187.54 L250.03,188.34 L250.06,189.22 L250.12,190.15 L250.21,191.07 L250.35,191.95 L250.54,192.75 L250.81,193.45 L251.15,194.1 L251.55,194.71 L251.98,195.31 L252.41,195.94 L252.81,196.61 L253.17,197.36 L253.45,198.21 L253.66,199.18 L253.83,200.24 L253.95,201.36 L254.05,202.54 L254.12,203.75 L254.2,204.96 L254.27,206.16 L254.36,207.32 L254.46,208.46 L254.55,209.6 L254.64,210.74 L254.72,211.88 L254.8,213.01 L254.89,214.15 L254.99,215.29 L255.09,216.43 L255.21,217.57 L255.32,218.71 L255.44,219.85 L255.57,220.98 L255.71,222.12 L255.85,223.26 L256.01,224.4 L256.19,225.54 L256.38,226.69 L256.58,227.86 L256.8,229.03 L257.02,230.2 L257.26,231.36 L257.5,232.5 L257.75,233.59 L258.01,234.64 L258.28,235.64 L258.58,236.59 L258.89,237.51 L259.2,238.4 L259.51,239.28 L259.8,240.15 L260.06,241.03 L260.28,241.93 L260.47,242.85 L260.64,243.79 L260.79,244.74 L260.91,245.69 L261.01,246.62 L261.1,247.52 L261.16,248.39 L261.2,249.22 L261.22,249.97 L261.23,250.67 L261.22,251.32 L261.2,251.95 L261.14,252.58 L261.05,253.23 L260.91,253.92 L260.74,254.68 L260.52,255.52 L260.26,256.42 L259.96,257.36 L259.63,258.32 L259.27,259.29 L258.87,260.23 L258.45,261.13 L258.01,261.97 L257.51,262.74 L256.95,263.46 L256.35,264.15 L255.73,264.81 L255.11,265.46 L254.51,266.11 L253.95,266.76 L253.45,267.43 L253.01,268.09 L252.6,268.71 L252.21,269.32 L251.85,269.94 L251.52,270.58 L251.22,271.27 L250.96,272.04 L250.72,272.9 L250.53,273.92 L250.37,275.13 L250.25,276.44 L250.16,277.79 L250.1,279.1 L250.04,280.28 L250,281.28 L249.95,282 L249.45,282 L249.4,281.28 L249.36,280.28 L249.3,279.1 L249.24,277.79 L249.15,276.44 L249.03,275.13 L248.87,273.92 L248.68,272.9 L248.44,272.04 L248.18,271.27 L247.88,270.58 L247.55,269.94 L247.19,269.32 L246.8,268.71 L246.39,268.09 L245.95,267.43 L245.45,266.76 L244.89,266.11 L244.29,265.46 L243.67,264.81 L243.05,264.15 L242.45,263.46 L241.89,262.74 L241.39,261.97 L240.95,261.13 L240.53,260.23 L240.13,259.29 L239.77,258.32 L239.44,257.36 L239.14,256.42 L238.88,255.52 L238.66,254.68 L238.49,253.92 L238.35,253.23 L238.26,252.58 L238.2,251.95 L238.18,251.32 L238.17,250.67 L238.18,249.97 L238.2,249.22 L238.24,248.39 L238.3,247.52 L238.39,246.62 L238.49,245.69 L238.61,244.74 L238.76,243.79 L238.93,242.85 L239.12,241.93 L239.34,241.03 L239.6,240.15 L239.89,239.28 L240.2,238.4 L240.51,237.51 L240.82,236.59 L241.12,235.64 L241.39,234.64 L241.65,233.59 L241.9,232.5 L242.14,231.36 L242.38,230.2 L242.6,229.03 L242.82,227.86 L243.02,226.69 L243.21,225.54 L243.39,224.4 L243.55,223.26 L243.69,222.12 L243.83,220.98 L243.96,219.85 L244.08,218.71 L244.19,217.57 L244.31,216.43 L244.41,215.29 L244.51,214.15 L244.6,213.01 L244.68,211.88 L244.76,210.74 L244.85,209.6 L244.94,208.46 L245.04,207.32 L245.13,206.16 L245.2,204.96 L245.28,203.75 L245.35,202.54 L245.45,201.36 L245.57,200.24 L245.74,199.18 L245.95,198.21 L246.23,197.36 L246.59,196.61 L246.99,195.94 L247.42,195.31 L247.85,194.71 L248.25,194.1 L248.59,193.45 L248.86,192.75 L249.05,191.95 L249.19,191.07 L249.28,190.15 L249.34,189.22 L249.37,188.34 L249.4,187.54 L249.42,186.87 L249.45,186.38 Z" fill="url(#hr)" stroke="#ff3c3c" stroke-width="1.9" stroke-linejoin="round" />
<circle cx="251.19" cy="245.23" r="0.8" fill="#a01818"/>
<circle cx="252.01" cy="257.46" r="0.8" fill="#a01818"/>
<circle cx="252.36" cy="253.53" r="0.8" fill="#a01818"/>
<circle cx="249.7" cy="203.06" r="0.8" fill="#a01818"/>
<circle cx="249.7" cy="267.98" r="0.8" fill="#a01818"/>
<circle cx="249.36" cy="264.96" r="0.8" fill="#a01818"/>
<circle cx="248.88" cy="234.3" r="0.8" fill="#a01818"/>
<circle cx="250.06" cy="239.61" r="0.8" fill="#a01818"/>
<circle cx="249.7" cy="201.93" r="0.8" fill="#a01818"/>
<circle cx="250.06" cy="220.84" r="0.8" fill="#a01818"/>
<circle cx="247.71" cy="255.37" r="0.8" fill="#a01818"/>
<circle cx="247.83" cy="257.6" r="0.8" fill="#a01818"/>
<circle cx="247.42" cy="244.84" r="0.8" fill="#a01818"/>
<circle cx="249.7" cy="201.13" r="0.8" fill="#a01818"/>
<circle cx="249.6" cy="215.87" r="0.8" fill="#a01818"/>
<circle cx="249.7" cy="270.75" r="0.8" fill="#a01818"/>
<circle cx="250.13" cy="221.54" r="0.8" fill="#a01818"/>
<circle cx="250.56" cy="239.28" r="0.8" fill="#a01818"/>
<circle cx="249.84" cy="215.54" r="0.8" fill="#a01818"/>
<circle cx="252.74" cy="250.04" r="0.8" fill="#a01818"/>
<circle cx="249.43" cy="264.46" r="0.8" fill="#a01818"/>
<circle cx="249.14" cy="226.64" r="0.8" fill="#a01818"/>
<circle cx="249.7" cy="211.34" r="0.8" fill="#a01818"/>
<circle cx="249.81" cy="222.4" r="0.8" fill="#a01818"/>
<circle cx="249.7" cy="201.24" r="0.8" fill="#a01818"/>
<circle cx="249.43" cy="224.99" r="0.8" fill="#a01818"/>
<circle cx="249.61" cy="259.11" r="0.8" fill="#a01818"/>
<circle cx="249.68" cy="223.42" r="0.8" fill="#a01818"/>
<circle cx="246.81" cy="251.03" r="0.8" fill="#a01818"/>
<circle cx="249.7" cy="270.23" r="0.8" fill="#a01818"/>
<circle cx="251.82" cy="254.24" r="0.8" fill="#a01818"/>
<circle cx="249.7" cy="202.28" r="0.8" fill="#a01818"/>
<circle cx="249.84" cy="227" r="0.8" fill="#a01818"/>
<circle cx="249.7" cy="201.64" r="0.8" fill="#a01818"/>
<circle cx="249.78" cy="213.85" r="0.8" fill="#a01818"/>
<circle cx="249.77" cy="214.95" r="0.8" fill="#a01818"/>
<circle cx="249.7" cy="267.01" r="0.8" fill="#a01818"/>
<circle cx="249.49" cy="225.45" r="0.8" fill="#a01818"/>
<circle cx="250.93" cy="238.25" r="0.8" fill="#a01818"/>
<circle cx="249.7" cy="208.67" r="0.8" fill="#a01818"/>
<circle cx="251.56" cy="257.6" r="0.8" fill="#a01818"/>
<circle cx="249.7" cy="203.6" r="0.8" fill="#a01818"/>
<circle cx="249.7" cy="207.47" r="0.8" fill="#a01818"/>
<circle cx="252.22" cy="244.37" r="0.8" fill="#a01818"/>
<circle cx="250.3" cy="225.14" r="0.8" fill="#a01818"/>
<line x1="238" y1="242.3" x2="261.5" y2="242.3" stroke="#111" stroke-width="1.2" />
<line x1="239" y1="254.3" x2="260.5" y2="254.3" stroke="#a03030" stroke-width="0.8" stroke-dasharray="1,1.5" />
<line x1="242" y1="223.7" x2="257.5" y2="223.7" stroke="#a03030" stroke-width="0.8" stroke-dasharray="1,1.5" />
<text x="89.6" y="320.43" font-size="10.35" font-weight="bold" text-anchor="middle" fill="#111"  stroke="#111" stroke-width="0.25">Lipid-lowering therapy</text>
<line x1="54.4" y1="336.2" x2="54.4" y2="443.3" stroke="#111" stroke-width="1.2" />
<line x1="50.1" y1="443.3" x2="54.4" y2="443.3" stroke="#111" stroke-width="1.2" />
<text x="48.4" y="445.96" font-size="7.4" font-weight="bold" text-anchor="end" fill="#1a1a1a"  stroke="#1a1a1a" stroke-width="0.25">0</text>
<line x1="50.1" y1="421.88" x2="54.4" y2="421.88" stroke="#111" stroke-width="1.2" />
<text x="48.4" y="424.54" font-size="7.4" font-weight="bold" text-anchor="end" fill="#1a1a1a"  stroke="#1a1a1a" stroke-width="0.25">20</text>
<line x1="50.1" y1="400.46" x2="54.4" y2="400.46" stroke="#111" stroke-width="1.2" />
<text x="48.4" y="403.12" font-size="7.4" font-weight="bold" text-anchor="end" fill="#1a1a1a"  stroke="#1a1a1a" stroke-width="0.25">40</text>
<line x1="50.1" y1="379.04" x2="54.4" y2="379.04" stroke="#111" stroke-width="1.2" />
<text x="48.4" y="381.7" font-size="7.4" font-weight="bold" text-anchor="end" fill="#1a1a1a"  stroke="#1a1a1a" stroke-width="0.25">60</text>
<line x1="50.1" y1="357.62" x2="54.4" y2="357.62" stroke="#111" stroke-width="1.2" />
<text x="48.4" y="360.28" font-size="7.4" font-weight="bold" text-anchor="end" fill="#1a1a1a"  stroke="#1a1a1a" stroke-width="0.25">80</text>
<line x1="50.1" y1="336.2" x2="54.4" y2="336.2" stroke="#111" stroke-width="1.2" />
<text x="48.4" y="338.86" font-size="7.4" font-weight="bold" text-anchor="end" fill="#1a1a1a"  stroke="#1a1a1a" stroke-width="0.25">100</text>
<line x1="54.4" y1="443.3" x2="139" y2="443.3" stroke="#111" stroke-width="1.2" />
<line x1="78.8" y1="443.3" x2="78.8" y2="446.6" stroke="#111" stroke-width="1.1" />
<line x1="115" y1="443.3" x2="115" y2="446.6" stroke="#111" stroke-width="1.1" />
<text x="78.7" y="459.04" font-size="10.4" font-weight="bold" text-anchor="middle" fill="#111"  stroke="#111" stroke-width="0.25">Without</text>
<text x="114.6" y="459.04" font-size="10.4" font-weight="bold" text-anchor="middle" fill="#111"  stroke="#111" stroke-width="0.25">With</text>
<polyline points="78.8,347.2 78.8,339.3 115.4,339.3 115.4,345.4" stroke="#222" stroke-width="1.2" fill="none" />
<text x="96.9" y="334.2" font-size="8.6" font-weight="bold" text-anchor="middle" fill="#111"  textLength="26" lengthAdjust="spacingAndGlyphs" stroke="#111" stroke-width="0.25">0.0403</text>
<text x="0" y="0" font-size="8.8" font-weight="bold" fill="#111" text-anchor="middle" transform="translate(31.17 389) rotate(-90)">sGPNMB in plasma (ng/mL)</text>
<path d="M78.95,353.67 L78.95,354.49 L78.96,355.61 L78.96,356.95 L78.96,358.42 L78.97,359.96 L78.98,361.48 L79,362.92 L79.03,364.19 L79.07,365.32 L79.11,366.38 L79.15,367.4 L79.2,368.39 L79.26,369.35 L79.33,370.32 L79.42,371.29 L79.52,372.28 L79.64,373.3 L79.78,374.31 L79.93,375.32 L80.1,376.33 L80.28,377.34 L80.45,378.35 L80.63,379.37 L80.81,380.38 L80.99,381.39 L81.17,382.4 L81.36,383.41 L81.55,384.43 L81.74,385.44 L81.94,386.45 L82.14,387.46 L82.35,388.47 L82.57,389.48 L82.78,390.5 L83,391.51 L83.23,392.52 L83.46,393.53 L83.7,394.54 L83.95,395.56 L84.21,396.57 L84.49,397.59 L84.8,398.63 L85.11,399.67 L85.43,400.72 L85.75,401.74 L86.07,402.75 L86.37,403.73 L86.64,404.66 L86.9,405.55 L87.14,406.39 L87.36,407.21 L87.58,408 L87.8,408.78 L88,409.56 L88.21,410.34 L88.42,411.14 L88.66,411.96 L88.93,412.79 L89.22,413.64 L89.5,414.48 L89.74,415.3 L89.93,416.11 L90.03,416.88 L90.04,417.61 L89.95,418.3 L89.78,418.94 L89.53,419.55 L89.23,420.14 L88.88,420.72 L88.49,421.29 L88.06,421.87 L87.61,422.47 L87.11,423.08 L86.53,423.68 L85.9,424.29 L85.24,424.9 L84.57,425.51 L83.91,426.11 L83.3,426.72 L82.76,427.33 L82.26,427.92 L81.77,428.48 L81.31,429.04 L80.87,429.6 L80.47,430.18 L80.1,430.8 L79.78,431.46 L79.52,432.18 L79.32,433.03 L79.18,434 L79.09,435.06 L79.03,436.13 L79,437.16 L78.99,438.1 L78.98,438.89 L78.95,439.47 L78.45,439.47 L78.42,438.89 L78.41,438.1 L78.4,437.16 L78.37,436.13 L78.31,435.06 L78.22,434 L78.08,433.03 L77.88,432.18 L77.62,431.46 L77.3,430.8 L76.93,430.18 L76.53,429.6 L76.09,429.04 L75.63,428.48 L75.14,427.92 L74.64,427.33 L74.1,426.72 L73.49,426.11 L72.83,425.51 L72.16,424.9 L71.5,424.29 L70.87,423.68 L70.29,423.08 L69.79,422.47 L69.34,421.87 L68.91,421.29 L68.52,420.72 L68.17,420.14 L67.87,419.55 L67.62,418.94 L67.45,418.3 L67.36,417.61 L67.37,416.88 L67.47,416.11 L67.66,415.3 L67.9,414.48 L68.18,413.64 L68.47,412.79 L68.74,411.96 L68.98,411.14 L69.19,410.34 L69.4,409.56 L69.6,408.78 L69.82,408 L70.04,407.21 L70.26,406.39 L70.5,405.55 L70.76,404.66 L71.03,403.73 L71.33,402.75 L71.65,401.74 L71.97,400.72 L72.29,399.67 L72.6,398.63 L72.91,397.59 L73.19,396.57 L73.45,395.56 L73.7,394.54 L73.94,393.53 L74.17,392.52 L74.4,391.51 L74.62,390.5 L74.83,389.48 L75.05,388.47 L75.26,387.46 L75.46,386.45 L75.66,385.44 L75.85,384.43 L76.04,383.41 L76.23,382.4 L76.41,381.39 L76.59,380.38 L76.77,379.37 L76.95,378.35 L77.12,377.34 L77.3,376.33 L77.47,375.32 L77.62,374.31 L77.76,373.3 L77.88,372.28 L77.98,371.29 L78.07,370.32 L78.14,369.35 L78.2,368.39 L78.25,367.4 L78.29,366.38 L78.33,365.32 L78.37,364.19 L78.4,362.92 L78.42,361.48 L78.43,359.96 L78.44,358.42 L78.44,356.95 L78.44,355.61 L78.45,354.49 L78.45,353.67 Z" fill="#9a9afc" stroke="#4646ff" stroke-width="1.8" stroke-linejoin="round" />
<rect x="77.5" y="403.71" width="1.9" height="1.9" fill="#1a1a80" stroke="none" stroke-width="0" />
<rect x="79.36" y="392.58" width="1.9" height="1.9" fill="#1a1a80" stroke="none" stroke-width="0" />
<rect x="77.8" y="399.87" width="1.9" height="1.9" fill="#1a1a80" stroke="none" stroke-width="0" />
<rect x="78.41" y="424.53" width="1.9" height="1.9" fill="#1a1a80" stroke="none" stroke-width="0" />
<rect x="82.49" y="411.32" width="1.9" height="1.9" fill="#1a1a80" stroke="none" stroke-width="0" />
<rect x="85.83" y="411.5" width="1.9" height="1.9" fill="#1a1a80" stroke="none" stroke-width="0" />
<rect x="78.84" y="423.8" width="1.9" height="1.9" fill="#1a1a80" stroke="none" stroke-width="0" />
<rect x="74.59" y="415.14" width="1.9" height="1.9" fill="#1a1a80" stroke="none" stroke-width="0" />
<rect x="85.4" y="414.03" width="1.9" height="1.9" fill="#1a1a80" stroke="none" stroke-width="0" />
<rect x="78.39" y="404.46" width="1.9" height="1.9" fill="#1a1a80" stroke="none" stroke-width="0" />
<rect x="72.7" y="402.09" width="1.9" height="1.9" fill="#1a1a80" stroke="none" stroke-width="0" />
<rect x="78.03" y="381.55" width="1.9" height="1.9" fill="#1a1a80" stroke="none" stroke-width="0" />
<rect x="85.49" y="411.91" width="1.9" height="1.9" fill="#1a1a80" stroke="none" stroke-width="0" />
<rect x="82.65" y="415.87" width="1.9" height="1.9" fill="#1a1a80" stroke="none" stroke-width="0" />
<rect x="77.38" y="410.14" width="1.9" height="1.9" fill="#1a1a80" stroke="none" stroke-width="0" />
<rect x="77.83" y="379.32" width="1.9" height="1.9" fill="#1a1a80" stroke="none" stroke-width="0" />
<rect x="76.97" y="393.08" width="1.9" height="1.9" fill="#1a1a80" stroke="none" stroke-width="0" />
<rect x="76.38" y="403.95" width="1.9" height="1.9" fill="#1a1a80" stroke="none" stroke-width="0" />
<rect x="75.36" y="391.57" width="1.9" height="1.9" fill="#1a1a80" stroke="none" stroke-width="0" />
<rect x="77.71" y="402.29" width="1.9" height="1.9" fill="#1a1a80" stroke="none" stroke-width="0" />
<rect x="77.75" y="367.94" width="1.9" height="1.9" fill="#1a1a80" stroke="none" stroke-width="0" />
<rect x="77.82" y="380.7" width="1.9" height="1.9" fill="#1a1a80" stroke="none" stroke-width="0" />
<rect x="73.64" y="404.71" width="1.9" height="1.9" fill="#1a1a80" stroke="none" stroke-width="0" />
<rect x="83.11" y="404.89" width="1.9" height="1.9" fill="#1a1a80" stroke="none" stroke-width="0" />
<rect x="73.63" y="401.24" width="1.9" height="1.9" fill="#1a1a80" stroke="none" stroke-width="0" />
<rect x="81.56" y="404.18" width="1.9" height="1.9" fill="#1a1a80" stroke="none" stroke-width="0" />
<rect x="78.61" y="390.79" width="1.9" height="1.9" fill="#1a1a80" stroke="none" stroke-width="0" />
<rect x="80.51" y="425.36" width="1.9" height="1.9" fill="#1a1a80" stroke="none" stroke-width="0" />
<rect x="83.35" y="408.61" width="1.9" height="1.9" fill="#1a1a80" stroke="none" stroke-width="0" />
<rect x="82.19" y="403.56" width="1.9" height="1.9" fill="#1a1a80" stroke="none" stroke-width="0" />
<rect x="70.1" y="418.48" width="1.9" height="1.9" fill="#1a1a80" stroke="none" stroke-width="0" />
<rect x="77.44" y="417.13" width="1.9" height="1.9" fill="#1a1a80" stroke="none" stroke-width="0" />
<rect x="77.75" y="369.49" width="1.9" height="1.9" fill="#1a1a80" stroke="none" stroke-width="0" />
<rect x="72.67" y="403.56" width="1.9" height="1.9" fill="#1a1a80" stroke="none" stroke-width="0" />
<rect x="85.12" y="415.2" width="1.9" height="1.9" fill="#1a1a80" stroke="none" stroke-width="0" />
<rect x="77.36" y="415.28" width="1.9" height="1.9" fill="#1a1a80" stroke="none" stroke-width="0" />
<rect x="78.22" y="427.58" width="1.9" height="1.9" fill="#1a1a80" stroke="none" stroke-width="0" />
<rect x="73.85" y="406.68" width="1.9" height="1.9" fill="#1a1a80" stroke="none" stroke-width="0" />
<rect x="84.51" y="418.53" width="1.9" height="1.9" fill="#1a1a80" stroke="none" stroke-width="0" />
<rect x="78.26" y="394.17" width="1.9" height="1.9" fill="#1a1a80" stroke="none" stroke-width="0" />
<rect x="77.85" y="386.38" width="1.9" height="1.9" fill="#1a1a80" stroke="none" stroke-width="0" />
<rect x="80.73" y="411.28" width="1.9" height="1.9" fill="#1a1a80" stroke="none" stroke-width="0" />
<rect x="77.75" y="367.6" width="1.9" height="1.9" fill="#1a1a80" stroke="none" stroke-width="0" />
<rect x="78.81" y="422.26" width="1.9" height="1.9" fill="#1a1a80" stroke="none" stroke-width="0" />
<rect x="76.35" y="409.06" width="1.9" height="1.9" fill="#1a1a80" stroke="none" stroke-width="0" />
<rect x="75.88" y="425.82" width="1.9" height="1.9" fill="#1a1a80" stroke="none" stroke-width="0" />
<rect x="76.81" y="413.68" width="1.9" height="1.9" fill="#1a1a80" stroke="none" stroke-width="0" />
<rect x="84.04" y="412.81" width="1.9" height="1.9" fill="#1a1a80" stroke="none" stroke-width="0" />
<rect x="77.75" y="374.4" width="1.9" height="1.9" fill="#1a1a80" stroke="none" stroke-width="0" />
<rect x="74.29" y="401.2" width="1.9" height="1.9" fill="#1a1a80" stroke="none" stroke-width="0" />
<rect x="75.77" y="411.43" width="1.9" height="1.9" fill="#1a1a80" stroke="none" stroke-width="0" />
<rect x="72.73" y="402.35" width="1.9" height="1.9" fill="#1a1a80" stroke="none" stroke-width="0" />
<rect x="80.37" y="423.73" width="1.9" height="1.9" fill="#1a1a80" stroke="none" stroke-width="0" />
<rect x="77.75" y="366.57" width="1.9" height="1.9" fill="#1a1a80" stroke="none" stroke-width="0" />
<rect x="81.23" y="411.81" width="1.9" height="1.9" fill="#1a1a80" stroke="none" stroke-width="0" />
<rect x="79.93" y="402.39" width="1.9" height="1.9" fill="#1a1a80" stroke="none" stroke-width="0" />
<rect x="76.24" y="424.46" width="1.9" height="1.9" fill="#1a1a80" stroke="none" stroke-width="0" />
<rect x="77.76" y="385.52" width="1.9" height="1.9" fill="#1a1a80" stroke="none" stroke-width="0" />
<rect x="85.92" y="414.67" width="1.9" height="1.9" fill="#1a1a80" stroke="none" stroke-width="0" />
<rect x="79.66" y="397.63" width="1.9" height="1.9" fill="#1a1a80" stroke="none" stroke-width="0" />
<rect x="78.33" y="386.52" width="1.9" height="1.9" fill="#1a1a80" stroke="none" stroke-width="0" />
<rect x="78.38" y="401.15" width="1.9" height="1.9" fill="#1a1a80" stroke="none" stroke-width="0" />
<rect x="77.12" y="426.24" width="1.9" height="1.9" fill="#1a1a80" stroke="none" stroke-width="0" />
<rect x="77.75" y="375.76" width="1.9" height="1.9" fill="#1a1a80" stroke="none" stroke-width="0" />
<rect x="83.62" y="415.9" width="1.9" height="1.9" fill="#1a1a80" stroke="none" stroke-width="0" />
<rect x="78.6" y="395.62" width="1.9" height="1.9" fill="#1a1a80" stroke="none" stroke-width="0" />
<rect x="80.3" y="413.56" width="1.9" height="1.9" fill="#1a1a80" stroke="none" stroke-width="0" />
<rect x="76.97" y="397.23" width="1.9" height="1.9" fill="#1a1a80" stroke="none" stroke-width="0" />
<rect x="70.94" y="409.53" width="1.9" height="1.9" fill="#1a1a80" stroke="none" stroke-width="0" />
<rect x="82.89" y="411.45" width="1.9" height="1.9" fill="#1a1a80" stroke="none" stroke-width="0" />
<rect x="75.82" y="396.15" width="1.9" height="1.9" fill="#1a1a80" stroke="none" stroke-width="0" />
<rect x="77.75" y="432.9" width="1.9" height="1.9" fill="#1a1a80" stroke="none" stroke-width="0" />
<rect x="77.75" y="429.62" width="1.9" height="1.9" fill="#1a1a80" stroke="none" stroke-width="0" />
<rect x="79.26" y="388.83" width="1.9" height="1.9" fill="#1a1a80" stroke="none" stroke-width="0" />
<rect x="81.36" y="407.42" width="1.9" height="1.9" fill="#1a1a80" stroke="none" stroke-width="0" />
<rect x="80.07" y="422.74" width="1.9" height="1.9" fill="#1a1a80" stroke="none" stroke-width="0" />
<rect x="78.26" y="382.24" width="1.9" height="1.9" fill="#1a1a80" stroke="none" stroke-width="0" />
<rect x="79.67" y="412.18" width="1.9" height="1.9" fill="#1a1a80" stroke="none" stroke-width="0" />
<rect x="77.75" y="429.65" width="1.9" height="1.9" fill="#1a1a80" stroke="none" stroke-width="0" />
<rect x="76.29" y="406.41" width="1.9" height="1.9" fill="#1a1a80" stroke="none" stroke-width="0" />
<rect x="78.42" y="422.23" width="1.9" height="1.9" fill="#1a1a80" stroke="none" stroke-width="0" />
<rect x="80.1" y="400.16" width="1.9" height="1.9" fill="#1a1a80" stroke="none" stroke-width="0" />
<rect x="77.75" y="432.06" width="1.9" height="1.9" fill="#1a1a80" stroke="none" stroke-width="0" />
<rect x="79.54" y="405.09" width="1.9" height="1.9" fill="#1a1a80" stroke="none" stroke-width="0" />
<rect x="78.48" y="383.27" width="1.9" height="1.9" fill="#1a1a80" stroke="none" stroke-width="0" />
<rect x="72.37" y="410.33" width="1.9" height="1.9" fill="#1a1a80" stroke="none" stroke-width="0" />
<rect x="77.77" y="379.24" width="1.9" height="1.9" fill="#1a1a80" stroke="none" stroke-width="0" />
<rect x="77.41" y="425.68" width="1.9" height="1.9" fill="#1a1a80" stroke="none" stroke-width="0" />
<rect x="77.06" y="384.57" width="1.9" height="1.9" fill="#1a1a80" stroke="none" stroke-width="0" />
<rect x="74.83" y="405.34" width="1.9" height="1.9" fill="#1a1a80" stroke="none" stroke-width="0" />
<rect x="83.4" y="414.64" width="1.9" height="1.9" fill="#1a1a80" stroke="none" stroke-width="0" />
<rect x="69.6" y="412.55" width="1.9" height="1.9" fill="#1a1a80" stroke="none" stroke-width="0" />
<rect x="70.64" y="410.15" width="1.9" height="1.9" fill="#1a1a80" stroke="none" stroke-width="0" />
<rect x="73.4" y="412.28" width="1.9" height="1.9" fill="#1a1a80" stroke="none" stroke-width="0" />
<rect x="75.33" y="405.05" width="1.9" height="1.9" fill="#1a1a80" stroke="none" stroke-width="0" />
<rect x="83.66" y="409.33" width="1.9" height="1.9" fill="#1a1a80" stroke="none" stroke-width="0" />
<rect x="78.48" y="427.46" width="1.9" height="1.9" fill="#1a1a80" stroke="none" stroke-width="0" />
<rect x="77.75" y="429.65" width="1.9" height="1.9" fill="#1a1a80" stroke="none" stroke-width="0" />
<rect x="75.68" y="396.51" width="1.9" height="1.9" fill="#1a1a80" stroke="none" stroke-width="0" />
<rect x="83.49" y="421.72" width="1.9" height="1.9" fill="#1a1a80" stroke="none" stroke-width="0" />
<rect x="77.75" y="367.21" width="1.9" height="1.9" fill="#1a1a80" stroke="none" stroke-width="0" />
<rect x="83.46" y="421.21" width="1.9" height="1.9" fill="#1a1a80" stroke="none" stroke-width="0" />
<rect x="71.93" y="416.16" width="1.9" height="1.9" fill="#1a1a80" stroke="none" stroke-width="0" />
<rect x="79.87" y="418.67" width="1.9" height="1.9" fill="#1a1a80" stroke="none" stroke-width="0" />
<rect x="79.54" y="393.51" width="1.9" height="1.9" fill="#1a1a80" stroke="none" stroke-width="0" />
<rect x="74.71" y="409.43" width="1.9" height="1.9" fill="#1a1a80" stroke="none" stroke-width="0" />
<rect x="74.66" y="424.8" width="1.9" height="1.9" fill="#1a1a80" stroke="none" stroke-width="0" />
<rect x="77.85" y="424.02" width="1.9" height="1.9" fill="#1a1a80" stroke="none" stroke-width="0" />
<rect x="77.75" y="378.58" width="1.9" height="1.9" fill="#1a1a80" stroke="none" stroke-width="0" />
<rect x="78.31" y="426.97" width="1.9" height="1.9" fill="#1a1a80" stroke="none" stroke-width="0" />
<rect x="77.75" y="376.49" width="1.9" height="1.9" fill="#1a1a80" stroke="none" stroke-width="0" />
<rect x="76.78" y="401.59" width="1.9" height="1.9" fill="#1a1a80" stroke="none" stroke-width="0" />
<rect x="78.19" y="414.09" width="1.9" height="1.9" fill="#1a1a80" stroke="none" stroke-width="0" />
<rect x="83.74" y="414.84" width="1.9" height="1.9" fill="#1a1a80" stroke="none" stroke-width="0" />
<rect x="78.06" y="423.68" width="1.9" height="1.9" fill="#1a1a80" stroke="none" stroke-width="0" />
<rect x="77.75" y="377.54" width="1.9" height="1.9" fill="#1a1a80" stroke="none" stroke-width="0" />
<rect x="71.64" y="414.33" width="1.9" height="1.9" fill="#1a1a80" stroke="none" stroke-width="0" />
<rect x="84.63" y="419.29" width="1.9" height="1.9" fill="#1a1a80" stroke="none" stroke-width="0" />
<rect x="77.91" y="380.39" width="1.9" height="1.9" fill="#1a1a80" stroke="none" stroke-width="0" />
<rect x="81.99" y="401.24" width="1.9" height="1.9" fill="#1a1a80" stroke="none" stroke-width="0" />
<rect x="80.03" y="391.8" width="1.9" height="1.9" fill="#1a1a80" stroke="none" stroke-width="0" />
<rect x="69.05" y="418.45" width="1.9" height="1.9" fill="#1a1a80" stroke="none" stroke-width="0" />
<rect x="79.68" y="396.58" width="1.9" height="1.9" fill="#1a1a80" stroke="none" stroke-width="0" />
<rect x="77.75" y="376.71" width="1.9" height="1.9" fill="#1a1a80" stroke="none" stroke-width="0" />
<rect x="81.07" y="398.52" width="1.9" height="1.9" fill="#1a1a80" stroke="none" stroke-width="0" />
<rect x="77.76" y="428.86" width="1.9" height="1.9" fill="#1a1a80" stroke="none" stroke-width="0" />
<rect x="76.61" y="424.31" width="1.9" height="1.9" fill="#1a1a80" stroke="none" stroke-width="0" />
<rect x="76.26" y="410.83" width="1.9" height="1.9" fill="#1a1a80" stroke="none" stroke-width="0" />
<rect x="77.37" y="386.13" width="1.9" height="1.9" fill="#1a1a80" stroke="none" stroke-width="0" />
<rect x="71.87" y="404.68" width="1.9" height="1.9" fill="#1a1a80" stroke="none" stroke-width="0" />
<rect x="80.13" y="408.22" width="1.9" height="1.9" fill="#1a1a80" stroke="none" stroke-width="0" />
<rect x="71.83" y="409.49" width="1.9" height="1.9" fill="#1a1a80" stroke="none" stroke-width="0" />
<rect x="81.69" y="400.57" width="1.9" height="1.9" fill="#1a1a80" stroke="none" stroke-width="0" />
<rect x="76.4" y="418.48" width="1.9" height="1.9" fill="#1a1a80" stroke="none" stroke-width="0" />
<rect x="82.43" y="416.93" width="1.9" height="1.9" fill="#1a1a80" stroke="none" stroke-width="0" />
<path d="M115.55,352.05 L115.58,352.74 L115.62,353.67 L115.66,354.77 L115.71,355.99 L115.77,357.28 L115.86,358.57 L115.97,359.82 L116.12,360.95 L116.31,362.01 L116.56,363.07 L116.84,364.12 L117.14,365.15 L117.44,366.16 L117.72,367.15 L117.96,368.12 L118.14,369.05 L118.28,369.94 L118.38,370.82 L118.46,371.66 L118.51,372.49 L118.54,373.28 L118.56,374.05 L118.56,374.8 L118.55,375.52 L118.5,376.19 L118.4,376.81 L118.27,377.39 L118.13,377.95 L118.01,378.51 L117.91,379.09 L117.87,379.7 L117.9,380.38 L118.01,381.1 L118.17,381.85 L118.37,382.62 L118.61,383.41 L118.88,384.24 L119.17,385.08 L119.47,385.96 L119.76,386.85 L120.07,387.8 L120.42,388.8 L120.79,389.84 L121.17,390.9 L121.55,391.96 L121.92,393 L122.27,394 L122.59,394.95 L122.89,395.85 L123.17,396.72 L123.43,397.57 L123.68,398.39 L123.92,399.19 L124.16,399.96 L124.39,400.7 L124.62,401.42 L124.86,402.1 L125.13,402.71 L125.4,403.29 L125.66,403.85 L125.88,404.41 L126.07,404.99 L126.19,405.61 L126.24,406.28 L126.2,407.01 L126.09,407.79 L125.92,408.59 L125.71,409.42 L125.46,410.26 L125.18,411.1 L124.9,411.94 L124.62,412.76 L124.33,413.57 L124.02,414.38 L123.7,415.18 L123.35,415.99 L122.99,416.8 L122.61,417.61 L122.21,418.42 L121.79,419.23 L121.32,420.04 L120.81,420.85 L120.27,421.66 L119.72,422.47 L119.17,423.28 L118.64,424.09 L118.16,424.9 L117.74,425.71 L117.37,426.52 L117.03,427.33 L116.72,428.14 L116.44,428.95 L116.19,429.75 L115.97,430.56 L115.79,431.37 L115.63,432.18 L115.53,433.04 L115.47,433.95 L115.45,434.9 L115.46,435.83 L115.49,436.7 L115.52,437.5 L115.54,438.16 L115.55,438.66 L115.05,438.66 L115.06,438.16 L115.08,437.5 L115.11,436.7 L115.14,435.83 L115.15,434.9 L115.13,433.95 L115.07,433.04 L114.97,432.18 L114.81,431.37 L114.63,430.56 L114.41,429.75 L114.16,428.95 L113.88,428.14 L113.57,427.33 L113.23,426.52 L112.86,425.71 L112.44,424.9 L111.96,424.09 L111.43,423.28 L110.88,422.47 L110.33,421.66 L109.79,420.85 L109.28,420.04 L108.81,419.23 L108.39,418.42 L107.99,417.61 L107.61,416.8 L107.25,415.99 L106.9,415.18 L106.58,414.38 L106.27,413.57 L105.98,412.76 L105.7,411.94 L105.42,411.1 L105.14,410.26 L104.89,409.42 L104.68,408.59 L104.51,407.79 L104.4,407.01 L104.36,406.28 L104.41,405.61 L104.53,404.99 L104.72,404.41 L104.94,403.85 L105.2,403.29 L105.47,402.71 L105.74,402.1 L105.98,401.42 L106.21,400.7 L106.44,399.96 L106.68,399.19 L106.92,398.39 L107.17,397.57 L107.43,396.72 L107.71,395.85 L108.01,394.95 L108.33,394 L108.68,393 L109.05,391.96 L109.43,390.9 L109.81,389.84 L110.18,388.8 L110.53,387.8 L110.84,386.85 L111.13,385.96 L111.43,385.08 L111.72,384.24 L111.99,383.41 L112.23,382.62 L112.43,381.85 L112.59,381.1 L112.7,380.38 L112.73,379.7 L112.69,379.09 L112.59,378.51 L112.47,377.95 L112.33,377.39 L112.2,376.81 L112.1,376.19 L112.05,375.52 L112.04,374.8 L112.04,374.05 L112.06,373.28 L112.09,372.49 L112.14,371.66 L112.22,370.82 L112.32,369.94 L112.46,369.05 L112.64,368.12 L112.88,367.15 L113.16,366.16 L113.46,365.15 L113.76,364.12 L114.04,363.07 L114.29,362.01 L114.48,360.95 L114.63,359.82 L114.74,358.57 L114.83,357.28 L114.89,355.99 L114.94,354.77 L114.98,353.67 L115.02,352.74 L115.05,352.05 Z" fill="#f8d4d4" stroke="#ff4040" stroke-width="1.7" stroke-linejoin="round" />
<rect x="113.84" y="425.13" width="2.4" height="2.4" fill="#9a1010" stroke="none" stroke-width="0" />
<rect x="114.53" y="365.31" width="2.4" height="2.4" fill="#9a1010" stroke="none" stroke-width="0" />
<rect x="113.11" y="375.59" width="2.4" height="2.4" fill="#9a1010" stroke="none" stroke-width="0" />
<rect x="111.29" y="405.49" width="2.4" height="2.4" fill="#9a1010" stroke="none" stroke-width="0" />
<rect x="112.5" y="420.73" width="2.4" height="2.4" fill="#9a1010" stroke="none" stroke-width="0" />
<rect x="113.99" y="425.21" width="2.4" height="2.4" fill="#9a1010" stroke="none" stroke-width="0" />
<rect x="121.34" y="402.27" width="2.4" height="2.4" fill="#9a1010" stroke="none" stroke-width="0" />
<rect x="121.52" y="407.66" width="2.4" height="2.4" fill="#9a1010" stroke="none" stroke-width="0" />
<rect x="106.57" y="409.12" width="2.4" height="2.4" fill="#9a1010" stroke="none" stroke-width="0" />
<rect x="114.7" y="420.21" width="2.4" height="2.4" fill="#9a1010" stroke="none" stroke-width="0" />
<rect x="112.86" y="383.68" width="2.4" height="2.4" fill="#9a1010" stroke="none" stroke-width="0" />
<rect x="114.86" y="418.19" width="2.4" height="2.4" fill="#9a1010" stroke="none" stroke-width="0" />
<rect x="114.64" y="423.83" width="2.4" height="2.4" fill="#9a1010" stroke="none" stroke-width="0" />
<rect x="114.14" y="425.32" width="2.4" height="2.4" fill="#9a1010" stroke="none" stroke-width="0" />
<rect x="116.01" y="408.5" width="2.4" height="2.4" fill="#9a1010" stroke="none" stroke-width="0" />
<rect x="115.01" y="380.34" width="2.4" height="2.4" fill="#9a1010" stroke="none" stroke-width="0" />
<rect x="115.25" y="383.8" width="2.4" height="2.4" fill="#9a1010" stroke="none" stroke-width="0" />
<rect x="114.24" y="424.9" width="2.4" height="2.4" fill="#9a1010" stroke="none" stroke-width="0" />
<rect x="115.05" y="372.9" width="2.4" height="2.4" fill="#9a1010" stroke="none" stroke-width="0" />
<rect x="108.43" y="406.52" width="2.4" height="2.4" fill="#9a1010" stroke="none" stroke-width="0" />
<rect x="114.15" y="366.94" width="2.4" height="2.4" fill="#9a1010" stroke="none" stroke-width="0" />
<rect x="114.6" y="365.86" width="2.4" height="2.4" fill="#9a1010" stroke="none" stroke-width="0" />
<rect x="114.32" y="396.2" width="2.4" height="2.4" fill="#9a1010" stroke="none" stroke-width="0" />
<rect x="115.44" y="390" width="2.4" height="2.4" fill="#9a1010" stroke="none" stroke-width="0" />
<rect x="113.4" y="422.45" width="2.4" height="2.4" fill="#9a1010" stroke="none" stroke-width="0" />
<rect x="114.66" y="387.72" width="2.4" height="2.4" fill="#9a1010" stroke="none" stroke-width="0" />
<rect x="114.43" y="382.83" width="2.4" height="2.4" fill="#9a1010" stroke="none" stroke-width="0" />
<rect x="113.17" y="398.56" width="2.4" height="2.4" fill="#9a1010" stroke="none" stroke-width="0" />
<rect x="114.6" y="406.89" width="2.4" height="2.4" fill="#9a1010" stroke="none" stroke-width="0" />
<rect x="115.35" y="369.44" width="2.4" height="2.4" fill="#9a1010" stroke="none" stroke-width="0" />
<rect x="113.7" y="386.56" width="2.4" height="2.4" fill="#9a1010" stroke="none" stroke-width="0" />
<rect x="117.56" y="389.58" width="2.4" height="2.4" fill="#9a1010" stroke="none" stroke-width="0" />
<rect x="114.11" y="424.74" width="2.4" height="2.4" fill="#9a1010" stroke="none" stroke-width="0" />
<rect x="110.89" y="389.44" width="2.4" height="2.4" fill="#9a1010" stroke="none" stroke-width="0" />
<rect x="112.31" y="421.11" width="2.4" height="2.4" fill="#9a1010" stroke="none" stroke-width="0" />
<rect x="111.97" y="398.78" width="2.4" height="2.4" fill="#9a1010" stroke="none" stroke-width="0" />
<rect x="113.42" y="384.81" width="2.4" height="2.4" fill="#9a1010" stroke="none" stroke-width="0" />
<rect x="112.98" y="376.04" width="2.4" height="2.4" fill="#9a1010" stroke="none" stroke-width="0" />
<rect x="118.15" y="398.07" width="2.4" height="2.4" fill="#9a1010" stroke="none" stroke-width="0" />
<rect x="108.65" y="405.21" width="2.4" height="2.4" fill="#9a1010" stroke="none" stroke-width="0" />
<rect x="106.39" y="408.19" width="2.4" height="2.4" fill="#9a1010" stroke="none" stroke-width="0" />
<rect x="116.86" y="390.09" width="2.4" height="2.4" fill="#9a1010" stroke="none" stroke-width="0" />
<rect x="113.97" y="422.74" width="2.4" height="2.4" fill="#9a1010" stroke="none" stroke-width="0" />
<rect x="114.09" y="417.98" width="2.4" height="2.4" fill="#9a1010" stroke="none" stroke-width="0" />
<rect x="115.22" y="397.33" width="2.4" height="2.4" fill="#9a1010" stroke="none" stroke-width="0" />
<rect x="114.1" y="427.24" width="2.4" height="2.4" fill="#9a1010" stroke="none" stroke-width="0" />
<rect x="116.65" y="394.07" width="2.4" height="2.4" fill="#9a1010" stroke="none" stroke-width="0" />
<rect x="111.43" y="404.97" width="2.4" height="2.4" fill="#9a1010" stroke="none" stroke-width="0" />
<rect x="118.32" y="413.99" width="2.4" height="2.4" fill="#9a1010" stroke="none" stroke-width="0" />
<rect x="121.71" y="402.74" width="2.4" height="2.4" fill="#9a1010" stroke="none" stroke-width="0" />
<text x="220.6" y="320.43" font-size="10.35" font-weight="bold" text-anchor="middle" fill="#111"  stroke="#111" stroke-width="0.25">Antihypertensive therapy</text>
<line x1="186" y1="336.2" x2="186" y2="443.3" stroke="#111" stroke-width="1.2" />
<line x1="181.7" y1="443.3" x2="186" y2="443.3" stroke="#111" stroke-width="1.2" />
<text x="180" y="445.96" font-size="7.4" font-weight="bold" text-anchor="end" fill="#1a1a1a"  stroke="#1a1a1a" stroke-width="0.25">0</text>
<line x1="181.7" y1="421.88" x2="186" y2="421.88" stroke="#111" stroke-width="1.2" />
<text x="180" y="424.54" font-size="7.4" font-weight="bold" text-anchor="end" fill="#1a1a1a"  stroke="#1a1a1a" stroke-width="0.25">20</text>
<line x1="181.7" y1="400.46" x2="186" y2="400.46" stroke="#111" stroke-width="1.2" />
<text x="180" y="403.12" font-size="7.4" font-weight="bold" text-anchor="end" fill="#1a1a1a"  stroke="#1a1a1a" stroke-width="0.25">40</text>
<line x1="181.7" y1="379.04" x2="186" y2="379.04" stroke="#111" stroke-width="1.2" />
<text x="180" y="381.7" font-size="7.4" font-weight="bold" text-anchor="end" fill="#1a1a1a"  stroke="#1a1a1a" stroke-width="0.25">60</text>
<line x1="181.7" y1="357.62" x2="186" y2="357.62" stroke="#111" stroke-width="1.2" />
<text x="180" y="360.28" font-size="7.4" font-weight="bold" text-anchor="end" fill="#1a1a1a"  stroke="#1a1a1a" stroke-width="0.25">80</text>
<line x1="181.7" y1="336.2" x2="186" y2="336.2" stroke="#111" stroke-width="1.2" />
<text x="180" y="338.86" font-size="7.4" font-weight="bold" text-anchor="end" fill="#1a1a1a"  stroke="#1a1a1a" stroke-width="0.25">100</text>
<line x1="186" y1="443.3" x2="271.6" y2="443.3" stroke="#111" stroke-width="1.2" />
<line x1="209.8" y1="443.3" x2="209.8" y2="446.6" stroke="#111" stroke-width="1.1" />
<line x1="246" y1="443.3" x2="246" y2="446.6" stroke="#111" stroke-width="1.1" />
<text x="209.7" y="459.04" font-size="10.4" font-weight="bold" text-anchor="middle" fill="#111"  stroke="#111" stroke-width="0.25">Without</text>
<text x="245.6" y="459.04" font-size="10.4" font-weight="bold" text-anchor="middle" fill="#111"  stroke="#111" stroke-width="0.25">With</text>
<polyline points="210,347.6 210,336.4 246.9,336.4 246.9,343.2" stroke="#222" stroke-width="1.2" fill="none" />
<text x="227.9" y="331.3" font-size="8.6" font-weight="bold" text-anchor="middle" fill="#111"  textLength="25.4" lengthAdjust="spacingAndGlyphs" stroke="#111" stroke-width="0.25">0.0118</text>
<text x="0" y="0" font-size="8.8" font-weight="bold" fill="#111" text-anchor="middle" transform="translate(161.77 389) rotate(-90)">sGPNMB in plasma (ng/mL)</text>
<path d="M210.55,354.65 L210.59,355.37 L210.64,356.33 L210.7,357.46 L210.76,358.73 L210.83,360.06 L210.91,361.42 L210.98,362.74 L211.05,363.96 L211.12,365.14 L211.19,366.33 L211.26,367.52 L211.33,368.71 L211.41,369.89 L211.49,371.05 L211.58,372.18 L211.67,373.27 L211.77,374.34 L211.87,375.39 L211.97,376.43 L212.08,377.44 L212.19,378.41 L212.32,379.34 L212.45,380.22 L212.6,381.03 L212.77,381.74 L212.97,382.34 L213.17,382.86 L213.39,383.35 L213.6,383.84 L213.81,384.37 L213.99,384.97 L214.15,385.68 L214.29,386.51 L214.39,387.44 L214.48,388.43 L214.57,389.46 L214.64,390.51 L214.73,391.53 L214.82,392.52 L214.93,393.44 L215.03,394.29 L215.09,395.12 L215.15,395.91 L215.22,396.69 L215.33,397.44 L215.49,398.18 L215.74,398.92 L216.09,399.64 L216.61,400.35 L217.31,401.02 L218.11,401.67 L218.95,402.31 L219.78,402.96 L220.53,403.62 L221.13,404.33 L221.52,405.07 L221.68,405.88 L221.64,406.73 L221.47,407.61 L221.21,408.51 L220.92,409.42 L220.64,410.33 L220.44,411.21 L220.36,412.05 L220.42,412.88 L220.58,413.7 L220.8,414.51 L221.04,415.3 L221.27,416.08 L221.45,416.84 L221.55,417.56 L221.52,418.26 L221.38,418.92 L221.16,419.53 L220.87,420.12 L220.53,420.68 L220.14,421.24 L219.71,421.79 L219.27,422.34 L218.81,422.91 L218.31,423.5 L217.74,424.08 L217.12,424.66 L216.48,425.24 L215.84,425.82 L215.23,426.4 L214.66,426.99 L214.15,427.57 L213.71,428.14 L213.3,428.69 L212.91,429.24 L212.56,429.8 L212.24,430.36 L211.94,430.95 L211.68,431.57 L211.44,432.22 L211.23,432.97 L211.07,433.81 L210.93,434.71 L210.82,435.62 L210.74,436.49 L210.67,437.28 L210.61,437.94 L210.55,438.43 L210.05,438.43 L209.99,437.94 L209.93,437.28 L209.86,436.49 L209.78,435.62 L209.67,434.71 L209.53,433.81 L209.37,432.97 L209.16,432.22 L208.92,431.57 L208.66,430.95 L208.36,430.36 L208.04,429.8 L207.69,429.24 L207.3,428.69 L206.89,428.14 L206.45,427.57 L205.94,426.99 L205.37,426.4 L204.76,425.82 L204.12,425.24 L203.48,424.66 L202.86,424.08 L202.29,423.5 L201.79,422.91 L201.33,422.34 L200.89,421.79 L200.46,421.24 L200.07,420.68 L199.73,420.12 L199.44,419.53 L199.22,418.92 L199.08,418.26 L199.05,417.56 L199.15,416.84 L199.33,416.08 L199.56,415.3 L199.8,414.51 L200.02,413.7 L200.18,412.88 L200.24,412.05 L200.16,411.21 L199.96,410.33 L199.68,409.42 L199.39,408.51 L199.13,407.61 L198.96,406.73 L198.92,405.88 L199.08,405.07 L199.47,404.33 L200.07,403.62 L200.82,402.96 L201.65,402.31 L202.49,401.67 L203.29,401.02 L203.99,400.35 L204.51,399.64 L204.86,398.92 L205.11,398.18 L205.27,397.44 L205.38,396.69 L205.45,395.91 L205.51,395.12 L205.57,394.29 L205.67,393.44 L205.78,392.52 L205.87,391.53 L205.96,390.51 L206.03,389.46 L206.12,388.43 L206.21,387.44 L206.31,386.51 L206.45,385.68 L206.61,384.97 L206.79,384.37 L207,383.84 L207.21,383.35 L207.43,382.86 L207.63,382.34 L207.83,381.74 L208,381.03 L208.15,380.22 L208.28,379.34 L208.41,378.41 L208.52,377.44 L208.63,376.43 L208.73,375.39 L208.83,374.34 L208.93,373.27 L209.02,372.18 L209.11,371.05 L209.19,369.89 L209.27,368.71 L209.34,367.52 L209.41,366.33 L209.48,365.14 L209.55,363.96 L209.62,362.74 L209.69,361.42 L209.77,360.06 L209.84,358.73 L209.9,357.46 L209.96,356.33 L210.01,355.37 L210.05,354.65 Z" fill="#8484f2" stroke="#4646ff" stroke-width="1.7" stroke-linejoin="round" />
<rect x="212.52" y="419.64" width="2" height="2" fill="#1a1a7a" stroke="none" stroke-width="0" />
<rect x="201.92" y="418.08" width="2" height="2" fill="#1a1a7a" stroke="none" stroke-width="0" />
<rect x="213.55" y="409.38" width="2" height="2" fill="#1a1a7a" stroke="none" stroke-width="0" />
<rect x="209.3" y="366.65" width="2" height="2" fill="#1a1a7a" stroke="none" stroke-width="0" />
<rect x="208.1" y="401.1" width="2" height="2" fill="#1a1a7a" stroke="none" stroke-width="0" />
<rect x="209.3" y="363.26" width="2" height="2" fill="#1a1a7a" stroke="none" stroke-width="0" />
<rect x="207.68" y="387.43" width="2" height="2" fill="#1a1a7a" stroke="none" stroke-width="0" />
<rect x="207.83" y="385.95" width="2" height="2" fill="#1a1a7a" stroke="none" stroke-width="0" />
<rect x="209.44" y="375.82" width="2" height="2" fill="#1a1a7a" stroke="none" stroke-width="0" />
<rect x="206.68" y="398.82" width="2" height="2" fill="#1a1a7a" stroke="none" stroke-width="0" />
<rect x="209.3" y="433.14" width="2" height="2" fill="#1a1a7a" stroke="none" stroke-width="0" />
<rect x="210.88" y="423.73" width="2" height="2" fill="#1a1a7a" stroke="none" stroke-width="0" />
<rect x="203.43" y="415.54" width="2" height="2" fill="#1a1a7a" stroke="none" stroke-width="0" />
<rect x="209.3" y="373.1" width="2" height="2" fill="#1a1a7a" stroke="none" stroke-width="0" />
<rect x="208.41" y="387.31" width="2" height="2" fill="#1a1a7a" stroke="none" stroke-width="0" />
<rect x="212.24" y="392.91" width="2" height="2" fill="#1a1a7a" stroke="none" stroke-width="0" />
<rect x="209.3" y="433.49" width="2" height="2" fill="#1a1a7a" stroke="none" stroke-width="0" />
<rect x="207.54" y="387.78" width="2" height="2" fill="#1a1a7a" stroke="none" stroke-width="0" />
<rect x="210.79" y="398.57" width="2" height="2" fill="#1a1a7a" stroke="none" stroke-width="0" />
<rect x="211.01" y="420.1" width="2" height="2" fill="#1a1a7a" stroke="none" stroke-width="0" />
<rect x="209.3" y="363.46" width="2" height="2" fill="#1a1a7a" stroke="none" stroke-width="0" />
<rect x="218.8" y="406.65" width="2" height="2" fill="#1a1a7a" stroke="none" stroke-width="0" />
<rect x="214.54" y="413.74" width="2" height="2" fill="#1a1a7a" stroke="none" stroke-width="0" />
<rect x="206.76" y="394.57" width="2" height="2" fill="#1a1a7a" stroke="none" stroke-width="0" />
<rect x="203.38" y="416.02" width="2" height="2" fill="#1a1a7a" stroke="none" stroke-width="0" />
<rect x="213.22" y="408.25" width="2" height="2" fill="#1a1a7a" stroke="none" stroke-width="0" />
<rect x="209.29" y="393.1" width="2" height="2" fill="#1a1a7a" stroke="none" stroke-width="0" />
<rect x="209.19" y="377.68" width="2" height="2" fill="#1a1a7a" stroke="none" stroke-width="0" />
<rect x="200.2" y="405.63" width="2" height="2" fill="#1a1a7a" stroke="none" stroke-width="0" />
<rect x="211.39" y="423.57" width="2" height="2" fill="#1a1a7a" stroke="none" stroke-width="0" />
<rect x="204.56" y="415.87" width="2" height="2" fill="#1a1a7a" stroke="none" stroke-width="0" />
<rect x="209.3" y="432.83" width="2" height="2" fill="#1a1a7a" stroke="none" stroke-width="0" />
<rect x="208.62" y="426.15" width="2" height="2" fill="#1a1a7a" stroke="none" stroke-width="0" />
<rect x="202.87" y="410.9" width="2" height="2" fill="#1a1a7a" stroke="none" stroke-width="0" />
<rect x="209.3" y="359.9" width="2" height="2" fill="#1a1a7a" stroke="none" stroke-width="0" />
<rect x="203.9" y="412.8" width="2" height="2" fill="#1a1a7a" stroke="none" stroke-width="0" />
<rect x="208.88" y="379.3" width="2" height="2" fill="#1a1a7a" stroke="none" stroke-width="0" />
<rect x="215.94" y="403.21" width="2" height="2" fill="#1a1a7a" stroke="none" stroke-width="0" />
<rect x="209.45" y="392.94" width="2" height="2" fill="#1a1a7a" stroke="none" stroke-width="0" />
<rect x="210.64" y="392" width="2" height="2" fill="#1a1a7a" stroke="none" stroke-width="0" />
<rect x="214.44" y="413.8" width="2" height="2" fill="#1a1a7a" stroke="none" stroke-width="0" />
<rect x="209.43" y="429.53" width="2" height="2" fill="#1a1a7a" stroke="none" stroke-width="0" />
<rect x="203.12" y="414.35" width="2" height="2" fill="#1a1a7a" stroke="none" stroke-width="0" />
<rect x="209.3" y="365.27" width="2" height="2" fill="#1a1a7a" stroke="none" stroke-width="0" />
<rect x="208.44" y="400.22" width="2" height="2" fill="#1a1a7a" stroke="none" stroke-width="0" />
<rect x="207.19" y="398.24" width="2" height="2" fill="#1a1a7a" stroke="none" stroke-width="0" />
<rect x="215.16" y="413.34" width="2" height="2" fill="#1a1a7a" stroke="none" stroke-width="0" />
<rect x="211.53" y="417.17" width="2" height="2" fill="#1a1a7a" stroke="none" stroke-width="0" />
<rect x="209.15" y="376.19" width="2" height="2" fill="#1a1a7a" stroke="none" stroke-width="0" />
<rect x="208.85" y="384.38" width="2" height="2" fill="#1a1a7a" stroke="none" stroke-width="0" />
<rect x="207.77" y="385.96" width="2" height="2" fill="#1a1a7a" stroke="none" stroke-width="0" />
<rect x="208.35" y="396.76" width="2" height="2" fill="#1a1a7a" stroke="none" stroke-width="0" />
<rect x="209.3" y="361.15" width="2" height="2" fill="#1a1a7a" stroke="none" stroke-width="0" />
<rect x="209.3" y="393.4" width="2" height="2" fill="#1a1a7a" stroke="none" stroke-width="0" />
<rect x="209.03" y="377.63" width="2" height="2" fill="#1a1a7a" stroke="none" stroke-width="0" />
<rect x="209.23" y="426.87" width="2" height="2" fill="#1a1a7a" stroke="none" stroke-width="0" />
<rect x="199.9" y="407.54" width="2" height="2" fill="#1a1a7a" stroke="none" stroke-width="0" />
<rect x="213.87" y="409.24" width="2" height="2" fill="#1a1a7a" stroke="none" stroke-width="0" />
<rect x="208.5" y="424.71" width="2" height="2" fill="#1a1a7a" stroke="none" stroke-width="0" />
<rect x="209.31" y="374.19" width="2" height="2" fill="#1a1a7a" stroke="none" stroke-width="0" />
<rect x="207.83" y="398.19" width="2" height="2" fill="#1a1a7a" stroke="none" stroke-width="0" />
<rect x="210.02" y="399.38" width="2" height="2" fill="#1a1a7a" stroke="none" stroke-width="0" />
<rect x="212.48" y="396.76" width="2" height="2" fill="#1a1a7a" stroke="none" stroke-width="0" />
<rect x="211.84" y="396.51" width="2" height="2" fill="#1a1a7a" stroke="none" stroke-width="0" />
<rect x="207.65" y="421.52" width="2" height="2" fill="#1a1a7a" stroke="none" stroke-width="0" />
<rect x="206.67" y="399.23" width="2" height="2" fill="#1a1a7a" stroke="none" stroke-width="0" />
<rect x="213.02" y="413.65" width="2" height="2" fill="#1a1a7a" stroke="none" stroke-width="0" />
<rect x="213.97" y="399.66" width="2" height="2" fill="#1a1a7a" stroke="none" stroke-width="0" />
<rect x="210.4" y="381.25" width="2" height="2" fill="#1a1a7a" stroke="none" stroke-width="0" />
<rect x="209.3" y="360.81" width="2" height="2" fill="#1a1a7a" stroke="none" stroke-width="0" />
<rect x="200.49" y="416.71" width="2" height="2" fill="#1a1a7a" stroke="none" stroke-width="0" />
<rect x="201.14" y="408.91" width="2" height="2" fill="#1a1a7a" stroke="none" stroke-width="0" />
<rect x="206.93" y="394.35" width="2" height="2" fill="#1a1a7a" stroke="none" stroke-width="0" />
<rect x="215.27" y="405.39" width="2" height="2" fill="#1a1a7a" stroke="none" stroke-width="0" />
<rect x="210.49" y="393.16" width="2" height="2" fill="#1a1a7a" stroke="none" stroke-width="0" />
<rect x="212.99" y="420.51" width="2" height="2" fill="#1a1a7a" stroke="none" stroke-width="0" />
<rect x="203.63" y="411" width="2" height="2" fill="#1a1a7a" stroke="none" stroke-width="0" />
<rect x="210.5" y="412.03" width="2" height="2" fill="#1a1a7a" stroke="none" stroke-width="0" />
<rect x="209.06" y="381.14" width="2" height="2" fill="#1a1a7a" stroke="none" stroke-width="0" />
<rect x="218.06" y="405.29" width="2" height="2" fill="#1a1a7a" stroke="none" stroke-width="0" />
<rect x="202.48" y="421.43" width="2" height="2" fill="#1a1a7a" stroke="none" stroke-width="0" />
<rect x="208.71" y="391.18" width="2" height="2" fill="#1a1a7a" stroke="none" stroke-width="0" />
<rect x="216.65" y="413.36" width="2" height="2" fill="#1a1a7a" stroke="none" stroke-width="0" />
<rect x="209.01" y="426.98" width="2" height="2" fill="#1a1a7a" stroke="none" stroke-width="0" />
<rect x="202.98" y="412.34" width="2" height="2" fill="#1a1a7a" stroke="none" stroke-width="0" />
<rect x="211.74" y="393.97" width="2" height="2" fill="#1a1a7a" stroke="none" stroke-width="0" />
<rect x="209.3" y="365.76" width="2" height="2" fill="#1a1a7a" stroke="none" stroke-width="0" />
<rect x="208.85" y="389.81" width="2" height="2" fill="#1a1a7a" stroke="none" stroke-width="0" />
<rect x="208.4" y="389.61" width="2" height="2" fill="#1a1a7a" stroke="none" stroke-width="0" />
<rect x="203.96" y="416.63" width="2" height="2" fill="#1a1a7a" stroke="none" stroke-width="0" />
<rect x="214.22" y="416.09" width="2" height="2" fill="#1a1a7a" stroke="none" stroke-width="0" />
<rect x="214.88" y="404.26" width="2" height="2" fill="#1a1a7a" stroke="none" stroke-width="0" />
<rect x="202.04" y="411.75" width="2" height="2" fill="#1a1a7a" stroke="none" stroke-width="0" />
<rect x="211.29" y="394.36" width="2" height="2" fill="#1a1a7a" stroke="none" stroke-width="0" />
<rect x="210.63" y="396" width="2" height="2" fill="#1a1a7a" stroke="none" stroke-width="0" />
<rect x="201.72" y="410.15" width="2" height="2" fill="#1a1a7a" stroke="none" stroke-width="0" />
<rect x="209.93" y="380.47" width="2" height="2" fill="#1a1a7a" stroke="none" stroke-width="0" />
<rect x="212.89" y="410.06" width="2" height="2" fill="#1a1a7a" stroke="none" stroke-width="0" />
<rect x="214.38" y="422.37" width="2" height="2" fill="#1a1a7a" stroke="none" stroke-width="0" />
<rect x="210.78" y="401.99" width="2" height="2" fill="#1a1a7a" stroke="none" stroke-width="0" />
<rect x="209.33" y="376.58" width="2" height="2" fill="#1a1a7a" stroke="none" stroke-width="0" />
<rect x="210.02" y="402.37" width="2" height="2" fill="#1a1a7a" stroke="none" stroke-width="0" />
<rect x="209.3" y="432.07" width="2" height="2" fill="#1a1a7a" stroke="none" stroke-width="0" />
<rect x="217.8" y="402.99" width="2" height="2" fill="#1a1a7a" stroke="none" stroke-width="0" />
<rect x="209.95" y="403.81" width="2" height="2" fill="#1a1a7a" stroke="none" stroke-width="0" />
<rect x="205.64" y="423.84" width="2" height="2" fill="#1a1a7a" stroke="none" stroke-width="0" />
<rect x="202.27" y="415.58" width="2" height="2" fill="#1a1a7a" stroke="none" stroke-width="0" />
<rect x="208.83" y="383.75" width="2" height="2" fill="#1a1a7a" stroke="none" stroke-width="0" />
<rect x="206.56" y="420.22" width="2" height="2" fill="#1a1a7a" stroke="none" stroke-width="0" />
<rect x="211.23" y="423.09" width="2" height="2" fill="#1a1a7a" stroke="none" stroke-width="0" />
<rect x="208" y="427.12" width="2" height="2" fill="#1a1a7a" stroke="none" stroke-width="0" />
<rect x="210.95" y="413.56" width="2" height="2" fill="#1a1a7a" stroke="none" stroke-width="0" />
<rect x="209.43" y="429.86" width="2" height="2" fill="#1a1a7a" stroke="none" stroke-width="0" />
<rect x="209.3" y="361.54" width="2" height="2" fill="#1a1a7a" stroke="none" stroke-width="0" />
<rect x="208.93" y="378.57" width="2" height="2" fill="#1a1a7a" stroke="none" stroke-width="0" />
<rect x="206.56" y="419.22" width="2" height="2" fill="#1a1a7a" stroke="none" stroke-width="0" />
<rect x="207.47" y="383.83" width="2" height="2" fill="#1a1a7a" stroke="none" stroke-width="0" />
<rect x="205.51" y="407.65" width="2" height="2" fill="#1a1a7a" stroke="none" stroke-width="0" />
<rect x="209.3" y="361.08" width="2" height="2" fill="#1a1a7a" stroke="none" stroke-width="0" />
<rect x="203.24" y="413.37" width="2" height="2" fill="#1a1a7a" stroke="none" stroke-width="0" />
<rect x="218.47" y="415.97" width="2" height="2" fill="#1a1a7a" stroke="none" stroke-width="0" />
<rect x="216.14" y="411" width="2" height="2" fill="#1a1a7a" stroke="none" stroke-width="0" />
<rect x="204.92" y="412.51" width="2" height="2" fill="#1a1a7a" stroke="none" stroke-width="0" />
<rect x="217.18" y="403.29" width="2" height="2" fill="#1a1a7a" stroke="none" stroke-width="0" />
<rect x="211.5" y="389.97" width="2" height="2" fill="#1a1a7a" stroke="none" stroke-width="0" />
<rect x="205.47" y="420.57" width="2" height="2" fill="#1a1a7a" stroke="none" stroke-width="0" />
<rect x="209.39" y="379.45" width="2" height="2" fill="#1a1a7a" stroke="none" stroke-width="0" />
<rect x="210.74" y="397.38" width="2" height="2" fill="#1a1a7a" stroke="none" stroke-width="0" />
<rect x="209.3" y="364.21" width="2" height="2" fill="#1a1a7a" stroke="none" stroke-width="0" />
<rect x="208.27" y="394.27" width="2" height="2" fill="#1a1a7a" stroke="none" stroke-width="0" />
<rect x="207.46" y="395.91" width="2" height="2" fill="#1a1a7a" stroke="none" stroke-width="0" />
<rect x="217.82" y="407.62" width="2" height="2" fill="#1a1a7a" stroke="none" stroke-width="0" />
<rect x="210.65" y="392.34" width="2" height="2" fill="#1a1a7a" stroke="none" stroke-width="0" />
<rect x="208.15" y="411.69" width="2" height="2" fill="#1a1a7a" stroke="none" stroke-width="0" />
<rect x="208.64" y="413.07" width="2" height="2" fill="#1a1a7a" stroke="none" stroke-width="0" />
<rect x="214.84" y="408.52" width="2" height="2" fill="#1a1a7a" stroke="none" stroke-width="0" />
<rect x="206.63" y="392.82" width="2" height="2" fill="#1a1a7a" stroke="none" stroke-width="0" />
<rect x="210.94" y="390.96" width="2" height="2" fill="#1a1a7a" stroke="none" stroke-width="0" />
<rect x="209.69" y="397.94" width="2" height="2" fill="#1a1a7a" stroke="none" stroke-width="0" />
<rect x="209.3" y="358.14" width="2" height="2" fill="#1a1a7a" stroke="none" stroke-width="0" />
<rect x="209.3" y="432.26" width="2" height="2" fill="#1a1a7a" stroke="none" stroke-width="0" />
<rect x="208.51" y="420.15" width="2" height="2" fill="#1a1a7a" stroke="none" stroke-width="0" />
<rect x="211.26" y="407.03" width="2" height="2" fill="#1a1a7a" stroke="none" stroke-width="0" />
<rect x="206.8" y="395.06" width="2" height="2" fill="#1a1a7a" stroke="none" stroke-width="0" />
<rect x="205.24" y="402.93" width="2" height="2" fill="#1a1a7a" stroke="none" stroke-width="0" />
<rect x="209.58" y="376.75" width="2" height="2" fill="#1a1a7a" stroke="none" stroke-width="0" />
<rect x="201.46" y="404.77" width="2" height="2" fill="#1a1a7a" stroke="none" stroke-width="0" />
<rect x="209.12" y="387.12" width="2" height="2" fill="#1a1a7a" stroke="none" stroke-width="0" />
<rect x="209.28" y="376.29" width="2" height="2" fill="#1a1a7a" stroke="none" stroke-width="0" />
<rect x="217.71" y="416.28" width="2" height="2" fill="#1a1a7a" stroke="none" stroke-width="0" />
<rect x="206.7" y="420.54" width="2" height="2" fill="#1a1a7a" stroke="none" stroke-width="0" />
<rect x="206.93" y="403.28" width="2" height="2" fill="#1a1a7a" stroke="none" stroke-width="0" />
<rect x="209.3" y="365.26" width="2" height="2" fill="#1a1a7a" stroke="none" stroke-width="0" />
<rect x="206.53" y="401.26" width="2" height="2" fill="#1a1a7a" stroke="none" stroke-width="0" />
<rect x="207.65" y="394.8" width="2" height="2" fill="#1a1a7a" stroke="none" stroke-width="0" />
<rect x="207.05" y="415.26" width="2" height="2" fill="#1a1a7a" stroke="none" stroke-width="0" />
<rect x="209.3" y="359.49" width="2" height="2" fill="#1a1a7a" stroke="none" stroke-width="0" />
<rect x="203.75" y="422.24" width="2" height="2" fill="#1a1a7a" stroke="none" stroke-width="0" />
<rect x="203.66" y="421.04" width="2" height="2" fill="#1a1a7a" stroke="none" stroke-width="0" />
<rect x="202.26" y="414.59" width="2" height="2" fill="#1a1a7a" stroke="none" stroke-width="0" />
<rect x="217.92" y="419.74" width="2" height="2" fill="#1a1a7a" stroke="none" stroke-width="0" />
<rect x="206.31" y="398.88" width="2" height="2" fill="#1a1a7a" stroke="none" stroke-width="0" />
<rect x="211.21" y="426.42" width="2" height="2" fill="#1a1a7a" stroke="none" stroke-width="0" />
<rect x="208.76" y="408.05" width="2" height="2" fill="#1a1a7a" stroke="none" stroke-width="0" />
<rect x="209.3" y="373.67" width="2" height="2" fill="#1a1a7a" stroke="none" stroke-width="0" />
<rect x="212.75" y="419.62" width="2" height="2" fill="#1a1a7a" stroke="none" stroke-width="0" />
<rect x="209.3" y="433.69" width="2" height="2" fill="#1a1a7a" stroke="none" stroke-width="0" />
<rect x="216.61" y="409.84" width="2" height="2" fill="#1a1a7a" stroke="none" stroke-width="0" />
<rect x="211.16" y="413.7" width="2" height="2" fill="#1a1a7a" stroke="none" stroke-width="0" />
<rect x="207.42" y="409.88" width="2" height="2" fill="#1a1a7a" stroke="none" stroke-width="0" />
<rect x="206.34" y="418.31" width="2" height="2" fill="#1a1a7a" stroke="none" stroke-width="0" />
<rect x="211.25" y="407.59" width="2" height="2" fill="#1a1a7a" stroke="none" stroke-width="0" />
<rect x="206.56" y="414.28" width="2" height="2" fill="#1a1a7a" stroke="none" stroke-width="0" />
<rect x="215.25" y="421.59" width="2" height="2" fill="#1a1a7a" stroke="none" stroke-width="0" />
<rect x="209.3" y="375.43" width="2" height="2" fill="#1a1a7a" stroke="none" stroke-width="0" />
<rect x="209.3" y="371.61" width="2" height="2" fill="#1a1a7a" stroke="none" stroke-width="0" />
<rect x="203.75" y="413.1" width="2" height="2" fill="#1a1a7a" stroke="none" stroke-width="0" />
<rect x="209.3" y="357.48" width="2" height="2" fill="#1a1a7a" stroke="none" stroke-width="0" />
<rect x="208.18" y="387" width="2" height="2" fill="#1a1a7a" stroke="none" stroke-width="0" />
<rect x="204.33" y="411.5" width="2" height="2" fill="#1a1a7a" stroke="none" stroke-width="0" />
<rect x="208.78" y="425.43" width="2" height="2" fill="#1a1a7a" stroke="none" stroke-width="0" />
<rect x="212.8" y="419.88" width="2" height="2" fill="#1a1a7a" stroke="none" stroke-width="0" />
<rect x="212.54" y="424.69" width="2" height="2" fill="#1a1a7a" stroke="none" stroke-width="0" />
<rect x="211.49" y="399.57" width="2" height="2" fill="#1a1a7a" stroke="none" stroke-width="0" />
<rect x="209.3" y="359.03" width="2" height="2" fill="#1a1a7a" stroke="none" stroke-width="0" />
<rect x="209.77" y="428.41" width="2" height="2" fill="#1a1a7a" stroke="none" stroke-width="0" />
<rect x="217.07" y="409.95" width="2" height="2" fill="#1a1a7a" stroke="none" stroke-width="0" />
<rect x="210.04" y="398.24" width="2" height="2" fill="#1a1a7a" stroke="none" stroke-width="0" />
<rect x="210.37" y="420.09" width="2" height="2" fill="#1a1a7a" stroke="none" stroke-width="0" />
<rect x="206.65" y="392.23" width="2" height="2" fill="#1a1a7a" stroke="none" stroke-width="0" />
<rect x="209.97" y="379.98" width="2" height="2" fill="#1a1a7a" stroke="none" stroke-width="0" />
<rect x="217.94" y="415.56" width="2" height="2" fill="#1a1a7a" stroke="none" stroke-width="0" />
<rect x="210.35" y="386.66" width="2" height="2" fill="#1a1a7a" stroke="none" stroke-width="0" />
<rect x="207.8" y="424.96" width="2" height="2" fill="#1a1a7a" stroke="none" stroke-width="0" />
<rect x="213.16" y="418.41" width="2" height="2" fill="#1a1a7a" stroke="none" stroke-width="0" />
<rect x="211.32" y="391.46" width="2" height="2" fill="#1a1a7a" stroke="none" stroke-width="0" />
<rect x="211.46" y="394.06" width="2" height="2" fill="#1a1a7a" stroke="none" stroke-width="0" />
<path d="M246.85,349.05 L246.88,349.75 L246.9,350.7 L246.92,351.84 L246.96,353.09 L247.01,354.4 L247.1,355.69 L247.24,356.89 L247.42,357.95 L247.67,358.87 L248,359.7 L248.37,360.49 L248.77,361.24 L249.18,361.99 L249.58,362.75 L249.94,363.56 L250.25,364.43 L250.52,365.35 L250.76,366.3 L250.98,367.27 L251.19,368.27 L251.38,369.3 L251.55,370.35 L251.72,371.42 L251.87,372.52 L252,373.67 L252.1,374.87 L252.18,376.12 L252.25,377.38 L252.32,378.64 L252.41,379.88 L252.53,381.09 L252.68,382.23 L252.87,383.32 L253.09,384.37 L253.33,385.39 L253.59,386.38 L253.86,387.37 L254.14,388.34 L254.42,389.33 L254.7,390.33 L255,391.34 L255.34,392.35 L255.69,393.36 L256.04,394.38 L256.38,395.39 L256.69,396.4 L256.94,397.41 L257.13,398.42 L257.26,399.45 L257.34,400.49 L257.38,401.53 L257.39,402.57 L257.36,403.6 L257.3,404.61 L257.23,405.58 L257.13,406.52 L257.02,407.41 L256.88,408.25 L256.71,409.07 L256.53,409.86 L256.31,410.64 L256.07,411.41 L255.8,412.2 L255.51,412.99 L255.19,413.8 L254.84,414.61 L254.45,415.42 L254.05,416.23 L253.62,417.04 L253.18,417.85 L252.73,418.66 L252.28,419.47 L251.79,420.28 L251.26,421.09 L250.7,421.9 L250.14,422.71 L249.59,423.52 L249.07,424.33 L248.61,425.14 L248.23,425.95 L247.92,426.77 L247.66,427.62 L247.46,428.48 L247.29,429.34 L247.15,430.17 L247.04,430.97 L246.94,431.73 L246.85,432.42 L246.78,433.07 L246.75,433.7 L246.75,434.29 L246.76,434.85 L246.79,435.35 L246.82,435.8 L246.84,436.17 L246.85,436.47 L246.35,436.47 L246.36,436.17 L246.38,435.8 L246.41,435.35 L246.44,434.85 L246.45,434.29 L246.45,433.7 L246.42,433.07 L246.35,432.42 L246.26,431.73 L246.16,430.97 L246.05,430.17 L245.91,429.34 L245.74,428.48 L245.54,427.62 L245.28,426.77 L244.97,425.95 L244.59,425.14 L244.13,424.33 L243.61,423.52 L243.06,422.71 L242.5,421.9 L241.94,421.09 L241.41,420.28 L240.92,419.47 L240.47,418.66 L240.02,417.85 L239.58,417.04 L239.15,416.23 L238.75,415.42 L238.36,414.61 L238.01,413.8 L237.69,412.99 L237.4,412.2 L237.13,411.41 L236.89,410.64 L236.67,409.86 L236.49,409.07 L236.32,408.25 L236.18,407.41 L236.07,406.52 L235.97,405.58 L235.9,404.61 L235.84,403.6 L235.81,402.57 L235.82,401.53 L235.86,400.49 L235.94,399.45 L236.07,398.42 L236.26,397.41 L236.51,396.4 L236.82,395.39 L237.16,394.38 L237.51,393.36 L237.86,392.35 L238.2,391.34 L238.5,390.33 L238.78,389.33 L239.06,388.34 L239.34,387.37 L239.61,386.38 L239.87,385.39 L240.11,384.37 L240.33,383.32 L240.52,382.23 L240.67,381.09 L240.79,379.88 L240.88,378.64 L240.95,377.38 L241.02,376.12 L241.1,374.87 L241.2,373.67 L241.33,372.52 L241.48,371.42 L241.65,370.35 L241.82,369.3 L242.01,368.27 L242.22,367.27 L242.44,366.3 L242.68,365.35 L242.95,364.43 L243.26,363.56 L243.62,362.75 L244.02,361.99 L244.43,361.24 L244.83,360.49 L245.2,359.7 L245.53,358.87 L245.78,357.95 L245.96,356.89 L246.1,355.69 L246.19,354.4 L246.24,353.09 L246.28,351.84 L246.3,350.7 L246.32,349.75 L246.35,349.05 Z" fill="#f6dada" stroke="#ff4040" stroke-width="1.7" stroke-linejoin="round" />
<rect x="245.52" y="364.62" width="2.2" height="2.2" fill="#9a1010" stroke="none" stroke-width="0" />
<rect x="245.52" y="369.8" width="2.2" height="2.2" fill="#9a1010" stroke="none" stroke-width="0" />
<rect x="245.52" y="374.66" width="2.2" height="2.2" fill="#9a1010" stroke="none" stroke-width="0" />
<rect x="245.52" y="377.9" width="2.2" height="2.2" fill="#9a1010" stroke="none" stroke-width="0" />
<rect x="245.52" y="382.75" width="2.2" height="2.2" fill="#9a1010" stroke="none" stroke-width="0" />
<rect x="245.52" y="386.8" width="2.2" height="2.2" fill="#9a1010" stroke="none" stroke-width="0" />
<rect x="243.09" y="390.85" width="2.2" height="2.2" fill="#9a1010" stroke="none" stroke-width="0" />
<rect x="247.14" y="392.47" width="2.2" height="2.2" fill="#9a1010" stroke="none" stroke-width="0" />
<rect x="243.09" y="394.09" width="2.2" height="2.2" fill="#9a1010" stroke="none" stroke-width="0" />
<rect x="243.09" y="398.94" width="2.2" height="2.2" fill="#9a1010" stroke="none" stroke-width="0" />
<rect x="247.14" y="396.51" width="2.2" height="2.2" fill="#9a1010" stroke="none" stroke-width="0" />
<rect x="247.14" y="402.18" width="2.2" height="2.2" fill="#9a1010" stroke="none" stroke-width="0" />
<rect x="247.14" y="404.61" width="2.2" height="2.2" fill="#9a1010" stroke="none" stroke-width="0" />
<rect x="243.09" y="404.61" width="2.2" height="2.2" fill="#9a1010" stroke="none" stroke-width="0" />
<rect x="243.09" y="407.85" width="2.2" height="2.2" fill="#9a1010" stroke="none" stroke-width="0" />
<rect x="247.14" y="409.47" width="2.2" height="2.2" fill="#9a1010" stroke="none" stroke-width="0" />
<rect x="243.09" y="414.32" width="2.2" height="2.2" fill="#9a1010" stroke="none" stroke-width="0" />
<rect x="245.52" y="416.75" width="2.2" height="2.2" fill="#9a1010" stroke="none" stroke-width="0" />
<rect x="247.14" y="415.13" width="2.2" height="2.2" fill="#9a1010" stroke="none" stroke-width="0" />
<rect x="245.52" y="418.37" width="2.2" height="2.2" fill="#9a1010" stroke="none" stroke-width="0" />
<line x1="241.72" y1="383.85" x2="251.48" y2="383.85" stroke="#555" stroke-width="0.8" stroke-dasharray="1.5,1.5" />
<line x1="237.63" y1="398.1" x2="255.57" y2="398.1" stroke="#555" stroke-width="0.8" stroke-dasharray="1.5,1.5" />
<line x1="238.07" y1="409.43" x2="255.13" y2="409.43" stroke="#555" stroke-width="0.8" stroke-dasharray="1.5,1.5" />
<text x="301.5" y="331.52" font-size="19.5" font-weight="bold" text-anchor="start" fill="#111"  stroke="#111" stroke-width="0.25">F</text>
<rect x="328" y="337.6" width="132.3" height="88.4" fill="none" stroke="#111" stroke-width="1.2" />
<line x1="325" y1="426" x2="328" y2="426" stroke="#111" stroke-width="1.1" />
<text x="323.5" y="428.74" font-size="7.6" font-weight="normal" text-anchor="end" fill="#222"  stroke="#222" stroke-width="0.25">0</text>
<line x1="325" y1="396.53" x2="328" y2="396.53" stroke="#111" stroke-width="1.1" />
<text x="323.5" y="399.27" font-size="7.6" font-weight="normal" text-anchor="end" fill="#222"  stroke="#222" stroke-width="0.25">5</text>
<line x1="325" y1="367.07" x2="328" y2="367.07" stroke="#111" stroke-width="1.1" />
<text x="323.5" y="369.8" font-size="7.6" font-weight="normal" text-anchor="end" fill="#222"  stroke="#222" stroke-width="0.25">10</text>
<line x1="325" y1="337.6" x2="328" y2="337.6" stroke="#111" stroke-width="1.1" />
<text x="323.5" y="340.34" font-size="7.6" font-weight="normal" text-anchor="end" fill="#222"  stroke="#222" stroke-width="0.25">15</text>
<line x1="328" y1="426" x2="328" y2="429" stroke="#111" stroke-width="1" />
<line x1="336.27" y1="426" x2="336.27" y2="427.8" stroke="#111" stroke-width="1" />
<line x1="344.54" y1="426" x2="344.54" y2="427.8" stroke="#111" stroke-width="1" />
<line x1="352.81" y1="426" x2="352.81" y2="427.8" stroke="#111" stroke-width="1" />
<line x1="361.07" y1="426" x2="361.07" y2="429" stroke="#111" stroke-width="1" />
<line x1="369.34" y1="426" x2="369.34" y2="427.8" stroke="#111" stroke-width="1" />
<line x1="377.61" y1="426" x2="377.61" y2="427.8" stroke="#111" stroke-width="1" />
<line x1="385.88" y1="426" x2="385.88" y2="427.8" stroke="#111" stroke-width="1" />
<line x1="394.15" y1="426" x2="394.15" y2="429" stroke="#111" stroke-width="1" />
<line x1="402.42" y1="426" x2="402.42" y2="427.8" stroke="#111" stroke-width="1" />
<line x1="410.69" y1="426" x2="410.69" y2="427.8" stroke="#111" stroke-width="1" />
<line x1="418.96" y1="426" x2="418.96" y2="427.8" stroke="#111" stroke-width="1" />
<line x1="427.23" y1="426" x2="427.23" y2="429" stroke="#111" stroke-width="1" />
<line x1="435.49" y1="426" x2="435.49" y2="427.8" stroke="#111" stroke-width="1" />
<line x1="443.76" y1="426" x2="443.76" y2="427.8" stroke="#111" stroke-width="1" />
<line x1="452.03" y1="426" x2="452.03" y2="427.8" stroke="#111" stroke-width="1" />
<line x1="460.3" y1="426" x2="460.3" y2="429" stroke="#111" stroke-width="1" />
<text x="328" y="437.74" font-size="7.6" font-weight="normal" text-anchor="middle" fill="#222"  stroke="#222" stroke-width="0.25">0</text>
<text x="361.07" y="437.74" font-size="7.6" font-weight="normal" text-anchor="middle" fill="#222"  stroke="#222" stroke-width="0.25">20</text>
<text x="394.15" y="437.74" font-size="7.6" font-weight="normal" text-anchor="middle" fill="#222"  stroke="#222" stroke-width="0.25">40</text>
<text x="427.23" y="437.74" font-size="7.6" font-weight="normal" text-anchor="middle" fill="#222"  stroke="#222" stroke-width="0.25">60</text>
<text x="460.3" y="437.74" font-size="7.6" font-weight="normal" text-anchor="middle" fill="#222"  stroke="#222" stroke-width="0.25">80</text>
<text x="394.3" y="448.45" font-size="8.2" font-weight="bold" text-anchor="middle" fill="#111"  textLength="59" lengthAdjust="spacingAndGlyphs" stroke="#111" stroke-width="0.25">sGPNMB (ng/mL)</text>
<text x="0" y="0" font-size="9.3" font-weight="bold" fill="#111" text-anchor="middle" transform="translate(312.45 384.6) rotate(-90)">TCHO (mmol/L)</text>
<text x="332" y="349.15" font-size="8.2" font-weight="bold" text-anchor="start" fill="#111"  textLength="36" lengthAdjust="spacingAndGlyphs" stroke="#111" stroke-width="0.25">R = 0.3730</text>
<text x="332" y="357.95" font-size="8.2" font-weight="bold" fill="#111" textLength="48.4" lengthAdjust="spacingAndGlyphs">****<tspan font-style="italic">P</tspan> &lt; 0.0001</text>
<circle cx="447.8" cy="368.2" r="2" fill="#2f7a47"/>
<circle cx="417.4" cy="379.6" r="2" fill="#2f7a47"/>
<circle cx="417.7" cy="386.3" r="2" fill="#2f7a47"/>
<circle cx="395" cy="384.2" r="2" fill="#2f7a47"/>
<circle cx="378.3" cy="387.2" r="2" fill="#2f7a47"/>
<circle cx="381.3" cy="386.3" r="2" fill="#2f7a47"/>
<circle cx="402" cy="389.8" r="2" fill="#2f7a47"/>
<circle cx="408.4" cy="391.2" r="2" fill="#2f7a47"/>
<circle cx="393.7" cy="391.2" r="2" fill="#2f7a47"/>
<circle cx="396.7" cy="393.3" r="2" fill="#2f7a47"/>
<circle cx="387" cy="393.3" r="2" fill="#2f7a47"/>
<circle cx="356.9" cy="392.4" r="2" fill="#2f7a47"/>
<circle cx="362.5" cy="392.9" r="2" fill="#2f7a47"/>
<circle cx="373" cy="392.4" r="2" fill="#2f7a47"/>
<circle cx="407.2" cy="396.8" r="2" fill="#2f7a47"/>
<circle cx="402" cy="396" r="2" fill="#2f7a47"/>
<circle cx="415" cy="398.5" r="2" fill="#2f7a47"/>
<circle cx="417.7" cy="400.3" r="2" fill="#2f7a47"/>
<circle cx="397.6" cy="398.5" r="2" fill="#2f7a47"/>
<circle cx="404.6" cy="400.3" r="2" fill="#2f7a47"/>
<circle cx="406.3" cy="402" r="2" fill="#2f7a47"/>
<circle cx="425.6" cy="404.1" r="2" fill="#2f7a47"/>
<circle cx="416.8" cy="405.2" r="2" fill="#2f7a47"/>
<circle cx="433.5" cy="397.3" r="2" fill="#2f7a47"/>
<circle cx="437" cy="394.7" r="2" fill="#2f7a47"/>
<circle cx="439.6" cy="400.3" r="2" fill="#2f7a47"/>
<circle cx="442.2" cy="399.4" r="2" fill="#2f7a47"/>
<circle cx="405.4" cy="407" r="2" fill="#2f7a47"/>
<circle cx="407.2" cy="407.7" r="2" fill="#2f7a47"/>
<circle cx="398.4" cy="405.9" r="2" fill="#2f7a47"/>
<circle cx="392.3" cy="407.7" r="2" fill="#2f7a47"/>
<circle cx="386.2" cy="411.2" r="2" fill="#2f7a47"/>
<circle cx="356.9" cy="415.7" r="2" fill="#2f7a47"/>
<circle cx="366.9" cy="415.2" r="2" fill="#2f7a47"/>
<circle cx="352" cy="401.2" r="2" fill="#2f7a47"/>
<circle cx="352.9" cy="405.9" r="2" fill="#2f7a47"/>
<circle cx="389" cy="396" r="2" fill="#2f7a47"/>
<circle cx="391" cy="401" r="2" fill="#2f7a47"/>
<circle cx="384" cy="399" r="2" fill="#2f7a47"/>
<circle cx="399" cy="392" r="2" fill="#2f7a47"/>
<circle cx="412" cy="395" r="2" fill="#2f7a47"/>
<circle cx="411" cy="402" r="2" fill="#2f7a47"/>
<circle cx="365.22" cy="405.71" r="2" fill="#2f7a47"/>
<circle cx="380.03" cy="413.52" r="2" fill="#2f7a47"/>
<circle cx="357.84" cy="399.04" r="2" fill="#2f7a47"/>
<circle cx="361.63" cy="401.23" r="2" fill="#2f7a47"/>
<circle cx="368.64" cy="395.84" r="2" fill="#2f7a47"/>
<circle cx="372.58" cy="395.06" r="2" fill="#2f7a47"/>
<circle cx="375.15" cy="397.99" r="2" fill="#2f7a47"/>
<circle cx="372.88" cy="405.59" r="2" fill="#2f7a47"/>
<circle cx="369.09" cy="399.72" r="2" fill="#2f7a47"/>
<circle cx="362.93" cy="396.67" r="2" fill="#2f7a47"/>
<circle cx="384.67" cy="406.52" r="2" fill="#2f7a47"/>
<circle cx="387.69" cy="405.27" r="2" fill="#2f7a47"/>
<circle cx="373.4" cy="399.77" r="2" fill="#2f7a47"/>
<circle cx="367.83" cy="394.17" r="2" fill="#2f7a47"/>
<circle cx="379.48" cy="408.79" r="2" fill="#2f7a47"/>
<circle cx="384.18" cy="411.53" r="2" fill="#2f7a47"/>
<circle cx="377.43" cy="404.59" r="2" fill="#2f7a47"/>
<circle cx="361.01" cy="397.85" r="2" fill="#2f7a47"/>
<circle cx="377.79" cy="413.47" r="2" fill="#2f7a47"/>
<circle cx="374.35" cy="399.17" r="2" fill="#2f7a47"/>
<circle cx="378.13" cy="409.48" r="2" fill="#2f7a47"/>
<circle cx="358.91" cy="407.47" r="2" fill="#2f7a47"/>
<circle cx="360.99" cy="403.23" r="2" fill="#2f7a47"/>
<circle cx="374.8" cy="403.4" r="2" fill="#2f7a47"/>
<circle cx="355.97" cy="405.29" r="2" fill="#2f7a47"/>
<circle cx="356.73" cy="407.09" r="2" fill="#2f7a47"/>
<circle cx="352.03" cy="400.2" r="2" fill="#2f7a47"/>
<circle cx="365.55" cy="398.99" r="2" fill="#2f7a47"/>
<circle cx="372.13" cy="404.55" r="2" fill="#2f7a47"/>
<circle cx="387.38" cy="405.7" r="2" fill="#2f7a47"/>
<circle cx="380.59" cy="396.49" r="2" fill="#2f7a47"/>
<circle cx="380.23" cy="408.13" r="2" fill="#2f7a47"/>
<circle cx="383.12" cy="411.29" r="2" fill="#2f7a47"/>
<circle cx="361.62" cy="395.42" r="2" fill="#2f7a47"/>
<circle cx="362.75" cy="399.38" r="2" fill="#2f7a47"/>
<circle cx="383.32" cy="391.55" r="2" fill="#2f7a47"/>
<circle cx="370.5" cy="408.89" r="2" fill="#2f7a47"/>
<circle cx="368.59" cy="394.74" r="2" fill="#2f7a47"/>
<circle cx="361.67" cy="406.2" r="2" fill="#2f7a47"/>
<circle cx="377.08" cy="402.11" r="2" fill="#2f7a47"/>
<circle cx="373.28" cy="411.13" r="2" fill="#2f7a47"/>
<circle cx="366.76" cy="414.57" r="2" fill="#2f7a47"/>
<circle cx="360.62" cy="414.12" r="2" fill="#2f7a47"/>
<circle cx="356.37" cy="410.84" r="2" fill="#2f7a47"/>
<circle cx="370.1" cy="394.07" r="2" fill="#2f7a47"/>
<circle cx="371.2" cy="406.21" r="2" fill="#2f7a47"/>
<circle cx="375.57" cy="403.67" r="2" fill="#2f7a47"/>
<circle cx="368.36" cy="401.26" r="2" fill="#2f7a47"/>
<circle cx="370.93" cy="410.09" r="2" fill="#2f7a47"/>
<circle cx="374.51" cy="407.07" r="2" fill="#2f7a47"/>
<circle cx="371.83" cy="411.18" r="2" fill="#2f7a47"/>
<circle cx="358.43" cy="397.95" r="2" fill="#2f7a47"/>
<circle cx="360.01" cy="400.91" r="2" fill="#2f7a47"/>
<circle cx="388.73" cy="400.87" r="2" fill="#2f7a47"/>
<circle cx="370.97" cy="401.78" r="2" fill="#2f7a47"/>
<circle cx="351.85" cy="396.01" r="2" fill="#2f7a47"/>
<circle cx="363.03" cy="397.96" r="2" fill="#2f7a47"/>
<circle cx="366.69" cy="400.23" r="2" fill="#2f7a47"/>
<circle cx="367.8" cy="393.47" r="2" fill="#2f7a47"/>
<circle cx="379.67" cy="405.86" r="2" fill="#2f7a47"/>
<circle cx="363.07" cy="400.11" r="2" fill="#2f7a47"/>
<circle cx="361.54" cy="391.71" r="2" fill="#2f7a47"/>
<circle cx="376.42" cy="400.38" r="2" fill="#2f7a47"/>
<circle cx="380.22" cy="411.8" r="2" fill="#2f7a47"/>
<circle cx="357.09" cy="396.31" r="2" fill="#2f7a47"/>
<circle cx="374.95" cy="399.73" r="2" fill="#2f7a47"/>
<circle cx="363.47" cy="400.56" r="2" fill="#2f7a47"/>
<circle cx="374.06" cy="394.94" r="2" fill="#2f7a47"/>
<circle cx="370.73" cy="409.46" r="2" fill="#2f7a47"/>
<circle cx="364.56" cy="400.77" r="2" fill="#2f7a47"/>
<circle cx="374.2" cy="408.68" r="2" fill="#2f7a47"/>
<circle cx="379.46" cy="405.81" r="2" fill="#2f7a47"/>
<circle cx="385.65" cy="399.21" r="2" fill="#2f7a47"/>
<circle cx="385.85" cy="406.44" r="2" fill="#2f7a47"/>
<circle cx="367.04" cy="394.56" r="2" fill="#2f7a47"/>
<circle cx="384.99" cy="404.56" r="2" fill="#2f7a47"/>
<circle cx="375.45" cy="412.34" r="2" fill="#2f7a47"/>
<circle cx="366.22" cy="407.72" r="2" fill="#2f7a47"/>
<circle cx="378.49" cy="412.77" r="2" fill="#2f7a47"/>
<circle cx="373.22" cy="413.99" r="2" fill="#2f7a47"/>
<circle cx="364.92" cy="402.73" r="2" fill="#2f7a47"/>
<circle cx="363.79" cy="397.4" r="2" fill="#2f7a47"/>
<circle cx="386.52" cy="404.73" r="2" fill="#2f7a47"/>
<circle cx="369.74" cy="404.2" r="2" fill="#2f7a47"/>
<circle cx="371.49" cy="394.18" r="2" fill="#2f7a47"/>
<circle cx="365.65" cy="405.32" r="2" fill="#2f7a47"/>
<circle cx="358.21" cy="401.77" r="2" fill="#2f7a47"/>
<circle cx="366.13" cy="397.08" r="2" fill="#2f7a47"/>
<circle cx="356.91" cy="399.37" r="2" fill="#2f7a47"/>
<circle cx="372.1" cy="406.22" r="2" fill="#2f7a47"/>
<circle cx="355" cy="403.9" r="2" fill="#2f7a47"/>
<circle cx="375.74" cy="392.81" r="2" fill="#2f7a47"/>
<circle cx="356.8" cy="406.26" r="2" fill="#2f7a47"/>
<circle cx="377.02" cy="406.38" r="2" fill="#2f7a47"/>
<circle cx="385.61" cy="407.26" r="2" fill="#2f7a47"/>
<circle cx="383.4" cy="402.99" r="2" fill="#2f7a47"/>
<circle cx="370.13" cy="397.69" r="2" fill="#2f7a47"/>
<circle cx="371.06" cy="400.77" r="2" fill="#2f7a47"/>
<circle cx="364.25" cy="406.71" r="2" fill="#2f7a47"/>
<circle cx="373.64" cy="400.44" r="2" fill="#2f7a47"/>
<circle cx="372.1" cy="405" r="2" fill="#2f7a47"/>
<circle cx="374.32" cy="399" r="2" fill="#2f7a47"/>
<circle cx="376.4" cy="400.27" r="2" fill="#2f7a47"/>
<circle cx="373.07" cy="399.9" r="2" fill="#2f7a47"/>
<circle cx="389.86" cy="394.47" r="2" fill="#2f7a47"/>
<circle cx="379.97" cy="397.16" r="2" fill="#2f7a47"/>
<circle cx="385.87" cy="395.61" r="2" fill="#2f7a47"/>
<circle cx="377.04" cy="402" r="2" fill="#2f7a47"/>
<line x1="380" y1="402" x2="447.5" y2="392.8" stroke="#c0392b" stroke-width="1.2" />
<line x1="410.7" y1="396" x2="447.5" y2="389.8" stroke="#222" stroke-width="0.9" stroke-dasharray="1.2,1.6" />
<line x1="410.7" y1="398.9" x2="447.5" y2="396.8" stroke="#222" stroke-width="0.9" stroke-dasharray="1.2,1.6" />
<text x="471.3" y="330.8" font-size="17.5" font-weight="bold" text-anchor="start" fill="#111"  stroke="#111" stroke-width="0.25">G</text>
<rect x="471.6" y="353.4" width="210.4" height="10" fill="#eef1f0" stroke="none" stroke-width="0" />
<rect x="471.6" y="373.4" width="210.4" height="10" fill="#eef1f0" stroke="none" stroke-width="0" />
<rect x="471.6" y="393.2" width="210.4" height="10" fill="#eef1f0" stroke="none" stroke-width="0" />
<rect x="471.6" y="413" width="210.4" height="10" fill="#eef1f0" stroke="none" stroke-width="0" />
<text x="475" y="350.78" font-size="8" font-weight="bold" text-anchor="start" fill="#2a2a2a"  textLength="72.21" lengthAdjust="spacingAndGlyphs" stroke="#2a2a2a" stroke-width="0.25">Independent variables</text>
<text x="620.7" y="350.48" font-size="8" font-weight="bold" text-anchor="start" fill="#2a2a2a"  textLength="38.76" lengthAdjust="spacingAndGlyphs" stroke="#2a2a2a" stroke-width="0.25">HR (95% CI)</text>
<text x="475" y="361.28" font-size="8" font-weight="normal" text-anchor="start" fill="#333"  textLength="67.35" lengthAdjust="spacingAndGlyphs" stroke="#333" stroke-width="0.25">Coronary heart disease</text>
<text x="620.7" y="361.28" font-size="8" font-weight="normal" text-anchor="start" fill="#333"  textLength="52.47" lengthAdjust="spacingAndGlyphs" stroke="#333" stroke-width="0.25">0.25 (0.11 to 0.38)</text>
<line x1="588.47" y1="358.4" x2="613.45" y2="358.4" stroke="#8a8a8a" stroke-width="0.9" />
<circle cx="601.42" cy="358.4" r="1.15" fill="#000"/>
<text x="475" y="371.28" font-size="8" font-weight="normal" text-anchor="start" fill="#333"  textLength="71.32" lengthAdjust="spacingAndGlyphs" stroke="#333" stroke-width="0.25">Antihypertensive therapy</text>
<text x="620.7" y="371.28" font-size="8" font-weight="normal" text-anchor="start" fill="#333"  textLength="52.95" lengthAdjust="spacingAndGlyphs" stroke="#333" stroke-width="0.25">0.15 (0.02 to 0.28)</text>
<line x1="580.15" y1="368.4" x2="604.2" y2="368.4" stroke="#8a8a8a" stroke-width="0.9" />
<circle cx="592.17" cy="368.4" r="1.15" fill="#000"/>
<text x="475" y="381.28" font-size="8" font-weight="normal" text-anchor="start" fill="#333"  textLength="35.29" lengthAdjust="spacingAndGlyphs" stroke="#333" stroke-width="0.25">Heart failure</text>
<text x="620.7" y="381.28" font-size="8" font-weight="normal" text-anchor="start" fill="#333"  textLength="59.42" lengthAdjust="spacingAndGlyphs" stroke="#333" stroke-width="0.25">-0.20 (-0.34 to -0.06)</text>
<line x1="546.85" y1="378.4" x2="572.75" y2="378.4" stroke="#8a8a8a" stroke-width="0.9" />
<circle cx="559.8" cy="378.4" r="1.15" fill="#000"/>
<text x="475" y="391.38" font-size="8" font-weight="normal" text-anchor="start" fill="#333"  textLength="11.53" lengthAdjust="spacingAndGlyphs" stroke="#333" stroke-width="0.25">Age</text>
<text x="620.7" y="391.38" font-size="8" font-weight="normal" text-anchor="start" fill="#333"  textLength="52.95" lengthAdjust="spacingAndGlyphs" stroke="#333" stroke-width="0.25">0.28 (0.15 to 0.42)</text>
<line x1="592.17" y1="388.5" x2="617.15" y2="388.5" stroke="#8a8a8a" stroke-width="0.9" />
<circle cx="604.2" cy="388.5" r="1.15" fill="#000"/>
<text x="475" y="401.08" font-size="8" font-weight="normal" text-anchor="start" fill="#333"  textLength="48.26" lengthAdjust="spacingAndGlyphs" stroke="#333" stroke-width="0.25">Total Cholesterol</text>
<text x="620.7" y="401.08" font-size="8" font-weight="normal" text-anchor="start" fill="#333"  textLength="52.95" lengthAdjust="spacingAndGlyphs" stroke="#333" stroke-width="0.25">0.15 (0.02 to 0.28)</text>
<line x1="580.15" y1="398.2" x2="604.2" y2="398.2" stroke="#8a8a8a" stroke-width="0.9" />
<circle cx="592.17" cy="398.2" r="1.15" fill="#000"/>
<text x="475" y="411.18" font-size="8" font-weight="normal" text-anchor="start" fill="#333"  textLength="25.2" lengthAdjust="spacingAndGlyphs" stroke="#333" stroke-width="0.25">Diuretics</text>
<text x="620.7" y="411.18" font-size="8" font-weight="normal" text-anchor="start" fill="#333"  textLength="52.95" lengthAdjust="spacingAndGlyphs" stroke="#333" stroke-width="0.25">0.22 (0.08 to 0.37)</text>
<line x1="585.7" y1="408.3" x2="612.52" y2="408.3" stroke="#8a8a8a" stroke-width="0.9" />
<circle cx="598.65" cy="408.3" r="1.15" fill="#000"/>
<text x="475" y="420.88" font-size="8" font-weight="normal" text-anchor="start" fill="#333"  textLength="20.88" lengthAdjust="spacingAndGlyphs" stroke="#333" stroke-width="0.25">CK-MB</text>
<text x="620.7" y="420.88" font-size="8" font-weight="normal" text-anchor="start" fill="#333"  textLength="59.42" lengthAdjust="spacingAndGlyphs" stroke="#333" stroke-width="0.25">-0.14 (-0.26 to -0.01)</text>
<line x1="554.25" y1="418" x2="577.38" y2="418" stroke="#8a8a8a" stroke-width="0.9" />
<circle cx="565.35" cy="418" r="1.15" fill="#000"/>
<line x1="578.3" y1="352" x2="578.3" y2="424" stroke="#666" stroke-width="0.7" stroke-dasharray="1.5,1.5" />
<line x1="546.9" y1="423.3" x2="616.6" y2="423.3" stroke="#444" stroke-width="0.9" />
<line x1="559.8" y1="423.3" x2="559.8" y2="426.5" stroke="#444" stroke-width="0.9" />
<line x1="578.3" y1="423.3" x2="578.3" y2="426.5" stroke="#444" stroke-width="0.9" />
<line x1="596.8" y1="423.3" x2="596.8" y2="426.5" stroke="#444" stroke-width="0.9" />
<line x1="615.3" y1="423.3" x2="615.3" y2="426.5" stroke="#444" stroke-width="0.9" />
<text x="559.8" y="434.88" font-size="8" font-weight="normal" text-anchor="middle" fill="#333"  textLength="11.16" lengthAdjust="spacingAndGlyphs" stroke="#333" stroke-width="0.25">-0.2</text>
<text x="578.3" y="434.88" font-size="8" font-weight="normal" text-anchor="middle" fill="#333"  textLength="3.6" lengthAdjust="spacingAndGlyphs" stroke="#333" stroke-width="0.25">0</text>
<text x="596.8" y="434.88" font-size="8" font-weight="normal" text-anchor="middle" fill="#333"  textLength="9.01" lengthAdjust="spacingAndGlyphs" stroke="#333" stroke-width="0.25">0.2</text>
<text x="615.3" y="434.88" font-size="8" font-weight="normal" text-anchor="middle" fill="#333"  textLength="9.01" lengthAdjust="spacingAndGlyphs" stroke="#333" stroke-width="0.25">0.4</text>
<text x="2.5" y="496.02" font-size="19.5" font-weight="bold" text-anchor="start" fill="#111"  stroke="#111" stroke-width="0.25">H</text>
<rect x="2.8" y="518.4" width="290.6" height="13.2" fill="#eef1f0" stroke="none" stroke-width="0" />
<rect x="2.8" y="545.8" width="290.6" height="13.2" fill="#eef1f0" stroke="none" stroke-width="0" />
<text x="8.1" y="513.78" font-size="10.5" font-weight="bold" text-anchor="start" fill="#222"  textLength="94.8" lengthAdjust="spacingAndGlyphs" stroke="#222" stroke-width="0.25">Independent variables</text>
<text x="208.7" y="513.68" font-size="10.5" font-weight="bold" text-anchor="start" fill="#222"  textLength="52.5" lengthAdjust="spacingAndGlyphs" stroke="#222" stroke-width="0.25">HR (95% CI)</text>
<text x="8.1" y="528.78" font-size="10.5" font-weight="normal" text-anchor="start" fill="#333"  textLength="19.12" lengthAdjust="spacingAndGlyphs" stroke="#333" stroke-width="0.25">Urea</text>
<text x="208.7" y="528.78" font-size="10.5" font-weight="normal" text-anchor="start" fill="#333"  textLength="72.07" lengthAdjust="spacingAndGlyphs" stroke="#333" stroke-width="0.25">0.28 (0.08 to 0.48)</text>
<line x1="163.7" y1="525" x2="204.7" y2="525" stroke="#333" stroke-width="1" />
<circle cx="184.2" cy="525" r="1.7" fill="#000"/>
<text x="8.1" y="542.58" font-size="10.5" font-weight="normal" text-anchor="start" fill="#333"  textLength="24.01" lengthAdjust="spacingAndGlyphs" stroke="#333" stroke-width="0.25">HDLC</text>
<text x="208.7" y="542.58" font-size="10.5" font-weight="normal" text-anchor="start" fill="#333"  textLength="80.88" lengthAdjust="spacingAndGlyphs" stroke="#333" stroke-width="0.25">-0.27 (-0.47 to -0.08)</text>
<line x1="107.33" y1="538.8" x2="147.3" y2="538.8" stroke="#333" stroke-width="1" />
<circle cx="127.83" cy="538.8" r="1.7" fill="#000"/>
<text x="8.1" y="556.18" font-size="10.5" font-weight="normal" text-anchor="start" fill="#333"  textLength="77.46" lengthAdjust="spacingAndGlyphs" stroke="#333" stroke-width="0.25">Antidiabetic therapy</text>
<text x="208.7" y="556.18" font-size="10.5" font-weight="normal" text-anchor="start" fill="#333"  textLength="80.88" lengthAdjust="spacingAndGlyphs" stroke="#333" stroke-width="0.25">-0.23 (-0.41 to -0.04)</text>
<line x1="113.47" y1="552.4" x2="151.4" y2="552.4" stroke="#333" stroke-width="1" />
<circle cx="131.93" cy="552.4" r="1.7" fill="#000"/>
<text x="8.1" y="570.38" font-size="10.5" font-weight="normal" text-anchor="start" fill="#333"  textLength="36.75" lengthAdjust="spacingAndGlyphs" stroke="#333" stroke-width="0.25">sGPNMB</text>
<text x="208.7" y="570.38" font-size="10.5" font-weight="normal" text-anchor="start" fill="#333"  textLength="72.07" lengthAdjust="spacingAndGlyphs" stroke="#333" stroke-width="0.25">0.22 (0.02 to 0.41)</text>
<line x1="157.55" y1="566.6" x2="197.53" y2="566.6" stroke="#333" stroke-width="1" />
<circle cx="178.05" cy="566.6" r="1.7" fill="#000"/>
<line x1="155.5" y1="519" x2="155.5" y2="573.8" stroke="#555" stroke-width="0.8" stroke-dasharray="2,1.5" />
<line x1="107.3" y1="572.2" x2="204.3" y2="572.2" stroke="#444" stroke-width="1" />
<line x1="114.5" y1="572.2" x2="114.5" y2="575.8" stroke="#444" stroke-width="1" />
<line x1="135" y1="572.2" x2="135" y2="575.8" stroke="#444" stroke-width="1" />
<line x1="155.5" y1="572.2" x2="155.5" y2="575.8" stroke="#444" stroke-width="1" />
<line x1="176" y1="572.2" x2="176" y2="575.8" stroke="#444" stroke-width="1" />
<line x1="196.5" y1="572.2" x2="196.5" y2="575.8" stroke="#444" stroke-width="1" />
<text x="114.5" y="587.48" font-size="10.5" font-weight="normal" text-anchor="middle" fill="#333"  textLength="15.2" lengthAdjust="spacingAndGlyphs" stroke="#333" stroke-width="0.25">-0.4</text>
<text x="135" y="587.48" font-size="10.5" font-weight="normal" text-anchor="middle" fill="#333"  textLength="15.2" lengthAdjust="spacingAndGlyphs" stroke="#333" stroke-width="0.25">-0.2</text>
<text x="155.5" y="587.48" font-size="10.5" font-weight="normal" text-anchor="middle" fill="#333"  textLength="4.9" lengthAdjust="spacingAndGlyphs" stroke="#333" stroke-width="0.25">0</text>
<text x="176" y="587.48" font-size="10.5" font-weight="normal" text-anchor="middle" fill="#333"  textLength="12.26" lengthAdjust="spacingAndGlyphs" stroke="#333" stroke-width="0.25">0.2</text>
<text x="196.5" y="587.48" font-size="10.5" font-weight="normal" text-anchor="middle" fill="#333"  textLength="12.26" lengthAdjust="spacingAndGlyphs" stroke="#333" stroke-width="0.25">0.4</text>
<text x="305.2" y="496.23" font-size="17.3" font-weight="bold" text-anchor="start" fill="#111"  stroke="#111" stroke-width="0.25">I</text>
<text x="428.3" y="495.9" font-size="15" font-weight="bold" text-anchor="middle" fill="#111"  stroke="#111" stroke-width="0.25">Aorta</text>
<line x1="360" y1="502.5" x2="497.7" y2="502.5" stroke="#111" stroke-width="1.4" />
<text x="382.8" y="516.15" font-size="9.3" font-weight="bold" text-anchor="middle" fill="#111"  stroke="#111" stroke-width="0.25">22w</text>
<line x1="362.5" y1="519" x2="402.5" y2="519" stroke="#111" stroke-width="1.2" />
<text x="423.5" y="516.15" font-size="9.3" font-weight="bold" text-anchor="middle" fill="#111"  stroke="#111" stroke-width="0.25">24w</text>
<line x1="406.4" y1="519" x2="445.8" y2="519" stroke="#111" stroke-width="1.2" />
<text x="470" y="516.15" font-size="9.3" font-weight="bold" text-anchor="middle" fill="#111"  stroke="#111" stroke-width="0.25">26w</text>
<line x1="450.2" y1="519" x2="489.5" y2="519" stroke="#111" stroke-width="1.2" />
<text x="371" y="531.4" font-size="8.6" font-weight="bold" text-anchor="middle" fill="#111"  stroke="#111" stroke-width="0.25">CD</text>
<text x="394.6" y="531.4" font-size="8.6" font-weight="bold" text-anchor="middle" fill="#111"  stroke="#111" stroke-width="0.25">WD</text>
<text x="417" y="531.4" font-size="8.6" font-weight="bold" text-anchor="middle" fill="#111"  stroke="#111" stroke-width="0.25">CD</text>
<text x="439.4" y="531.4" font-size="8.6" font-weight="bold" text-anchor="middle" fill="#111"  stroke="#111" stroke-width="0.25">WD</text>
<text x="458.8" y="531.4" font-size="8.6" font-weight="bold" text-anchor="middle" fill="#111"  stroke="#111" stroke-width="0.25">CD</text>
<text x="479.3" y="531.4" font-size="8.6" font-weight="bold" text-anchor="middle" fill="#111"  stroke="#111" stroke-width="0.25">WD</text>
<text x="313" y="550.02" font-size="10.6" font-weight="bold" text-anchor="start" fill="#111"  textLength="41" lengthAdjust="spacingAndGlyphs" stroke="#111" stroke-width="0.25">GPNMB</text>
<text x="313" y="578.12" font-size="10.6" font-weight="bold" text-anchor="start" fill="#111"  textLength="39.5" lengthAdjust="spacingAndGlyphs" stroke="#111" stroke-width="0.25">GAPDH</text>
<text x="493.6" y="524.61" font-size="12.8" font-weight="bold" text-anchor="start" fill="#111"  textLength="23.4" lengthAdjust="spacingAndGlyphs" stroke="#111" stroke-width="0.25">KDa</text>
<text x="493.6" y="545.39" font-size="12.2" font-weight="bold" text-anchor="start" fill="#111"  textLength="17.4" lengthAdjust="spacingAndGlyphs" stroke="#111" stroke-width="0.25">120</text>
<text x="493.6" y="556.99" font-size="12.2" font-weight="bold" text-anchor="start" fill="#111"  stroke="#111" stroke-width="0.25">95</text>
<text x="495.6" y="578.79" font-size="12.2" font-weight="bold" text-anchor="start" fill="#111"  stroke="#111" stroke-width="0.25">36</text>
<defs>
<filter id="bl1" x="-50%" y="-50%" width="200%" height="200%"><feGaussianBlur stdDeviation="1.2"/></filter>
<filter id="bl2" x="-50%" y="-50%" width="200%" height="200%"><feGaussianBlur stdDeviation="2.2"/></filter>
<clipPath id="cp1"><rect x="362" y="534.5" width="128" height="25.5"/></clipPath>
<clipPath id="cp2"><rect x="362" y="563.5" width="128" height="23.2"/></clipPath>
</defs>
<rect x="361.4" y="533.5" width="129.1" height="27.1" fill="#f2f3f3" stroke="none" stroke-width="0" />
<g clip-path="url(#cp1)" filter="url(#bl1)">
<rect x="388" y="538" width="14" height="5" fill="#e2e2e2"/>
<ellipse cx="395" cy="552" rx="7" ry="1.8" fill="#cfcfcf"/>
<rect x="431" y="536" width="13" height="12" fill="#dcdcdc"/>
<ellipse cx="437.5" cy="552.3" rx="6.5" ry="2.2" fill="#3a3a3a"/>
<ellipse cx="459" cy="552.3" rx="6.5" ry="1.4" fill="#e2e2e2"/>
<path d="M473,537 L486,536.5 L488,546 L488.5,556 L473,556.5 L472,550 Z" fill="#1e1e1e"/>
<path d="M472,547.5 L488.5,546.5 L489,556.5 L472,557 Z" fill="#000"/>
</g>
<filter id="bl3" x="-20%" y="-20%" width="140%" height="140%"><feGaussianBlur stdDeviation="1.5"/></filter>
<rect x="361.4" y="562.7" width="129.1" height="24.7" fill="#c4c4c4" stroke="none" stroke-width="0" />
<g clip-path="url(#cp2)" filter="url(#bl3)">
<rect x="362" y="567" width="128" height="17" fill="#a8a8a8"/>
<path d="M366,567 L377,566 L380.5,572 L379.5,579 L372,584 L364,580 L362.5,572 Z" fill="#000"/>
<rect x="385.6" y="569.2" width="16.5" height="14" rx="2.5" fill="#050505"/>
<rect x="409" y="570.2" width="14.5" height="13" rx="2" fill="#3a3a3a"/>
<rect x="409" y="574.5" width="14.5" height="1.2" fill="#555"/>
<rect x="409" y="578.8" width="14.5" height="1.2" fill="#555"/>
<rect x="431" y="568.5" width="13.7" height="14.6" rx="2" fill="#2e2e2e"/>
<rect x="431" y="573.5" width="13.7" height="1.2" fill="#4a4a4a"/>
<rect x="431" y="578" width="13.7" height="1.2" fill="#4a4a4a"/>
<rect x="451.6" y="566.8" width="14.4" height="18" rx="2" fill="#1e1e1e"/>
<path d="M472,565.5 L485,565.5 L489,573.5 L486,584.5 L472,585 Z" fill="#050505"/>
</g>
<rect x="361.4" y="533.5" width="129.1" height="27.1" fill="none" stroke="#2a2a2a" stroke-width="1.3" />
<rect x="361.4" y="562.7" width="129.1" height="24.7" fill="none" stroke="#2a2a2a" stroke-width="1.3" />
<line x1="562.4" y1="467.4" x2="562.4" y2="576" stroke="#111" stroke-width="1.2" />
<line x1="559.5" y1="576" x2="562.4" y2="576" stroke="#111" stroke-width="1.1" />
<text x="558.8" y="578.81" font-size="7.8" font-weight="bold" text-anchor="end" fill="#111"  stroke="#111" stroke-width="0.25" font-family='"Liberation Serif", serif'>0</text>
<line x1="559.5" y1="554.28" x2="562.4" y2="554.28" stroke="#111" stroke-width="1.1" />
<text x="558.8" y="557.09" font-size="7.8" font-weight="bold" text-anchor="end" fill="#111"  stroke="#111" stroke-width="0.25" font-family='"Liberation Serif", serif'>2</text>
<line x1="559.5" y1="532.56" x2="562.4" y2="532.56" stroke="#111" stroke-width="1.1" />
<text x="558.8" y="535.37" font-size="7.8" font-weight="bold" text-anchor="end" fill="#111"  stroke="#111" stroke-width="0.25" font-family='"Liberation Serif", serif'>4</text>
<line x1="559.5" y1="510.84" x2="562.4" y2="510.84" stroke="#111" stroke-width="1.1" />
<text x="558.8" y="513.65" font-size="7.8" font-weight="bold" text-anchor="end" fill="#111"  stroke="#111" stroke-width="0.25" font-family='"Liberation Serif", serif'>6</text>
<line x1="559.5" y1="489.12" x2="562.4" y2="489.12" stroke="#111" stroke-width="1.1" />
<text x="558.8" y="491.93" font-size="7.8" font-weight="bold" text-anchor="end" fill="#111"  stroke="#111" stroke-width="0.25" font-family='"Liberation Serif", serif'>8</text>
<line x1="559.5" y1="467.4" x2="562.4" y2="467.4" stroke="#111" stroke-width="1.1" />
<text x="558.8" y="470.21" font-size="7.8" font-weight="bold" text-anchor="end" fill="#111"  stroke="#111" stroke-width="0.25" font-family='"Liberation Serif", serif'>10</text>
<line x1="562.4" y1="576" x2="678.2" y2="576" stroke="#111" stroke-width="1.2" />
<line x1="583.3" y1="576" x2="583.3" y2="579" stroke="#111" stroke-width="1.1" />
<line x1="619" y1="576" x2="619" y2="579" stroke="#111" stroke-width="1.1" />
<line x1="655.6" y1="576" x2="655.6" y2="579" stroke="#111" stroke-width="1.1" />
<text x="583.9" y="592.58" font-size="10.5" font-weight="bold" text-anchor="middle" fill="#111"  stroke="#111" stroke-width="0.25">22w</text>
<text x="619.5" y="592.58" font-size="10.5" font-weight="bold" text-anchor="middle" fill="#111"  stroke="#111" stroke-width="0.25">24w</text>
<text x="656" y="592.58" font-size="10.5" font-weight="bold" text-anchor="middle" fill="#111"  stroke="#111" stroke-width="0.25">26w</text>
<text x="0" y="0" font-size="9.2" font-weight="normal" fill="#000" text-anchor="middle" transform="translate(542.81 521.3) rotate(-90)" textLength="130.6" lengthAdjust="spacingAndGlyphs" stroke="#000" stroke-width="0.35">Relative expression of GPNMB</text>
<defs>
<pattern id="hbb" patternUnits="userSpaceOnUse" width="3" height="3" patternTransform="rotate(45)"><rect width="3" height="3" fill="#a9a9f2"/><rect width="1.2" height="3" fill="#7b7bd8"/></pattern>
<pattern id="hrb" patternUnits="userSpaceOnUse" width="3" height="3" patternTransform="rotate(45)"><rect width="3" height="3" fill="#f0b8b8"/><rect width="1.2" height="3" fill="#d48a8a"/></pattern>
</defs>
<rect x="569.9" y="565.3" width="12.3" height="10.7" fill="url(#hbb)" stroke="#5050ff" stroke-width="1.4" />
<rect x="586" y="560.5" width="11.9" height="15.5" fill="url(#hrb)" stroke="#ee4040" stroke-width="1.4" />
<rect x="606.1" y="562.4" width="12.1" height="13.6" fill="url(#hbb)" stroke="#5050ff" stroke-width="1.4" />
<rect x="622.2" y="544.1" width="11.9" height="31.9" fill="url(#hrb)" stroke="#ee4040" stroke-width="1.4" />
<rect x="642.7" y="557.4" width="11.9" height="18.6" fill="url(#hbb)" stroke="#5050ff" stroke-width="1.4" />
<rect x="658.4" y="497.7" width="11.9" height="78.3" fill="url(#hrb)" stroke="#ee4040" stroke-width="1.4" />
<line x1="592" y1="557.4" x2="592" y2="562" stroke="#b02828" stroke-width="1.2" />
<line x1="588.6" y1="557.4" x2="595.4" y2="557.4" stroke="#b02828" stroke-width="1.2" />
<line x1="588.6" y1="562" x2="595.4" y2="562" stroke="#b02828" stroke-width="1.2" />
<line x1="612.2" y1="559.8" x2="612.2" y2="564" stroke="#2828b0" stroke-width="1.2" />
<line x1="608.8" y1="559.8" x2="615.6" y2="559.8" stroke="#2828b0" stroke-width="1.2" />
<line x1="608.8" y1="564" x2="615.6" y2="564" stroke="#2828b0" stroke-width="1.2" />
<line x1="628.2" y1="532" x2="628.2" y2="556.2" stroke="#b02828" stroke-width="1.2" />
<line x1="624.8" y1="532" x2="631.6" y2="532" stroke="#b02828" stroke-width="1.2" />
<line x1="624.8" y1="556.2" x2="631.6" y2="556.2" stroke="#b02828" stroke-width="1.2" />
<line x1="648.7" y1="553.3" x2="648.7" y2="559.8" stroke="#2828b0" stroke-width="1.2" />
<line x1="645.3" y1="553.3" x2="652.1" y2="553.3" stroke="#2828b0" stroke-width="1.2" />
<line x1="645.3" y1="559.8" x2="652.1" y2="559.8" stroke="#2828b0" stroke-width="1.2" />
<line x1="664.4" y1="477.8" x2="664.4" y2="515.2" stroke="#b02828" stroke-width="1.2" />
<line x1="661" y1="477.8" x2="667.8" y2="477.8" stroke="#b02828" stroke-width="1.2" />
<line x1="661" y1="515.2" x2="667.8" y2="515.2" stroke="#b02828" stroke-width="1.2" />
<circle cx="571.6" cy="565.3" r="1.7" fill="#2a2ab8"/>
<circle cx="575.7" cy="565.3" r="1.7" fill="#2a2ab8"/>
<circle cx="579.8" cy="565.3" r="1.7" fill="#2a2ab8"/>
<circle cx="608.3" cy="561.7" r="1.7" fill="#2a2ab8"/>
<circle cx="611.4" cy="563" r="1.7" fill="#2a2ab8"/>
<circle cx="615" cy="561.5" r="1.7" fill="#2a2ab8"/>
<circle cx="645" cy="553.8" r="1.7" fill="#2a2ab8"/>
<circle cx="648.8" cy="557.4" r="1.7" fill="#2a2ab8"/>
<circle cx="651.7" cy="556.2" r="1.7" fill="#2a2ab8"/>
<rect x="587.5" y="556.4" width="3" height="3" fill="#a81818" stroke="none" stroke-width="0" />
<rect x="591.1" y="559.5" width="3" height="3" fill="#a81818" stroke="none" stroke-width="0" />
<rect x="594.7" y="559" width="3" height="3" fill="#a81818" stroke="none" stroke-width="0" />
<rect x="623.2" y="534.9" width="3" height="3" fill="#a81818" stroke="none" stroke-width="0" />
<rect x="630.4" y="536.1" width="3" height="3" fill="#a81818" stroke="none" stroke-width="0" />
<rect x="626.8" y="554.2" width="3" height="3" fill="#a81818" stroke="none" stroke-width="0" />
<rect x="662.7" y="473.4" width="3" height="3" fill="#a81818" stroke="none" stroke-width="0" />
<rect x="658.6" y="506.4" width="3" height="3" fill="#a81818" stroke="none" stroke-width="0" />
<rect x="665.9" y="504.7" width="3" height="3" fill="#a81818" stroke="none" stroke-width="0" />
<line x1="575" y1="551.8" x2="592" y2="551.8" stroke="#111" stroke-width="2.2" />
<text x="583.5" y="548.76" font-size="9.6" font-weight="bold" text-anchor="middle" fill="#111"  textLength="27.6" lengthAdjust="spacingAndGlyphs" stroke="#111" stroke-width="0.25">0.0225</text>
<line x1="613" y1="526" x2="630" y2="526" stroke="#111" stroke-width="2.2" />
<text x="622.1" y="523.46" font-size="9.6" font-weight="bold" text-anchor="middle" fill="#111"  textLength="27.6" lengthAdjust="spacingAndGlyphs" stroke="#111" stroke-width="0.25">0.0442</text>
<line x1="645.7" y1="469.3" x2="663.8" y2="469.3" stroke="#111" stroke-width="2.2" />
<text x="654.4" y="465.96" font-size="9.6" font-weight="bold" text-anchor="middle" fill="#111"  textLength="27.6" lengthAdjust="spacingAndGlyphs" stroke="#111" stroke-width="0.25">0.0055</text>
<rect x="569.2" y="466.4" width="12" height="6" fill="url(#hbb)" stroke="#5050ff" stroke-width="1.2" />
<rect x="569.2" y="481.4" width="12" height="6" fill="url(#hrb)" stroke="#ee4040" stroke-width="1.2" />
<text x="587.3" y="473.53" font-size="9.8" font-weight="bold" text-anchor="start" fill="#111"  textLength="12.5" lengthAdjust="spacingAndGlyphs" stroke="#111" stroke-width="0.25">CD</text>
<text x="587.3" y="488.53" font-size="9.8" font-weight="bold" text-anchor="start" fill="#111"  textLength="14.9" lengthAdjust="spacingAndGlyphs" stroke="#111" stroke-width="0.25">WD</text>
</svg></body></html>
